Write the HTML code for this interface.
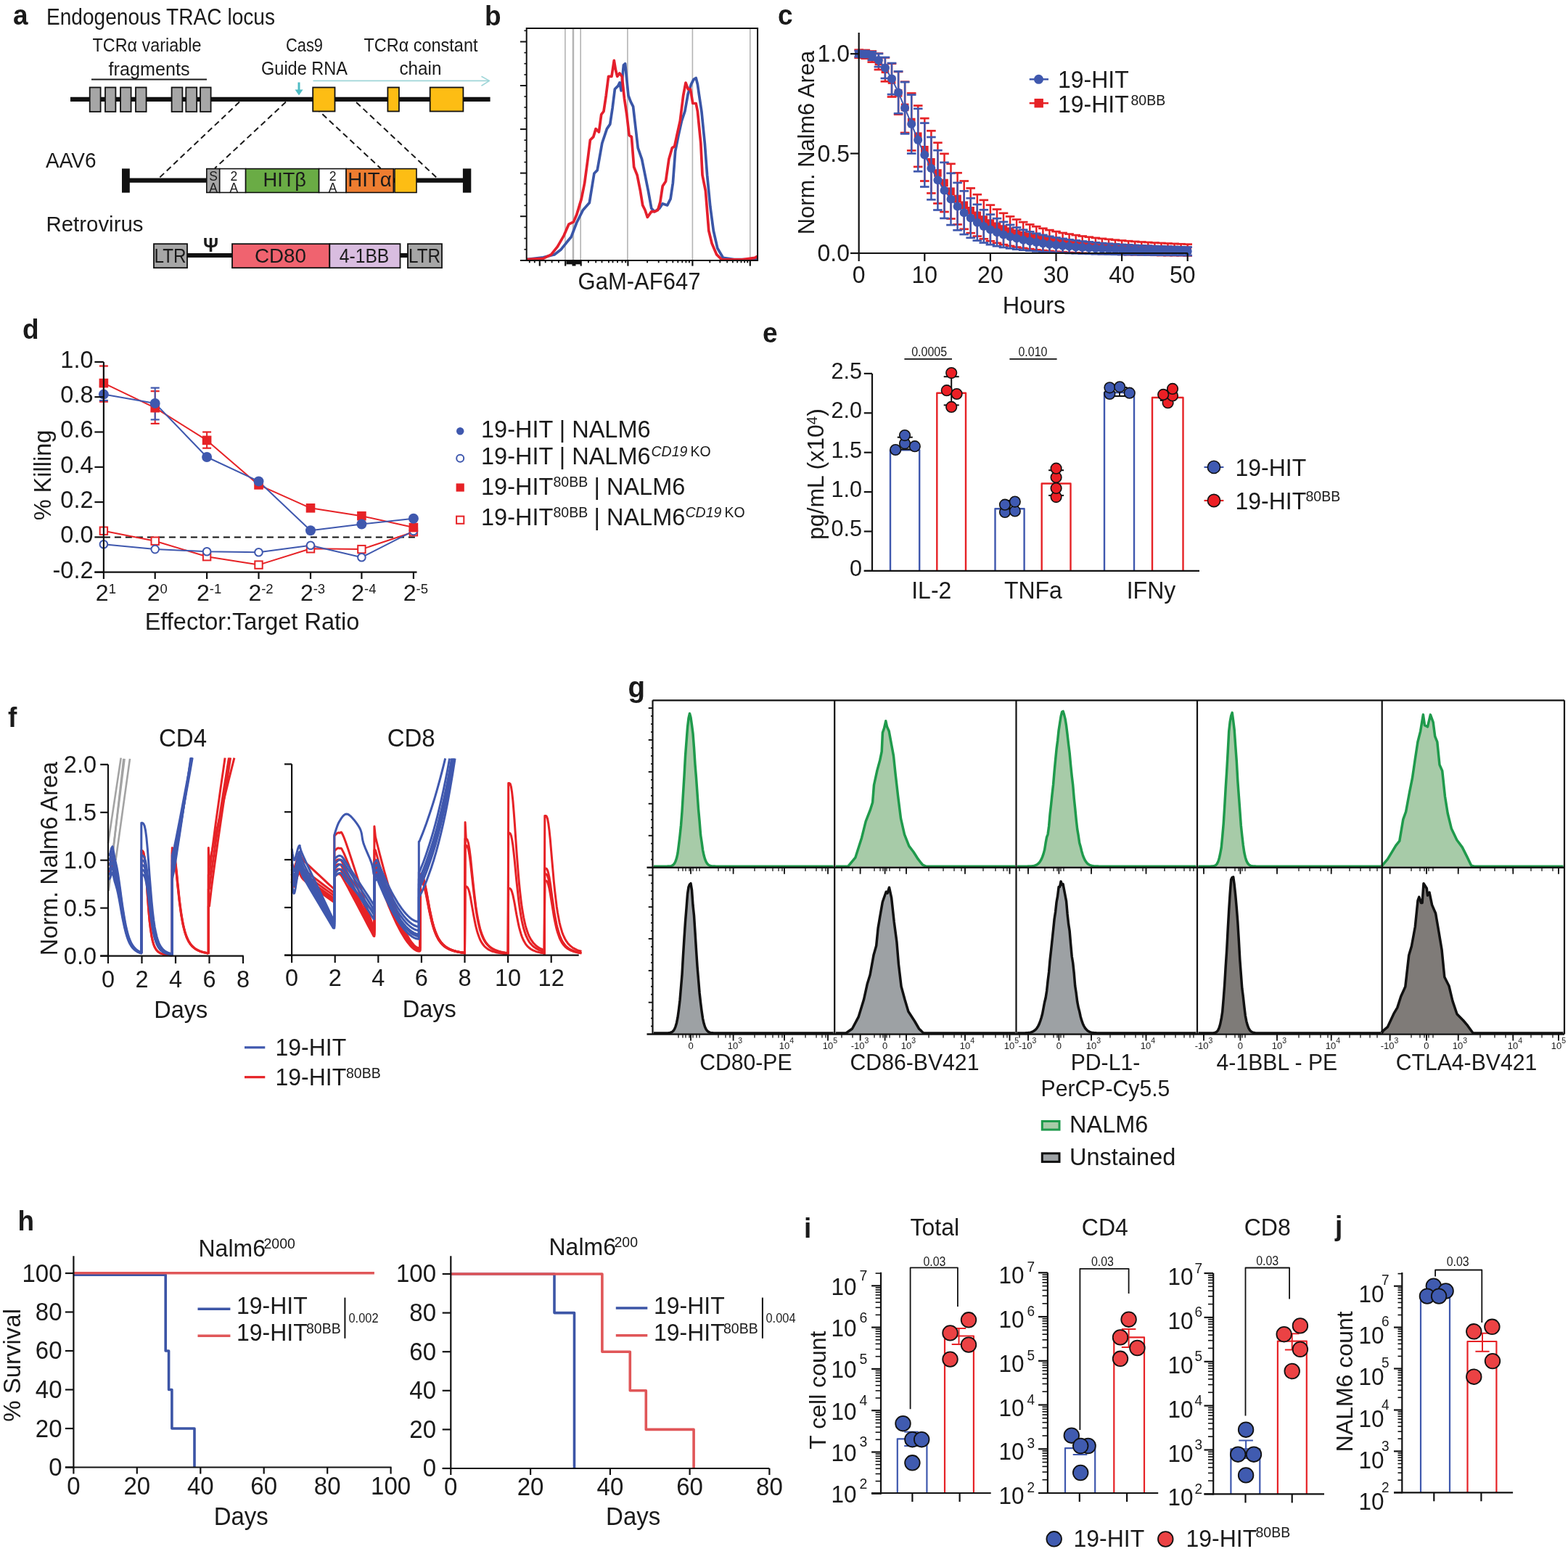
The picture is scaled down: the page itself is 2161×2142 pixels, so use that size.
<!DOCTYPE html>
<html><head><meta charset="utf-8"><title>Figure</title>
<style>html,body{margin:0;padding:0;background:#fff;} svg{display:block;} text{font-family:'Liberation Sans', Arial, sans-serif;fill:#1a1a1a;}</style>
</head><body>
<svg xmlns="http://www.w3.org/2000/svg" width="2161" height="2142" viewBox="0 0 2161 2142">
<rect width="2161" height="2142" fill="#fff"/>
<text x="18" y="34" font-size="37" font-weight="bold" fill="#222222" transform="translate(0 -1.7) scale(1 1.05)">a</text>
<text x="64" y="34" font-size="30.5" textLength="315" lengthAdjust="spacingAndGlyphs" fill="#222222" transform="translate(0 -1.7) scale(1 1.05)">Endogenous TRAC locus</text>
<text x="127.5" y="71" font-size="24.5" textLength="150" lengthAdjust="spacingAndGlyphs" fill="#222222" transform="translate(0 -3.6) scale(1 1.05)">TCRα variable</text>
<text x="149.5" y="103.6" font-size="24.5" textLength="112" lengthAdjust="spacingAndGlyphs" fill="#222222" transform="translate(0 -5.2) scale(1 1.05)">fragments</text>
<text x="394" y="70.6" font-size="24.5" textLength="51" lengthAdjust="spacingAndGlyphs" fill="#222222" transform="translate(0 -3.5) scale(1 1.05)">Cas9</text>
<text x="360" y="103" font-size="24.5" textLength="119" lengthAdjust="spacingAndGlyphs" fill="#222222" transform="translate(0 -5.2) scale(1 1.05)">Guide RNA</text>
<text x="501.5" y="70.6" font-size="24.5" textLength="157" lengthAdjust="spacingAndGlyphs" fill="#222222" transform="translate(0 -3.5) scale(1 1.05)">TCRα constant</text>
<text x="550.5" y="103" font-size="24.5" textLength="58" lengthAdjust="spacingAndGlyphs" fill="#222222" transform="translate(0 -5.2) scale(1 1.05)">chain</text>
<line x1="126" y1="109.6" x2="285" y2="109.6" stroke="#1a1a1a" stroke-width="2"/>
<line x1="330" y1="140.6" x2="219" y2="245.6" stroke="#1a1a1a" stroke-width="2" stroke-dasharray="8 5"/>
<line x1="394" y1="140.6" x2="296" y2="232" stroke="#1a1a1a" stroke-width="2" stroke-dasharray="8 5"/>
<line x1="434.8" y1="148.5" x2="524.6" y2="232" stroke="#1a1a1a" stroke-width="2" stroke-dasharray="8 5"/>
<line x1="491" y1="141" x2="603" y2="246" stroke="#1a1a1a" stroke-width="2" stroke-dasharray="8 5"/>
<line x1="97" y1="136.9" x2="675.6" y2="136.9" stroke="#111" stroke-width="6.2"/>
<rect x="123.7" y="120.5" width="14.9" height="33.5" fill="#a6a6a6" stroke="#111" stroke-width="1.8"/>
<rect x="145" y="120.5" width="14.4" height="33.5" fill="#a6a6a6" stroke="#111" stroke-width="1.8"/>
<rect x="166" y="120.5" width="14.6" height="33.5" fill="#a6a6a6" stroke="#111" stroke-width="1.8"/>
<rect x="187" y="120.5" width="14.6" height="33.5" fill="#a6a6a6" stroke="#111" stroke-width="1.8"/>
<rect x="236.6" y="120.5" width="14.8" height="33.5" fill="#a6a6a6" stroke="#111" stroke-width="1.8"/>
<rect x="256.3" y="120.5" width="14.9" height="33.5" fill="#a6a6a6" stroke="#111" stroke-width="1.8"/>
<rect x="276" y="120.5" width="14.6" height="33.5" fill="#a6a6a6" stroke="#111" stroke-width="1.8"/>
<rect x="431.2" y="120.5" width="30.3" height="33" fill="#fdbd14" stroke="#111" stroke-width="1.8"/>
<rect x="534.4" y="120.5" width="15.5" height="33" fill="#fdbd14" stroke="#111" stroke-width="1.8"/>
<rect x="592.7" y="120.5" width="45.7" height="33" fill="#fdbd14" stroke="#111" stroke-width="1.8"/>
<line x1="431.5" y1="111.4" x2="674" y2="111.4" stroke="#9fd6d8" stroke-width="1.6"/>
<polyline points="663.5,105.3 674.5,111.4 663.5,118.3" fill="none" stroke="#9fd6d8" stroke-width="1.6" stroke-linejoin="round"/>
<line x1="412" y1="113.5" x2="412" y2="125" stroke="#4fbcc4" stroke-width="3"/>
<polygon points="406.5,123.5 417.5,123.5 412.0,131.5" fill="#4fbcc4" stroke="none" stroke-width="0" stroke-linejoin="round"/>
<text x="63" y="230.8" font-size="28" textLength="69.5" lengthAdjust="spacingAndGlyphs" fill="#222222" transform="translate(0 -11.5) scale(1 1.05)">AAV6</text>
<line x1="170" y1="248.7" x2="640" y2="248.7" stroke="#111" stroke-width="6.2"/>
<rect x="168" y="232.4" width="10.8" height="33.2" fill="#111" stroke="none" stroke-width="0"/>
<rect x="637.9" y="232.4" width="11.4" height="33.2" fill="#111" stroke="none" stroke-width="0"/>
<rect x="284.8" y="232.6" width="17.9" height="32.8" fill="#a6a6a6" stroke="#111" stroke-width="1.6"/>
<rect x="302.7" y="232.6" width="35.9" height="32.8" fill="#ffffff" stroke="#111" stroke-width="1.6"/>
<rect x="338.6" y="232.6" width="101" height="32.8" fill="#6aac45" stroke="#111" stroke-width="1.6"/>
<rect x="439.6" y="232.6" width="37.5" height="32.8" fill="#ffffff" stroke="#111" stroke-width="1.6"/>
<rect x="477.1" y="232.6" width="65.2" height="32.8" fill="#ee7d30" stroke="#111" stroke-width="1.6"/>
<rect x="544" y="232.6" width="30" height="32.8" fill="#fdbd14" stroke="#111" stroke-width="1.6"/>
<text x="294" y="248.7" font-size="17.5" text-anchor="middle" fill="#222222" transform="translate(0 -12.4) scale(1 1.05)">S</text>
<text x="294" y="264.5" font-size="17.5" text-anchor="middle" fill="#222222" transform="translate(0 -13.2) scale(1 1.05)">A</text>
<text x="322.3" y="248.7" font-size="17.5" text-anchor="middle" fill="#222222" transform="translate(0 -12.4) scale(1 1.05)">2</text>
<text x="322.3" y="264.5" font-size="17.5" text-anchor="middle" fill="#222222" transform="translate(0 -13.2) scale(1 1.05)">A</text>
<text x="458.5" y="248.7" font-size="17.5" text-anchor="middle" fill="#222222" transform="translate(0 -12.4) scale(1 1.05)">2</text>
<text x="458.5" y="264.5" font-size="17.5" text-anchor="middle" fill="#222222" transform="translate(0 -13.2) scale(1 1.05)">A</text>
<text x="362.5" y="256.8" font-size="26" textLength="59.5" lengthAdjust="spacingAndGlyphs" fill="#222222" transform="translate(0 -12.8) scale(1 1.05)">HITβ</text>
<text x="479.2" y="256.8" font-size="26" textLength="60.5" lengthAdjust="spacingAndGlyphs" fill="#222222" transform="translate(0 -12.8) scale(1 1.05)">HITα</text>
<text x="63.5" y="318.8" font-size="28" textLength="134" lengthAdjust="spacingAndGlyphs" fill="#222222" transform="translate(0 -15.9) scale(1 1.05)">Retrovirus</text>
<line x1="258" y1="352" x2="320" y2="352" stroke="#111" stroke-width="6.2"/>
<line x1="551.5" y1="352" x2="562" y2="352" stroke="#111" stroke-width="6.2"/>
<rect x="212" y="336.2" width="46" height="33" fill="#a6a6a6" stroke="#111" stroke-width="1.8"/>
<rect x="562" y="336.2" width="47" height="33" fill="#a6a6a6" stroke="#111" stroke-width="1.8"/>
<rect x="320" y="336.2" width="134.3" height="33" fill="#f0636f" stroke="#111" stroke-width="1.8"/>
<rect x="454.3" y="336.2" width="97.2" height="33" fill="#d9bde0" stroke="#111" stroke-width="1.8"/>
<text x="212.5" y="362.2" font-size="27" textLength="44" lengthAdjust="spacingAndGlyphs" fill="#222222" transform="translate(0 -18.1) scale(1 1.05)">LTR</text>
<text x="563" y="362.2" font-size="27" textLength="44" lengthAdjust="spacingAndGlyphs" fill="#222222" transform="translate(0 -18.1) scale(1 1.05)">LTR</text>
<text x="351" y="362.2" font-size="27" textLength="71" lengthAdjust="spacingAndGlyphs" fill="#222222" transform="translate(0 -18.1) scale(1 1.05)">CD80</text>
<text x="467.8" y="362.2" font-size="27" textLength="68.5" lengthAdjust="spacingAndGlyphs" fill="#222222" transform="translate(0 -18.1) scale(1 1.05)">4-1BB</text>
<text x="290.6" y="347.5" font-size="26" text-anchor="middle" font-weight="bold" fill="#222222" transform="translate(0 -17.4) scale(1 1.05)">Ψ</text>
<text x="668" y="35" font-size="37" font-weight="bold" transform="translate(0 -1.8) scale(1 1.05)">b</text>
<line x1="778.9" y1="39" x2="778.9" y2="359" stroke="#b4b4b4" stroke-width="1.6"/>
<line x1="789.5" y1="39" x2="789.5" y2="359" stroke="#b4b4b4" stroke-width="1.6"/>
<line x1="790.4" y1="39" x2="790.4" y2="359" stroke="#b4b4b4" stroke-width="1.6"/>
<line x1="800.2" y1="39" x2="800.2" y2="359" stroke="#b4b4b4" stroke-width="1.6"/>
<line x1="864.9" y1="39" x2="864.9" y2="359" stroke="#b4b4b4" stroke-width="1.6"/>
<line x1="954.4" y1="39" x2="954.4" y2="359" stroke="#b4b4b4" stroke-width="1.6"/>
<line x1="1033.8" y1="39" x2="1033.8" y2="359" stroke="#b4b4b4" stroke-width="1.6"/>
<polyline points="725.7,357.5 748.7,354.8 764.0,350.9 772.8,344.3 781.6,333.3 787.1,326.8 794.7,307.0 803.5,289.5 812.3,279.6 818.9,239.0 823.2,234.6 829.8,197.4 836.4,177.6 840.8,171.1 844.1,149.1 847.4,122.8 851.8,118.4 853.9,114.0 856.1,125.0 859.4,89.9 861.6,87.7 863.8,109.6 866.0,131.6 869.3,140.4 872.6,146.9 875.9,175.4 879.2,203.9 884.6,219.3 889.0,241.2 893.4,263.2 897.8,287.3 902.2,291.7 908.8,287.3 913.2,280.7 919.7,282.9 924.1,274.1 927.4,252.2 930.7,208.3 935.1,186.4 939.5,166.7 943.9,153.5 948.2,129.4 952.6,116.2 955.9,109.6 959.2,107.5 961.4,116.2 963.6,131.6 966.9,153.5 971.3,197.4 974.6,241.2 978.9,285.1 983.3,318.0 988.8,342.1 996.5,355.3 1011.8,357.5 1044.1,357.5" fill="none" stroke="#3a56a7" stroke-width="3.7" stroke-linejoin="round"/>
<polyline points="725.7,357.5 748.7,356.4 759.6,350.9 768.4,339.9 777.2,324.6 783.8,309.2 790.4,305.9 794.7,296.1 801.3,274.1 805.7,252.2 810.1,219.3 813.4,193.0 817.8,188.6 821.1,177.6 825.4,182.0 828.7,157.9 832.0,153.5 835.3,131.6 838.6,105.3 843.0,105.3 846.3,83.3 848.5,96.5 850.7,105.3 853.9,100.9 857.2,105.3 860.5,136.0 863.8,157.9 867.1,186.4 870.4,188.6 873.7,230.3 878.1,241.2 882.5,263.2 885.7,282.9 889.0,289.5 892.3,299.3 897.8,291.7 902.2,291.7 906.6,289.5 909.9,278.5 913.2,256.6 917.5,250.0 921.9,219.3 926.3,203.9 929.6,201.8 932.9,186.4 937.3,166.7 941.7,131.6 945.0,114.0 948.2,122.8 951.5,122.8 954.8,142.5 959.2,142.5 961.4,153.5 965.8,197.4 968.0,241.2 972.4,263.2 976.8,318.0 981.1,335.5 987.7,350.9 994.3,357.5 1022.8,357.9 1040.4,355.3 1044.1,353.1" fill="none" stroke="#e41f2c" stroke-width="3.7" stroke-linejoin="round"/>
<rect x="725.7" y="39" width="318.4" height="320" fill="none" stroke="#111" stroke-width="2"/>
<line x1="716.9" y1="57.5" x2="725.7" y2="57.5" stroke="#111" stroke-width="2"/>
<line x1="716.9" y1="118" x2="725.7" y2="118" stroke="#111" stroke-width="2"/>
<line x1="716.9" y1="178.1" x2="725.7" y2="178.1" stroke="#111" stroke-width="2"/>
<line x1="716.9" y1="238.6" x2="725.7" y2="238.6" stroke="#111" stroke-width="2"/>
<line x1="716.9" y1="298.2" x2="725.7" y2="298.2" stroke="#111" stroke-width="2"/>
<line x1="716.9" y1="359" x2="725.7" y2="359" stroke="#111" stroke-width="2"/>
<line x1="722.4" y1="72.6" x2="725.7" y2="72.6" stroke="#111" stroke-width="1.6"/>
<line x1="722.4" y1="87.7" x2="725.7" y2="87.7" stroke="#111" stroke-width="1.6"/>
<line x1="722.4" y1="102.9" x2="725.7" y2="102.9" stroke="#111" stroke-width="1.6"/>
<line x1="722.4" y1="133" x2="725.7" y2="133" stroke="#111" stroke-width="1.6"/>
<line x1="722.4" y1="148" x2="725.7" y2="148" stroke="#111" stroke-width="1.6"/>
<line x1="722.4" y1="163" x2="725.7" y2="163" stroke="#111" stroke-width="1.6"/>
<line x1="722.4" y1="193.2" x2="725.7" y2="193.2" stroke="#111" stroke-width="1.6"/>
<line x1="722.4" y1="208.3" x2="725.7" y2="208.3" stroke="#111" stroke-width="1.6"/>
<line x1="722.4" y1="223.5" x2="725.7" y2="223.5" stroke="#111" stroke-width="1.6"/>
<line x1="722.4" y1="253.5" x2="725.7" y2="253.5" stroke="#111" stroke-width="1.6"/>
<line x1="722.4" y1="268.4" x2="725.7" y2="268.4" stroke="#111" stroke-width="1.6"/>
<line x1="722.4" y1="283.3" x2="725.7" y2="283.3" stroke="#111" stroke-width="1.6"/>
<line x1="722.4" y1="313.4" x2="725.7" y2="313.4" stroke="#111" stroke-width="1.6"/>
<line x1="722.4" y1="328.6" x2="725.7" y2="328.6" stroke="#111" stroke-width="1.6"/>
<line x1="722.4" y1="343.8" x2="725.7" y2="343.8" stroke="#111" stroke-width="1.6"/>
<line x1="722.4" y1="42.3" x2="725.7" y2="42.3" stroke="#111" stroke-width="1.6"/>
<line x1="743.8" y1="359" x2="743.8" y2="366.6" stroke="#111" stroke-width="2.2"/>
<line x1="779.2" y1="359" x2="779.2" y2="366.6" stroke="#111" stroke-width="2.2"/>
<line x1="800.7" y1="359" x2="800.7" y2="366.6" stroke="#111" stroke-width="2.2"/>
<line x1="865.4" y1="359" x2="865.4" y2="366.6" stroke="#111" stroke-width="2.2"/>
<line x1="954.4" y1="359" x2="954.4" y2="366.6" stroke="#111" stroke-width="2.2"/>
<line x1="1033.8" y1="359" x2="1033.8" y2="366.6" stroke="#111" stroke-width="2.2"/>
<line x1="729.8" y1="359" x2="729.8" y2="362.3" stroke="#111" stroke-width="1.9"/>
<line x1="736.8" y1="359" x2="736.8" y2="362.3" stroke="#111" stroke-width="1.9"/>
<line x1="751.7" y1="359" x2="751.7" y2="362.3" stroke="#111" stroke-width="1.9"/>
<line x1="760.6" y1="359" x2="760.6" y2="362.3" stroke="#111" stroke-width="1.9"/>
<line x1="769.9" y1="359" x2="769.9" y2="362.3" stroke="#111" stroke-width="1.9"/>
<line x1="810.9" y1="359" x2="810.9" y2="362.3" stroke="#111" stroke-width="1.9"/>
<line x1="821.2" y1="359" x2="821.2" y2="362.3" stroke="#111" stroke-width="1.9"/>
<line x1="829.5" y1="359" x2="829.5" y2="362.3" stroke="#111" stroke-width="1.9"/>
<line x1="838.9" y1="359" x2="838.9" y2="362.3" stroke="#111" stroke-width="1.9"/>
<line x1="844.5" y1="359" x2="844.5" y2="362.3" stroke="#111" stroke-width="1.9"/>
<line x1="851" y1="359" x2="851" y2="362.3" stroke="#111" stroke-width="1.9"/>
<line x1="857.5" y1="359" x2="857.5" y2="362.3" stroke="#111" stroke-width="1.9"/>
<line x1="862.2" y1="359" x2="862.2" y2="362.3" stroke="#111" stroke-width="1.9"/>
<line x1="892.1" y1="359" x2="892.1" y2="362.3" stroke="#111" stroke-width="1.9"/>
<line x1="978.3" y1="359" x2="978.3" y2="362.3" stroke="#111" stroke-width="1.9"/>
<line x1="907.7" y1="359" x2="907.7" y2="362.3" stroke="#111" stroke-width="1.9"/>
<line x1="992.3" y1="359" x2="992.3" y2="362.3" stroke="#111" stroke-width="1.9"/>
<line x1="918.7" y1="359" x2="918.7" y2="362.3" stroke="#111" stroke-width="1.9"/>
<line x1="1002.2" y1="359" x2="1002.2" y2="362.3" stroke="#111" stroke-width="1.9"/>
<line x1="927.3" y1="359" x2="927.3" y2="362.3" stroke="#111" stroke-width="1.9"/>
<line x1="1009.9" y1="359" x2="1009.9" y2="362.3" stroke="#111" stroke-width="1.9"/>
<line x1="934.3" y1="359" x2="934.3" y2="362.3" stroke="#111" stroke-width="1.9"/>
<line x1="1016.2" y1="359" x2="1016.2" y2="362.3" stroke="#111" stroke-width="1.9"/>
<line x1="940.3" y1="359" x2="940.3" y2="362.3" stroke="#111" stroke-width="1.9"/>
<line x1="1021.5" y1="359" x2="1021.5" y2="362.3" stroke="#111" stroke-width="1.9"/>
<line x1="945.4" y1="359" x2="945.4" y2="362.3" stroke="#111" stroke-width="1.9"/>
<line x1="1026.1" y1="359" x2="1026.1" y2="362.3" stroke="#111" stroke-width="1.9"/>
<line x1="949.9" y1="359" x2="949.9" y2="362.3" stroke="#111" stroke-width="1.9"/>
<line x1="1030.2" y1="359" x2="1030.2" y2="362.3" stroke="#111" stroke-width="1.9"/>
<rect x="780.5" y="359" width="20.5" height="5.3" fill="#111" stroke="none" stroke-width="0"/>
<rect x="788.5" y="359" width="5" height="7.5" fill="#111" stroke="none" stroke-width="0"/>
<text x="881" y="398.5" font-size="31" text-anchor="middle" transform="translate(0 -19.9) scale(1 1.05)">GaM-AF647</text>
<text x="1072" y="34.2" font-size="37" font-weight="bold" transform="translate(0 -1.7) scale(1 1.05)">c</text>
<line x1="1183.7" y1="68.7" x2="1183.7" y2="79.7" stroke="#e62226" stroke-width="2.5"/>
<line x1="1177.4" y1="68.7" x2="1190" y2="68.7" stroke="#e62226" stroke-width="2.7"/>
<line x1="1177.4" y1="79.7" x2="1190" y2="79.7" stroke="#e62226" stroke-width="2.7"/>
<line x1="1192.8" y1="69" x2="1192.8" y2="80.7" stroke="#e62226" stroke-width="2.5"/>
<line x1="1186.5" y1="69" x2="1199.1" y2="69" stroke="#e62226" stroke-width="2.7"/>
<line x1="1186.5" y1="80.7" x2="1199.1" y2="80.7" stroke="#e62226" stroke-width="2.7"/>
<line x1="1201.8" y1="70.5" x2="1201.8" y2="85.6" stroke="#e62226" stroke-width="2.5"/>
<line x1="1195.5" y1="70.5" x2="1208.1" y2="70.5" stroke="#e62226" stroke-width="2.7"/>
<line x1="1195.5" y1="85.6" x2="1208.1" y2="85.6" stroke="#e62226" stroke-width="2.7"/>
<line x1="1210.9" y1="73.7" x2="1210.9" y2="96" stroke="#e62226" stroke-width="2.5"/>
<line x1="1204.6" y1="73.7" x2="1217.2" y2="73.7" stroke="#e62226" stroke-width="2.7"/>
<line x1="1204.6" y1="96" x2="1217.2" y2="96" stroke="#e62226" stroke-width="2.7"/>
<line x1="1219.9" y1="79.4" x2="1219.9" y2="112.3" stroke="#e62226" stroke-width="2.5"/>
<line x1="1213.6" y1="79.4" x2="1226.2" y2="79.4" stroke="#e62226" stroke-width="2.7"/>
<line x1="1213.6" y1="112.3" x2="1226.2" y2="112.3" stroke="#e62226" stroke-width="2.7"/>
<line x1="1229" y1="87.7" x2="1229" y2="133.5" stroke="#e62226" stroke-width="2.5"/>
<line x1="1222.7" y1="87.7" x2="1235.3" y2="87.7" stroke="#e62226" stroke-width="2.7"/>
<line x1="1222.7" y1="133.5" x2="1235.3" y2="133.5" stroke="#e62226" stroke-width="2.7"/>
<line x1="1238.1" y1="98.9" x2="1238.1" y2="157.7" stroke="#e62226" stroke-width="2.5"/>
<line x1="1231.8" y1="98.9" x2="1244.4" y2="98.9" stroke="#e62226" stroke-width="2.7"/>
<line x1="1231.8" y1="157.7" x2="1244.4" y2="157.7" stroke="#e62226" stroke-width="2.7"/>
<line x1="1247.1" y1="112.7" x2="1247.1" y2="183" stroke="#e62226" stroke-width="2.5"/>
<line x1="1240.8" y1="112.7" x2="1253.4" y2="112.7" stroke="#e62226" stroke-width="2.7"/>
<line x1="1240.8" y1="183" x2="1253.4" y2="183" stroke="#e62226" stroke-width="2.7"/>
<line x1="1256.2" y1="128.5" x2="1256.2" y2="207.5" stroke="#e62226" stroke-width="2.5"/>
<line x1="1249.9" y1="128.5" x2="1262.5" y2="128.5" stroke="#e62226" stroke-width="2.7"/>
<line x1="1249.9" y1="207.5" x2="1262.5" y2="207.5" stroke="#e62226" stroke-width="2.7"/>
<line x1="1265.2" y1="145.6" x2="1265.2" y2="229.9" stroke="#e62226" stroke-width="2.5"/>
<line x1="1258.9" y1="145.6" x2="1271.5" y2="145.6" stroke="#e62226" stroke-width="2.7"/>
<line x1="1258.9" y1="229.9" x2="1271.5" y2="229.9" stroke="#e62226" stroke-width="2.7"/>
<line x1="1274.3" y1="163.1" x2="1274.3" y2="249.5" stroke="#e62226" stroke-width="2.5"/>
<line x1="1268" y1="163.1" x2="1280.6" y2="163.1" stroke="#e62226" stroke-width="2.7"/>
<line x1="1268" y1="249.5" x2="1280.6" y2="249.5" stroke="#e62226" stroke-width="2.7"/>
<line x1="1283.4" y1="180.3" x2="1283.4" y2="266.3" stroke="#e62226" stroke-width="2.5"/>
<line x1="1277.1" y1="180.3" x2="1289.7" y2="180.3" stroke="#e62226" stroke-width="2.7"/>
<line x1="1277.1" y1="266.3" x2="1289.7" y2="266.3" stroke="#e62226" stroke-width="2.7"/>
<line x1="1292.4" y1="196.7" x2="1292.4" y2="280.4" stroke="#e62226" stroke-width="2.5"/>
<line x1="1286.1" y1="196.7" x2="1298.7" y2="196.7" stroke="#e62226" stroke-width="2.7"/>
<line x1="1286.1" y1="280.4" x2="1298.7" y2="280.4" stroke="#e62226" stroke-width="2.7"/>
<line x1="1301.5" y1="211.9" x2="1301.5" y2="292" stroke="#e62226" stroke-width="2.5"/>
<line x1="1295.2" y1="211.9" x2="1307.8" y2="211.9" stroke="#e62226" stroke-width="2.7"/>
<line x1="1295.2" y1="292" x2="1307.8" y2="292" stroke="#e62226" stroke-width="2.7"/>
<line x1="1310.5" y1="225.8" x2="1310.5" y2="301.5" stroke="#e62226" stroke-width="2.5"/>
<line x1="1304.2" y1="225.8" x2="1316.8" y2="225.8" stroke="#e62226" stroke-width="2.7"/>
<line x1="1304.2" y1="301.5" x2="1316.8" y2="301.5" stroke="#e62226" stroke-width="2.7"/>
<line x1="1319.6" y1="238.3" x2="1319.6" y2="309.4" stroke="#e62226" stroke-width="2.5"/>
<line x1="1313.3" y1="238.3" x2="1325.9" y2="238.3" stroke="#e62226" stroke-width="2.7"/>
<line x1="1313.3" y1="309.4" x2="1325.9" y2="309.4" stroke="#e62226" stroke-width="2.7"/>
<line x1="1328.7" y1="249.5" x2="1328.7" y2="315.8" stroke="#e62226" stroke-width="2.5"/>
<line x1="1322.4" y1="249.5" x2="1335" y2="249.5" stroke="#e62226" stroke-width="2.7"/>
<line x1="1322.4" y1="315.8" x2="1335" y2="315.8" stroke="#e62226" stroke-width="2.7"/>
<line x1="1337.7" y1="259.4" x2="1337.7" y2="321.2" stroke="#e62226" stroke-width="2.5"/>
<line x1="1331.4" y1="259.4" x2="1344" y2="259.4" stroke="#e62226" stroke-width="2.7"/>
<line x1="1331.4" y1="321.2" x2="1344" y2="321.2" stroke="#e62226" stroke-width="2.7"/>
<line x1="1346.8" y1="268.1" x2="1346.8" y2="325.6" stroke="#e62226" stroke-width="2.5"/>
<line x1="1340.5" y1="268.1" x2="1353.1" y2="268.1" stroke="#e62226" stroke-width="2.7"/>
<line x1="1340.5" y1="325.6" x2="1353.1" y2="325.6" stroke="#e62226" stroke-width="2.7"/>
<line x1="1355.8" y1="275.8" x2="1355.8" y2="329.3" stroke="#e62226" stroke-width="2.5"/>
<line x1="1349.5" y1="275.8" x2="1362.1" y2="275.8" stroke="#e62226" stroke-width="2.7"/>
<line x1="1349.5" y1="329.3" x2="1362.1" y2="329.3" stroke="#e62226" stroke-width="2.7"/>
<line x1="1364.9" y1="282.6" x2="1364.9" y2="332.3" stroke="#e62226" stroke-width="2.5"/>
<line x1="1358.6" y1="282.6" x2="1371.2" y2="282.6" stroke="#e62226" stroke-width="2.7"/>
<line x1="1358.6" y1="332.3" x2="1371.2" y2="332.3" stroke="#e62226" stroke-width="2.7"/>
<line x1="1374" y1="288.5" x2="1374" y2="334.9" stroke="#e62226" stroke-width="2.5"/>
<line x1="1367.7" y1="288.5" x2="1380.3" y2="288.5" stroke="#e62226" stroke-width="2.7"/>
<line x1="1367.7" y1="334.9" x2="1380.3" y2="334.9" stroke="#e62226" stroke-width="2.7"/>
<line x1="1383" y1="293.8" x2="1383" y2="337.2" stroke="#e62226" stroke-width="2.5"/>
<line x1="1376.7" y1="293.8" x2="1389.3" y2="293.8" stroke="#e62226" stroke-width="2.7"/>
<line x1="1376.7" y1="337.2" x2="1389.3" y2="337.2" stroke="#e62226" stroke-width="2.7"/>
<line x1="1392.1" y1="298.4" x2="1392.1" y2="339" stroke="#e62226" stroke-width="2.5"/>
<line x1="1385.8" y1="298.4" x2="1398.4" y2="298.4" stroke="#e62226" stroke-width="2.7"/>
<line x1="1385.8" y1="339" x2="1398.4" y2="339" stroke="#e62226" stroke-width="2.7"/>
<line x1="1401.1" y1="302.5" x2="1401.1" y2="340.6" stroke="#e62226" stroke-width="2.5"/>
<line x1="1394.8" y1="302.5" x2="1407.4" y2="302.5" stroke="#e62226" stroke-width="2.7"/>
<line x1="1394.8" y1="340.6" x2="1407.4" y2="340.6" stroke="#e62226" stroke-width="2.7"/>
<line x1="1410.2" y1="306.1" x2="1410.2" y2="342" stroke="#e62226" stroke-width="2.5"/>
<line x1="1403.9" y1="306.1" x2="1416.5" y2="306.1" stroke="#e62226" stroke-width="2.7"/>
<line x1="1403.9" y1="342" x2="1416.5" y2="342" stroke="#e62226" stroke-width="2.7"/>
<line x1="1419.3" y1="309.4" x2="1419.3" y2="343.2" stroke="#e62226" stroke-width="2.5"/>
<line x1="1413" y1="309.4" x2="1425.6" y2="309.4" stroke="#e62226" stroke-width="2.7"/>
<line x1="1413" y1="343.2" x2="1425.6" y2="343.2" stroke="#e62226" stroke-width="2.7"/>
<line x1="1428.3" y1="312.2" x2="1428.3" y2="344.3" stroke="#e62226" stroke-width="2.5"/>
<line x1="1422" y1="312.2" x2="1434.6" y2="312.2" stroke="#e62226" stroke-width="2.7"/>
<line x1="1422" y1="344.3" x2="1434.6" y2="344.3" stroke="#e62226" stroke-width="2.7"/>
<line x1="1437.4" y1="314.8" x2="1437.4" y2="345.2" stroke="#e62226" stroke-width="2.5"/>
<line x1="1431.1" y1="314.8" x2="1443.7" y2="314.8" stroke="#e62226" stroke-width="2.7"/>
<line x1="1431.1" y1="345.2" x2="1443.7" y2="345.2" stroke="#e62226" stroke-width="2.7"/>
<line x1="1446.4" y1="317.1" x2="1446.4" y2="346" stroke="#e62226" stroke-width="2.5"/>
<line x1="1440.1" y1="317.1" x2="1452.7" y2="317.1" stroke="#e62226" stroke-width="2.7"/>
<line x1="1440.1" y1="346" x2="1452.7" y2="346" stroke="#e62226" stroke-width="2.7"/>
<line x1="1455.5" y1="319.1" x2="1455.5" y2="346.8" stroke="#e62226" stroke-width="2.5"/>
<line x1="1449.2" y1="319.1" x2="1461.8" y2="319.1" stroke="#e62226" stroke-width="2.7"/>
<line x1="1449.2" y1="346.8" x2="1461.8" y2="346.8" stroke="#e62226" stroke-width="2.7"/>
<line x1="1464.6" y1="321" x2="1464.6" y2="347.4" stroke="#e62226" stroke-width="2.5"/>
<line x1="1458.3" y1="321" x2="1470.9" y2="321" stroke="#e62226" stroke-width="2.7"/>
<line x1="1458.3" y1="347.4" x2="1470.9" y2="347.4" stroke="#e62226" stroke-width="2.7"/>
<line x1="1473.6" y1="322.6" x2="1473.6" y2="348" stroke="#e62226" stroke-width="2.5"/>
<line x1="1467.3" y1="322.6" x2="1479.9" y2="322.6" stroke="#e62226" stroke-width="2.7"/>
<line x1="1467.3" y1="348" x2="1479.9" y2="348" stroke="#e62226" stroke-width="2.7"/>
<line x1="1482.7" y1="324.1" x2="1482.7" y2="348.5" stroke="#e62226" stroke-width="2.5"/>
<line x1="1476.4" y1="324.1" x2="1489" y2="324.1" stroke="#e62226" stroke-width="2.7"/>
<line x1="1476.4" y1="348.5" x2="1489" y2="348.5" stroke="#e62226" stroke-width="2.7"/>
<line x1="1491.7" y1="325.5" x2="1491.7" y2="348.9" stroke="#e62226" stroke-width="2.5"/>
<line x1="1485.4" y1="325.5" x2="1498" y2="325.5" stroke="#e62226" stroke-width="2.7"/>
<line x1="1485.4" y1="348.9" x2="1498" y2="348.9" stroke="#e62226" stroke-width="2.7"/>
<line x1="1500.8" y1="326.7" x2="1500.8" y2="349.3" stroke="#e62226" stroke-width="2.5"/>
<line x1="1494.5" y1="326.7" x2="1507.1" y2="326.7" stroke="#e62226" stroke-width="2.7"/>
<line x1="1494.5" y1="349.3" x2="1507.1" y2="349.3" stroke="#e62226" stroke-width="2.7"/>
<line x1="1509.9" y1="327.9" x2="1509.9" y2="349.7" stroke="#e62226" stroke-width="2.5"/>
<line x1="1503.6" y1="327.9" x2="1516.2" y2="327.9" stroke="#e62226" stroke-width="2.7"/>
<line x1="1503.6" y1="349.7" x2="1516.2" y2="349.7" stroke="#e62226" stroke-width="2.7"/>
<line x1="1518.9" y1="328.9" x2="1518.9" y2="350" stroke="#e62226" stroke-width="2.5"/>
<line x1="1512.6" y1="328.9" x2="1525.2" y2="328.9" stroke="#e62226" stroke-width="2.7"/>
<line x1="1512.6" y1="350" x2="1525.2" y2="350" stroke="#e62226" stroke-width="2.7"/>
<line x1="1528" y1="329.8" x2="1528" y2="350.3" stroke="#e62226" stroke-width="2.5"/>
<line x1="1521.7" y1="329.8" x2="1534.3" y2="329.8" stroke="#e62226" stroke-width="2.7"/>
<line x1="1521.7" y1="350.3" x2="1534.3" y2="350.3" stroke="#e62226" stroke-width="2.7"/>
<line x1="1537" y1="330.7" x2="1537" y2="350.6" stroke="#e62226" stroke-width="2.5"/>
<line x1="1530.7" y1="330.7" x2="1543.3" y2="330.7" stroke="#e62226" stroke-width="2.7"/>
<line x1="1530.7" y1="350.6" x2="1543.3" y2="350.6" stroke="#e62226" stroke-width="2.7"/>
<line x1="1546.1" y1="331.5" x2="1546.1" y2="350.8" stroke="#e62226" stroke-width="2.5"/>
<line x1="1539.8" y1="331.5" x2="1552.4" y2="331.5" stroke="#e62226" stroke-width="2.7"/>
<line x1="1539.8" y1="350.8" x2="1552.4" y2="350.8" stroke="#e62226" stroke-width="2.7"/>
<line x1="1555.2" y1="332.2" x2="1555.2" y2="351.1" stroke="#e62226" stroke-width="2.5"/>
<line x1="1548.9" y1="332.2" x2="1561.5" y2="332.2" stroke="#e62226" stroke-width="2.7"/>
<line x1="1548.9" y1="351.1" x2="1561.5" y2="351.1" stroke="#e62226" stroke-width="2.7"/>
<line x1="1564.2" y1="332.9" x2="1564.2" y2="351.3" stroke="#e62226" stroke-width="2.5"/>
<line x1="1557.9" y1="332.9" x2="1570.5" y2="332.9" stroke="#e62226" stroke-width="2.7"/>
<line x1="1557.9" y1="351.3" x2="1570.5" y2="351.3" stroke="#e62226" stroke-width="2.7"/>
<line x1="1573.3" y1="333.5" x2="1573.3" y2="351.5" stroke="#e62226" stroke-width="2.5"/>
<line x1="1567" y1="333.5" x2="1579.6" y2="333.5" stroke="#e62226" stroke-width="2.7"/>
<line x1="1567" y1="351.5" x2="1579.6" y2="351.5" stroke="#e62226" stroke-width="2.7"/>
<line x1="1582.3" y1="334" x2="1582.3" y2="351.6" stroke="#e62226" stroke-width="2.5"/>
<line x1="1576" y1="334" x2="1588.6" y2="334" stroke="#e62226" stroke-width="2.7"/>
<line x1="1576" y1="351.6" x2="1588.6" y2="351.6" stroke="#e62226" stroke-width="2.7"/>
<line x1="1591.4" y1="334.6" x2="1591.4" y2="351.8" stroke="#e62226" stroke-width="2.5"/>
<line x1="1585.1" y1="334.6" x2="1597.7" y2="334.6" stroke="#e62226" stroke-width="2.7"/>
<line x1="1585.1" y1="351.8" x2="1597.7" y2="351.8" stroke="#e62226" stroke-width="2.7"/>
<line x1="1600.5" y1="335" x2="1600.5" y2="352" stroke="#e62226" stroke-width="2.5"/>
<line x1="1594.2" y1="335" x2="1606.8" y2="335" stroke="#e62226" stroke-width="2.7"/>
<line x1="1594.2" y1="352" x2="1606.8" y2="352" stroke="#e62226" stroke-width="2.7"/>
<line x1="1609.5" y1="335.5" x2="1609.5" y2="352.1" stroke="#e62226" stroke-width="2.5"/>
<line x1="1603.2" y1="335.5" x2="1615.8" y2="335.5" stroke="#e62226" stroke-width="2.7"/>
<line x1="1603.2" y1="352.1" x2="1615.8" y2="352.1" stroke="#e62226" stroke-width="2.7"/>
<line x1="1618.6" y1="335.9" x2="1618.6" y2="352.2" stroke="#e62226" stroke-width="2.5"/>
<line x1="1612.3" y1="335.9" x2="1624.9" y2="335.9" stroke="#e62226" stroke-width="2.7"/>
<line x1="1612.3" y1="352.2" x2="1624.9" y2="352.2" stroke="#e62226" stroke-width="2.7"/>
<line x1="1627.6" y1="336.3" x2="1627.6" y2="352.3" stroke="#e62226" stroke-width="2.5"/>
<line x1="1621.3" y1="336.3" x2="1633.9" y2="336.3" stroke="#e62226" stroke-width="2.7"/>
<line x1="1621.3" y1="352.3" x2="1633.9" y2="352.3" stroke="#e62226" stroke-width="2.7"/>
<line x1="1636.7" y1="336.7" x2="1636.7" y2="352.5" stroke="#e62226" stroke-width="2.5"/>
<line x1="1630.4" y1="336.7" x2="1643" y2="336.7" stroke="#e62226" stroke-width="2.7"/>
<line x1="1630.4" y1="352.5" x2="1643" y2="352.5" stroke="#e62226" stroke-width="2.7"/>
<rect x="1178.4" y="68.9" width="10.6" height="10.6" fill="#e62226" stroke="none" stroke-width="0"/>
<rect x="1187.5" y="69.5" width="10.6" height="10.6" fill="#e62226" stroke="none" stroke-width="0"/>
<rect x="1196.5" y="72.7" width="10.6" height="10.6" fill="#e62226" stroke="none" stroke-width="0"/>
<rect x="1205.6" y="79.6" width="10.6" height="10.6" fill="#e62226" stroke="none" stroke-width="0"/>
<rect x="1214.6" y="90.5" width="10.6" height="10.6" fill="#e62226" stroke="none" stroke-width="0"/>
<rect x="1223.7" y="105.3" width="10.6" height="10.6" fill="#e62226" stroke="none" stroke-width="0"/>
<rect x="1232.8" y="123" width="10.6" height="10.6" fill="#e62226" stroke="none" stroke-width="0"/>
<rect x="1241.8" y="142.6" width="10.6" height="10.6" fill="#e62226" stroke="none" stroke-width="0"/>
<rect x="1250.9" y="162.7" width="10.6" height="10.6" fill="#e62226" stroke="none" stroke-width="0"/>
<rect x="1259.9" y="182.4" width="10.6" height="10.6" fill="#e62226" stroke="none" stroke-width="0"/>
<rect x="1269" y="201" width="10.6" height="10.6" fill="#e62226" stroke="none" stroke-width="0"/>
<rect x="1278.1" y="218" width="10.6" height="10.6" fill="#e62226" stroke="none" stroke-width="0"/>
<rect x="1287.1" y="233.2" width="10.6" height="10.6" fill="#e62226" stroke="none" stroke-width="0"/>
<rect x="1296.2" y="246.7" width="10.6" height="10.6" fill="#e62226" stroke="none" stroke-width="0"/>
<rect x="1305.2" y="258.4" width="10.6" height="10.6" fill="#e62226" stroke="none" stroke-width="0"/>
<rect x="1314.3" y="268.6" width="10.6" height="10.6" fill="#e62226" stroke="none" stroke-width="0"/>
<rect x="1323.4" y="277.4" width="10.6" height="10.6" fill="#e62226" stroke="none" stroke-width="0"/>
<rect x="1332.4" y="285" width="10.6" height="10.6" fill="#e62226" stroke="none" stroke-width="0"/>
<rect x="1341.5" y="291.5" width="10.6" height="10.6" fill="#e62226" stroke="none" stroke-width="0"/>
<rect x="1350.5" y="297.2" width="10.6" height="10.6" fill="#e62226" stroke="none" stroke-width="0"/>
<rect x="1359.6" y="302.2" width="10.6" height="10.6" fill="#e62226" stroke="none" stroke-width="0"/>
<rect x="1368.7" y="306.4" width="10.6" height="10.6" fill="#e62226" stroke="none" stroke-width="0"/>
<rect x="1377.7" y="310.2" width="10.6" height="10.6" fill="#e62226" stroke="none" stroke-width="0"/>
<rect x="1386.8" y="313.4" width="10.6" height="10.6" fill="#e62226" stroke="none" stroke-width="0"/>
<rect x="1395.8" y="316.3" width="10.6" height="10.6" fill="#e62226" stroke="none" stroke-width="0"/>
<rect x="1404.9" y="318.8" width="10.6" height="10.6" fill="#e62226" stroke="none" stroke-width="0"/>
<rect x="1414" y="321" width="10.6" height="10.6" fill="#e62226" stroke="none" stroke-width="0"/>
<rect x="1423" y="323" width="10.6" height="10.6" fill="#e62226" stroke="none" stroke-width="0"/>
<rect x="1432.1" y="324.7" width="10.6" height="10.6" fill="#e62226" stroke="none" stroke-width="0"/>
<rect x="1441.1" y="326.3" width="10.6" height="10.6" fill="#e62226" stroke="none" stroke-width="0"/>
<rect x="1450.2" y="327.6" width="10.6" height="10.6" fill="#e62226" stroke="none" stroke-width="0"/>
<rect x="1459.3" y="328.9" width="10.6" height="10.6" fill="#e62226" stroke="none" stroke-width="0"/>
<rect x="1468.3" y="330" width="10.6" height="10.6" fill="#e62226" stroke="none" stroke-width="0"/>
<rect x="1477.4" y="331" width="10.6" height="10.6" fill="#e62226" stroke="none" stroke-width="0"/>
<rect x="1486.4" y="331.9" width="10.6" height="10.6" fill="#e62226" stroke="none" stroke-width="0"/>
<rect x="1495.5" y="332.7" width="10.6" height="10.6" fill="#e62226" stroke="none" stroke-width="0"/>
<rect x="1504.6" y="333.5" width="10.6" height="10.6" fill="#e62226" stroke="none" stroke-width="0"/>
<rect x="1513.6" y="334.2" width="10.6" height="10.6" fill="#e62226" stroke="none" stroke-width="0"/>
<rect x="1522.7" y="334.8" width="10.6" height="10.6" fill="#e62226" stroke="none" stroke-width="0"/>
<rect x="1531.7" y="335.3" width="10.6" height="10.6" fill="#e62226" stroke="none" stroke-width="0"/>
<rect x="1540.8" y="335.9" width="10.6" height="10.6" fill="#e62226" stroke="none" stroke-width="0"/>
<rect x="1549.9" y="336.3" width="10.6" height="10.6" fill="#e62226" stroke="none" stroke-width="0"/>
<rect x="1558.9" y="336.8" width="10.6" height="10.6" fill="#e62226" stroke="none" stroke-width="0"/>
<rect x="1568" y="337.2" width="10.6" height="10.6" fill="#e62226" stroke="none" stroke-width="0"/>
<rect x="1577" y="337.5" width="10.6" height="10.6" fill="#e62226" stroke="none" stroke-width="0"/>
<rect x="1586.1" y="337.9" width="10.6" height="10.6" fill="#e62226" stroke="none" stroke-width="0"/>
<rect x="1595.2" y="338.2" width="10.6" height="10.6" fill="#e62226" stroke="none" stroke-width="0"/>
<rect x="1604.2" y="338.5" width="10.6" height="10.6" fill="#e62226" stroke="none" stroke-width="0"/>
<rect x="1613.3" y="338.8" width="10.6" height="10.6" fill="#e62226" stroke="none" stroke-width="0"/>
<rect x="1622.3" y="339" width="10.6" height="10.6" fill="#e62226" stroke="none" stroke-width="0"/>
<rect x="1631.4" y="339.3" width="10.6" height="10.6" fill="#e62226" stroke="none" stroke-width="0"/>
<line x1="1183.7" y1="70.1" x2="1183.7" y2="78.3" stroke="#3f58ae" stroke-width="2.5"/>
<line x1="1177.4" y1="70.1" x2="1190" y2="70.1" stroke="#3f58ae" stroke-width="2.7"/>
<line x1="1177.4" y1="78.3" x2="1190" y2="78.3" stroke="#3f58ae" stroke-width="2.7"/>
<line x1="1192.8" y1="70.2" x2="1192.8" y2="79" stroke="#3f58ae" stroke-width="2.5"/>
<line x1="1186.5" y1="70.2" x2="1199.1" y2="70.2" stroke="#3f58ae" stroke-width="2.7"/>
<line x1="1186.5" y1="79" x2="1199.1" y2="79" stroke="#3f58ae" stroke-width="2.7"/>
<line x1="1201.8" y1="71.3" x2="1201.8" y2="82.8" stroke="#3f58ae" stroke-width="2.5"/>
<line x1="1195.5" y1="71.3" x2="1208.1" y2="71.3" stroke="#3f58ae" stroke-width="2.7"/>
<line x1="1195.5" y1="82.8" x2="1208.1" y2="82.8" stroke="#3f58ae" stroke-width="2.7"/>
<line x1="1210.9" y1="74" x2="1210.9" y2="92.1" stroke="#3f58ae" stroke-width="2.5"/>
<line x1="1204.6" y1="74" x2="1217.2" y2="74" stroke="#3f58ae" stroke-width="2.7"/>
<line x1="1204.6" y1="92.1" x2="1217.2" y2="92.1" stroke="#3f58ae" stroke-width="2.7"/>
<line x1="1219.9" y1="79" x2="1219.9" y2="108" stroke="#3f58ae" stroke-width="2.5"/>
<line x1="1213.6" y1="79" x2="1226.2" y2="79" stroke="#3f58ae" stroke-width="2.7"/>
<line x1="1213.6" y1="108" x2="1226.2" y2="108" stroke="#3f58ae" stroke-width="2.7"/>
<line x1="1229" y1="87" x2="1229" y2="130.1" stroke="#3f58ae" stroke-width="2.5"/>
<line x1="1222.7" y1="87" x2="1235.3" y2="87" stroke="#3f58ae" stroke-width="2.7"/>
<line x1="1222.7" y1="130.1" x2="1235.3" y2="130.1" stroke="#3f58ae" stroke-width="2.7"/>
<line x1="1238.1" y1="98.4" x2="1238.1" y2="156.4" stroke="#3f58ae" stroke-width="2.5"/>
<line x1="1231.8" y1="98.4" x2="1244.4" y2="98.4" stroke="#3f58ae" stroke-width="2.7"/>
<line x1="1231.8" y1="156.4" x2="1244.4" y2="156.4" stroke="#3f58ae" stroke-width="2.7"/>
<line x1="1247.1" y1="113.1" x2="1247.1" y2="184.4" stroke="#3f58ae" stroke-width="2.5"/>
<line x1="1240.8" y1="113.1" x2="1253.4" y2="113.1" stroke="#3f58ae" stroke-width="2.7"/>
<line x1="1240.8" y1="184.4" x2="1253.4" y2="184.4" stroke="#3f58ae" stroke-width="2.7"/>
<line x1="1256.2" y1="130.6" x2="1256.2" y2="211.6" stroke="#3f58ae" stroke-width="2.5"/>
<line x1="1249.9" y1="130.6" x2="1262.5" y2="130.6" stroke="#3f58ae" stroke-width="2.7"/>
<line x1="1249.9" y1="211.6" x2="1262.5" y2="211.6" stroke="#3f58ae" stroke-width="2.7"/>
<line x1="1265.2" y1="149.8" x2="1265.2" y2="236.3" stroke="#3f58ae" stroke-width="2.5"/>
<line x1="1258.9" y1="149.8" x2="1271.5" y2="149.8" stroke="#3f58ae" stroke-width="2.7"/>
<line x1="1258.9" y1="236.3" x2="1271.5" y2="236.3" stroke="#3f58ae" stroke-width="2.7"/>
<line x1="1274.3" y1="169.6" x2="1274.3" y2="257.5" stroke="#3f58ae" stroke-width="2.5"/>
<line x1="1268" y1="169.6" x2="1280.6" y2="169.6" stroke="#3f58ae" stroke-width="2.7"/>
<line x1="1268" y1="257.5" x2="1280.6" y2="257.5" stroke="#3f58ae" stroke-width="2.7"/>
<line x1="1283.4" y1="189" x2="1283.4" y2="275.2" stroke="#3f58ae" stroke-width="2.5"/>
<line x1="1277.1" y1="189" x2="1289.7" y2="189" stroke="#3f58ae" stroke-width="2.7"/>
<line x1="1277.1" y1="275.2" x2="1289.7" y2="275.2" stroke="#3f58ae" stroke-width="2.7"/>
<line x1="1292.4" y1="207.2" x2="1292.4" y2="289.5" stroke="#3f58ae" stroke-width="2.5"/>
<line x1="1286.1" y1="207.2" x2="1298.7" y2="207.2" stroke="#3f58ae" stroke-width="2.7"/>
<line x1="1286.1" y1="289.5" x2="1298.7" y2="289.5" stroke="#3f58ae" stroke-width="2.7"/>
<line x1="1301.5" y1="223.9" x2="1301.5" y2="300.9" stroke="#3f58ae" stroke-width="2.5"/>
<line x1="1295.2" y1="223.9" x2="1307.8" y2="223.9" stroke="#3f58ae" stroke-width="2.7"/>
<line x1="1295.2" y1="300.9" x2="1307.8" y2="300.9" stroke="#3f58ae" stroke-width="2.7"/>
<line x1="1310.5" y1="238.8" x2="1310.5" y2="310.1" stroke="#3f58ae" stroke-width="2.5"/>
<line x1="1304.2" y1="238.8" x2="1316.8" y2="238.8" stroke="#3f58ae" stroke-width="2.7"/>
<line x1="1304.2" y1="310.1" x2="1316.8" y2="310.1" stroke="#3f58ae" stroke-width="2.7"/>
<line x1="1319.6" y1="251.9" x2="1319.6" y2="317.3" stroke="#3f58ae" stroke-width="2.5"/>
<line x1="1313.3" y1="251.9" x2="1325.9" y2="251.9" stroke="#3f58ae" stroke-width="2.7"/>
<line x1="1313.3" y1="317.3" x2="1325.9" y2="317.3" stroke="#3f58ae" stroke-width="2.7"/>
<line x1="1328.7" y1="263.3" x2="1328.7" y2="323.1" stroke="#3f58ae" stroke-width="2.5"/>
<line x1="1322.4" y1="263.3" x2="1335" y2="263.3" stroke="#3f58ae" stroke-width="2.7"/>
<line x1="1322.4" y1="323.1" x2="1335" y2="323.1" stroke="#3f58ae" stroke-width="2.7"/>
<line x1="1337.7" y1="273.2" x2="1337.7" y2="327.8" stroke="#3f58ae" stroke-width="2.5"/>
<line x1="1331.4" y1="273.2" x2="1344" y2="273.2" stroke="#3f58ae" stroke-width="2.7"/>
<line x1="1331.4" y1="327.8" x2="1344" y2="327.8" stroke="#3f58ae" stroke-width="2.7"/>
<line x1="1346.8" y1="281.8" x2="1346.8" y2="331.6" stroke="#3f58ae" stroke-width="2.5"/>
<line x1="1340.5" y1="281.8" x2="1353.1" y2="281.8" stroke="#3f58ae" stroke-width="2.7"/>
<line x1="1340.5" y1="331.6" x2="1353.1" y2="331.6" stroke="#3f58ae" stroke-width="2.7"/>
<line x1="1355.8" y1="289.2" x2="1355.8" y2="334.6" stroke="#3f58ae" stroke-width="2.5"/>
<line x1="1349.5" y1="289.2" x2="1362.1" y2="289.2" stroke="#3f58ae" stroke-width="2.7"/>
<line x1="1349.5" y1="334.6" x2="1362.1" y2="334.6" stroke="#3f58ae" stroke-width="2.7"/>
<line x1="1364.9" y1="295.6" x2="1364.9" y2="337.2" stroke="#3f58ae" stroke-width="2.5"/>
<line x1="1358.6" y1="295.6" x2="1371.2" y2="295.6" stroke="#3f58ae" stroke-width="2.7"/>
<line x1="1358.6" y1="337.2" x2="1371.2" y2="337.2" stroke="#3f58ae" stroke-width="2.7"/>
<line x1="1374" y1="301.1" x2="1374" y2="339.3" stroke="#3f58ae" stroke-width="2.5"/>
<line x1="1367.7" y1="301.1" x2="1380.3" y2="301.1" stroke="#3f58ae" stroke-width="2.7"/>
<line x1="1367.7" y1="339.3" x2="1380.3" y2="339.3" stroke="#3f58ae" stroke-width="2.7"/>
<line x1="1383" y1="305.8" x2="1383" y2="341" stroke="#3f58ae" stroke-width="2.5"/>
<line x1="1376.7" y1="305.8" x2="1389.3" y2="305.8" stroke="#3f58ae" stroke-width="2.7"/>
<line x1="1376.7" y1="341" x2="1389.3" y2="341" stroke="#3f58ae" stroke-width="2.7"/>
<line x1="1392.1" y1="309.9" x2="1392.1" y2="342.4" stroke="#3f58ae" stroke-width="2.5"/>
<line x1="1385.8" y1="309.9" x2="1398.4" y2="309.9" stroke="#3f58ae" stroke-width="2.7"/>
<line x1="1385.8" y1="342.4" x2="1398.4" y2="342.4" stroke="#3f58ae" stroke-width="2.7"/>
<line x1="1401.1" y1="313.5" x2="1401.1" y2="343.7" stroke="#3f58ae" stroke-width="2.5"/>
<line x1="1394.8" y1="313.5" x2="1407.4" y2="313.5" stroke="#3f58ae" stroke-width="2.7"/>
<line x1="1394.8" y1="343.7" x2="1407.4" y2="343.7" stroke="#3f58ae" stroke-width="2.7"/>
<line x1="1410.2" y1="316.7" x2="1410.2" y2="344.7" stroke="#3f58ae" stroke-width="2.5"/>
<line x1="1403.9" y1="316.7" x2="1416.5" y2="316.7" stroke="#3f58ae" stroke-width="2.7"/>
<line x1="1403.9" y1="344.7" x2="1416.5" y2="344.7" stroke="#3f58ae" stroke-width="2.7"/>
<line x1="1419.3" y1="319.4" x2="1419.3" y2="345.6" stroke="#3f58ae" stroke-width="2.5"/>
<line x1="1413" y1="319.4" x2="1425.6" y2="319.4" stroke="#3f58ae" stroke-width="2.7"/>
<line x1="1413" y1="345.6" x2="1425.6" y2="345.6" stroke="#3f58ae" stroke-width="2.7"/>
<line x1="1428.3" y1="321.8" x2="1428.3" y2="346.4" stroke="#3f58ae" stroke-width="2.5"/>
<line x1="1422" y1="321.8" x2="1434.6" y2="321.8" stroke="#3f58ae" stroke-width="2.7"/>
<line x1="1422" y1="346.4" x2="1434.6" y2="346.4" stroke="#3f58ae" stroke-width="2.7"/>
<line x1="1437.4" y1="323.9" x2="1437.4" y2="347.1" stroke="#3f58ae" stroke-width="2.5"/>
<line x1="1431.1" y1="323.9" x2="1443.7" y2="323.9" stroke="#3f58ae" stroke-width="2.7"/>
<line x1="1431.1" y1="347.1" x2="1443.7" y2="347.1" stroke="#3f58ae" stroke-width="2.7"/>
<line x1="1446.4" y1="325.8" x2="1446.4" y2="347.7" stroke="#3f58ae" stroke-width="2.5"/>
<line x1="1440.1" y1="325.8" x2="1452.7" y2="325.8" stroke="#3f58ae" stroke-width="2.7"/>
<line x1="1440.1" y1="347.7" x2="1452.7" y2="347.7" stroke="#3f58ae" stroke-width="2.7"/>
<line x1="1455.5" y1="327.5" x2="1455.5" y2="348.2" stroke="#3f58ae" stroke-width="2.5"/>
<line x1="1449.2" y1="327.5" x2="1461.8" y2="327.5" stroke="#3f58ae" stroke-width="2.7"/>
<line x1="1449.2" y1="348.2" x2="1461.8" y2="348.2" stroke="#3f58ae" stroke-width="2.7"/>
<line x1="1464.6" y1="328.9" x2="1464.6" y2="348.6" stroke="#3f58ae" stroke-width="2.5"/>
<line x1="1458.3" y1="328.9" x2="1470.9" y2="328.9" stroke="#3f58ae" stroke-width="2.7"/>
<line x1="1458.3" y1="348.6" x2="1470.9" y2="348.6" stroke="#3f58ae" stroke-width="2.7"/>
<line x1="1473.6" y1="330.3" x2="1473.6" y2="349" stroke="#3f58ae" stroke-width="2.5"/>
<line x1="1467.3" y1="330.3" x2="1479.9" y2="330.3" stroke="#3f58ae" stroke-width="2.7"/>
<line x1="1467.3" y1="349" x2="1479.9" y2="349" stroke="#3f58ae" stroke-width="2.7"/>
<line x1="1482.7" y1="331.4" x2="1482.7" y2="349.3" stroke="#3f58ae" stroke-width="2.5"/>
<line x1="1476.4" y1="331.4" x2="1489" y2="331.4" stroke="#3f58ae" stroke-width="2.7"/>
<line x1="1476.4" y1="349.3" x2="1489" y2="349.3" stroke="#3f58ae" stroke-width="2.7"/>
<line x1="1491.7" y1="332.5" x2="1491.7" y2="349.7" stroke="#3f58ae" stroke-width="2.5"/>
<line x1="1485.4" y1="332.5" x2="1498" y2="332.5" stroke="#3f58ae" stroke-width="2.7"/>
<line x1="1485.4" y1="349.7" x2="1498" y2="349.7" stroke="#3f58ae" stroke-width="2.7"/>
<line x1="1500.8" y1="333.4" x2="1500.8" y2="349.9" stroke="#3f58ae" stroke-width="2.5"/>
<line x1="1494.5" y1="333.4" x2="1507.1" y2="333.4" stroke="#3f58ae" stroke-width="2.7"/>
<line x1="1494.5" y1="349.9" x2="1507.1" y2="349.9" stroke="#3f58ae" stroke-width="2.7"/>
<line x1="1509.9" y1="334.3" x2="1509.9" y2="350.2" stroke="#3f58ae" stroke-width="2.5"/>
<line x1="1503.6" y1="334.3" x2="1516.2" y2="334.3" stroke="#3f58ae" stroke-width="2.7"/>
<line x1="1503.6" y1="350.2" x2="1516.2" y2="350.2" stroke="#3f58ae" stroke-width="2.7"/>
<line x1="1518.9" y1="335.1" x2="1518.9" y2="350.4" stroke="#3f58ae" stroke-width="2.5"/>
<line x1="1512.6" y1="335.1" x2="1525.2" y2="335.1" stroke="#3f58ae" stroke-width="2.7"/>
<line x1="1512.6" y1="350.4" x2="1525.2" y2="350.4" stroke="#3f58ae" stroke-width="2.7"/>
<line x1="1528" y1="335.8" x2="1528" y2="350.6" stroke="#3f58ae" stroke-width="2.5"/>
<line x1="1521.7" y1="335.8" x2="1534.3" y2="335.8" stroke="#3f58ae" stroke-width="2.7"/>
<line x1="1521.7" y1="350.6" x2="1534.3" y2="350.6" stroke="#3f58ae" stroke-width="2.7"/>
<line x1="1537" y1="336.4" x2="1537" y2="350.8" stroke="#3f58ae" stroke-width="2.5"/>
<line x1="1530.7" y1="336.4" x2="1543.3" y2="336.4" stroke="#3f58ae" stroke-width="2.7"/>
<line x1="1530.7" y1="350.8" x2="1543.3" y2="350.8" stroke="#3f58ae" stroke-width="2.7"/>
<line x1="1546.1" y1="337" x2="1546.1" y2="351" stroke="#3f58ae" stroke-width="2.5"/>
<line x1="1539.8" y1="337" x2="1552.4" y2="337" stroke="#3f58ae" stroke-width="2.7"/>
<line x1="1539.8" y1="351" x2="1552.4" y2="351" stroke="#3f58ae" stroke-width="2.7"/>
<line x1="1555.2" y1="337.5" x2="1555.2" y2="351.1" stroke="#3f58ae" stroke-width="2.5"/>
<line x1="1548.9" y1="337.5" x2="1561.5" y2="337.5" stroke="#3f58ae" stroke-width="2.7"/>
<line x1="1548.9" y1="351.1" x2="1561.5" y2="351.1" stroke="#3f58ae" stroke-width="2.7"/>
<line x1="1564.2" y1="338" x2="1564.2" y2="351.2" stroke="#3f58ae" stroke-width="2.5"/>
<line x1="1557.9" y1="338" x2="1570.5" y2="338" stroke="#3f58ae" stroke-width="2.7"/>
<line x1="1557.9" y1="351.2" x2="1570.5" y2="351.2" stroke="#3f58ae" stroke-width="2.7"/>
<line x1="1573.3" y1="338.4" x2="1573.3" y2="351.4" stroke="#3f58ae" stroke-width="2.5"/>
<line x1="1567" y1="338.4" x2="1579.6" y2="338.4" stroke="#3f58ae" stroke-width="2.7"/>
<line x1="1567" y1="351.4" x2="1579.6" y2="351.4" stroke="#3f58ae" stroke-width="2.7"/>
<line x1="1582.3" y1="338.8" x2="1582.3" y2="351.5" stroke="#3f58ae" stroke-width="2.5"/>
<line x1="1576" y1="338.8" x2="1588.6" y2="338.8" stroke="#3f58ae" stroke-width="2.7"/>
<line x1="1576" y1="351.5" x2="1588.6" y2="351.5" stroke="#3f58ae" stroke-width="2.7"/>
<line x1="1591.4" y1="339.2" x2="1591.4" y2="351.6" stroke="#3f58ae" stroke-width="2.5"/>
<line x1="1585.1" y1="339.2" x2="1597.7" y2="339.2" stroke="#3f58ae" stroke-width="2.7"/>
<line x1="1585.1" y1="351.6" x2="1597.7" y2="351.6" stroke="#3f58ae" stroke-width="2.7"/>
<line x1="1600.5" y1="339.5" x2="1600.5" y2="351.7" stroke="#3f58ae" stroke-width="2.5"/>
<line x1="1594.2" y1="339.5" x2="1606.8" y2="339.5" stroke="#3f58ae" stroke-width="2.7"/>
<line x1="1594.2" y1="351.7" x2="1606.8" y2="351.7" stroke="#3f58ae" stroke-width="2.7"/>
<line x1="1609.5" y1="339.8" x2="1609.5" y2="351.8" stroke="#3f58ae" stroke-width="2.5"/>
<line x1="1603.2" y1="339.8" x2="1615.8" y2="339.8" stroke="#3f58ae" stroke-width="2.7"/>
<line x1="1603.2" y1="351.8" x2="1615.8" y2="351.8" stroke="#3f58ae" stroke-width="2.7"/>
<line x1="1618.6" y1="340.1" x2="1618.6" y2="351.8" stroke="#3f58ae" stroke-width="2.5"/>
<line x1="1612.3" y1="340.1" x2="1624.9" y2="340.1" stroke="#3f58ae" stroke-width="2.7"/>
<line x1="1612.3" y1="351.8" x2="1624.9" y2="351.8" stroke="#3f58ae" stroke-width="2.7"/>
<line x1="1627.6" y1="340.4" x2="1627.6" y2="351.9" stroke="#3f58ae" stroke-width="2.5"/>
<line x1="1621.3" y1="340.4" x2="1633.9" y2="340.4" stroke="#3f58ae" stroke-width="2.7"/>
<line x1="1621.3" y1="351.9" x2="1633.9" y2="351.9" stroke="#3f58ae" stroke-width="2.7"/>
<line x1="1636.7" y1="340.6" x2="1636.7" y2="352" stroke="#3f58ae" stroke-width="2.5"/>
<line x1="1630.4" y1="340.6" x2="1643" y2="340.6" stroke="#3f58ae" stroke-width="2.7"/>
<line x1="1630.4" y1="352" x2="1643" y2="352" stroke="#3f58ae" stroke-width="2.7"/>
<polyline points="1183.7,74.2 1192.8,74.6 1201.8,77.1 1210.9,83.1 1219.9,93.5 1229.0,108.5 1238.1,127.4 1247.1,148.8 1256.2,171.1 1265.2,193.1 1274.3,213.6 1283.4,232.1 1292.4,248.3 1301.5,262.4 1310.5,274.4 1319.6,284.6 1328.7,293.2 1337.7,300.5 1346.8,306.7 1355.8,311.9 1364.9,316.4 1374.0,320.2 1383.0,323.4 1392.1,326.2 1401.1,328.6 1410.2,330.7 1419.3,332.5 1428.3,334.1 1437.4,335.5 1446.4,336.7 1455.5,337.8 1464.6,338.8 1473.6,339.6 1482.7,340.4 1491.7,341.1 1500.8,341.7 1509.9,342.2 1518.9,342.7 1528.0,343.2 1537.0,343.6 1546.1,344.0 1555.2,344.3 1564.2,344.6 1573.3,344.9 1582.3,345.1 1591.4,345.4 1600.5,345.6 1609.5,345.8 1618.6,346.0 1627.6,346.1 1636.7,346.3" fill="none" stroke="#3f58ae" stroke-width="2" stroke-linejoin="round"/>
<circle cx="1183.7" cy="74.2" r="6" fill="#3f58ae" stroke="none" stroke-width="0"/>
<circle cx="1192.8" cy="74.6" r="6" fill="#3f58ae" stroke="none" stroke-width="0"/>
<circle cx="1201.8" cy="77.1" r="6" fill="#3f58ae" stroke="none" stroke-width="0"/>
<circle cx="1210.9" cy="83.1" r="6" fill="#3f58ae" stroke="none" stroke-width="0"/>
<circle cx="1219.9" cy="93.5" r="6" fill="#3f58ae" stroke="none" stroke-width="0"/>
<circle cx="1229" cy="108.5" r="6" fill="#3f58ae" stroke="none" stroke-width="0"/>
<circle cx="1238.1" cy="127.4" r="6" fill="#3f58ae" stroke="none" stroke-width="0"/>
<circle cx="1247.1" cy="148.8" r="6" fill="#3f58ae" stroke="none" stroke-width="0"/>
<circle cx="1256.2" cy="171.1" r="6" fill="#3f58ae" stroke="none" stroke-width="0"/>
<circle cx="1265.2" cy="193.1" r="6" fill="#3f58ae" stroke="none" stroke-width="0"/>
<circle cx="1274.3" cy="213.6" r="6" fill="#3f58ae" stroke="none" stroke-width="0"/>
<circle cx="1283.4" cy="232.1" r="6" fill="#3f58ae" stroke="none" stroke-width="0"/>
<circle cx="1292.4" cy="248.3" r="6" fill="#3f58ae" stroke="none" stroke-width="0"/>
<circle cx="1301.5" cy="262.4" r="6" fill="#3f58ae" stroke="none" stroke-width="0"/>
<circle cx="1310.5" cy="274.4" r="6" fill="#3f58ae" stroke="none" stroke-width="0"/>
<circle cx="1319.6" cy="284.6" r="6" fill="#3f58ae" stroke="none" stroke-width="0"/>
<circle cx="1328.7" cy="293.2" r="6" fill="#3f58ae" stroke="none" stroke-width="0"/>
<circle cx="1337.7" cy="300.5" r="6" fill="#3f58ae" stroke="none" stroke-width="0"/>
<circle cx="1346.8" cy="306.7" r="6" fill="#3f58ae" stroke="none" stroke-width="0"/>
<circle cx="1355.8" cy="311.9" r="6" fill="#3f58ae" stroke="none" stroke-width="0"/>
<circle cx="1364.9" cy="316.4" r="6" fill="#3f58ae" stroke="none" stroke-width="0"/>
<circle cx="1374" cy="320.2" r="6" fill="#3f58ae" stroke="none" stroke-width="0"/>
<circle cx="1383" cy="323.4" r="6" fill="#3f58ae" stroke="none" stroke-width="0"/>
<circle cx="1392.1" cy="326.2" r="6" fill="#3f58ae" stroke="none" stroke-width="0"/>
<circle cx="1401.1" cy="328.6" r="6" fill="#3f58ae" stroke="none" stroke-width="0"/>
<circle cx="1410.2" cy="330.7" r="6" fill="#3f58ae" stroke="none" stroke-width="0"/>
<circle cx="1419.3" cy="332.5" r="6" fill="#3f58ae" stroke="none" stroke-width="0"/>
<circle cx="1428.3" cy="334.1" r="6" fill="#3f58ae" stroke="none" stroke-width="0"/>
<circle cx="1437.4" cy="335.5" r="6" fill="#3f58ae" stroke="none" stroke-width="0"/>
<circle cx="1446.4" cy="336.7" r="6" fill="#3f58ae" stroke="none" stroke-width="0"/>
<circle cx="1455.5" cy="337.8" r="6" fill="#3f58ae" stroke="none" stroke-width="0"/>
<circle cx="1464.6" cy="338.8" r="6" fill="#3f58ae" stroke="none" stroke-width="0"/>
<circle cx="1473.6" cy="339.6" r="6" fill="#3f58ae" stroke="none" stroke-width="0"/>
<circle cx="1482.7" cy="340.4" r="6" fill="#3f58ae" stroke="none" stroke-width="0"/>
<circle cx="1491.7" cy="341.1" r="6" fill="#3f58ae" stroke="none" stroke-width="0"/>
<circle cx="1500.8" cy="341.7" r="6" fill="#3f58ae" stroke="none" stroke-width="0"/>
<circle cx="1509.9" cy="342.2" r="6" fill="#3f58ae" stroke="none" stroke-width="0"/>
<circle cx="1518.9" cy="342.7" r="6" fill="#3f58ae" stroke="none" stroke-width="0"/>
<circle cx="1528" cy="343.2" r="6" fill="#3f58ae" stroke="none" stroke-width="0"/>
<circle cx="1537" cy="343.6" r="6" fill="#3f58ae" stroke="none" stroke-width="0"/>
<circle cx="1546.1" cy="344" r="6" fill="#3f58ae" stroke="none" stroke-width="0"/>
<circle cx="1555.2" cy="344.3" r="6" fill="#3f58ae" stroke="none" stroke-width="0"/>
<circle cx="1564.2" cy="344.6" r="6" fill="#3f58ae" stroke="none" stroke-width="0"/>
<circle cx="1573.3" cy="344.9" r="6" fill="#3f58ae" stroke="none" stroke-width="0"/>
<circle cx="1582.3" cy="345.1" r="6" fill="#3f58ae" stroke="none" stroke-width="0"/>
<circle cx="1591.4" cy="345.4" r="6" fill="#3f58ae" stroke="none" stroke-width="0"/>
<circle cx="1600.5" cy="345.6" r="6" fill="#3f58ae" stroke="none" stroke-width="0"/>
<circle cx="1609.5" cy="345.8" r="6" fill="#3f58ae" stroke="none" stroke-width="0"/>
<circle cx="1618.6" cy="346" r="6" fill="#3f58ae" stroke="none" stroke-width="0"/>
<circle cx="1627.6" cy="346.1" r="6" fill="#3f58ae" stroke="none" stroke-width="0"/>
<circle cx="1636.7" cy="346.3" r="6" fill="#3f58ae" stroke="none" stroke-width="0"/>
<line x1="1183.7" y1="45" x2="1183.7" y2="350" stroke="#111" stroke-width="2.2"/>
<line x1="1172" y1="349" x2="1637" y2="349" stroke="#111" stroke-width="2.2"/>
<line x1="1172" y1="349" x2="1183.7" y2="349" stroke="#111" stroke-width="2.2"/>
<line x1="1172" y1="211.6" x2="1183.7" y2="211.6" stroke="#111" stroke-width="2.2"/>
<line x1="1172" y1="74.2" x2="1183.7" y2="74.2" stroke="#111" stroke-width="2.2"/>
<line x1="1183.7" y1="349" x2="1183.7" y2="360" stroke="#111" stroke-width="2.2"/>
<line x1="1274.3" y1="349" x2="1274.3" y2="360" stroke="#111" stroke-width="2.2"/>
<line x1="1364.9" y1="349" x2="1364.9" y2="360" stroke="#111" stroke-width="2.2"/>
<line x1="1455.5" y1="349" x2="1455.5" y2="360" stroke="#111" stroke-width="2.2"/>
<line x1="1546.1" y1="349" x2="1546.1" y2="360" stroke="#111" stroke-width="2.2"/>
<line x1="1636.7" y1="349" x2="1636.7" y2="360" stroke="#111" stroke-width="2.2"/>
<text x="1171" y="360.3" font-size="32" text-anchor="end" transform="translate(0 -18) scale(1 1.05)">0.0</text>
<text x="1171" y="222.9" font-size="32" text-anchor="end" transform="translate(0 -11.1) scale(1 1.05)">0.5</text>
<text x="1171" y="85.5" font-size="32" text-anchor="end" transform="translate(0 -4.3) scale(1 1.05)">1.0</text>
<text x="1183.7" y="389.8" font-size="32" text-anchor="middle" transform="translate(0 -19.5) scale(1 1.05)">0</text>
<text x="1274.3" y="389.8" font-size="32" text-anchor="middle" transform="translate(0 -19.5) scale(1 1.05)">10</text>
<text x="1364.9" y="389.8" font-size="32" text-anchor="middle" transform="translate(0 -19.5) scale(1 1.05)">20</text>
<text x="1455.5" y="389.8" font-size="32" text-anchor="middle" transform="translate(0 -19.5) scale(1 1.05)">30</text>
<text x="1546.1" y="389.8" font-size="32" text-anchor="middle" transform="translate(0 -19.5) scale(1 1.05)">40</text>
<text x="1629.7" y="389.8" font-size="32" text-anchor="middle" transform="translate(0 -19.5) scale(1 1.05)">50</text>
<text x="1425" y="432.3" font-size="32.5" text-anchor="middle" transform="translate(0 -21.6) scale(1 1.05)">Hours</text>
<text x="1121.5" y="196.5" font-size="30.8" text-anchor="middle" transform="rotate(-90 1121.5 196.5)">Norm. Nalm6 Area</text>
<line x1="1418.7" y1="109.3" x2="1445" y2="109.3" stroke="#3f58ae" stroke-width="2.5"/>
<circle cx="1431.5" cy="109.3" r="6.5" fill="#3f58ae" stroke="none" stroke-width="0"/>
<line x1="1418.7" y1="142.2" x2="1445" y2="142.2" stroke="#e62226" stroke-width="2.5"/>
<rect x="1425.5" y="136" width="12.4" height="12.4" fill="#e62226" stroke="none" stroke-width="0"/>
<text x="1458" y="120.5" font-size="32" transform="translate(0 -6) scale(1 1.05)">19-HIT</text>
<text x="1458" y="155.3" font-size="32" transform="translate(0 -7.8) scale(1 1.05)">19-HIT</text>
<text x="1558.5" y="145.3" font-size="19.5" transform="translate(0 -7.3) scale(1 1.05)">80BB</text>
<text x="31" y="467.3" font-size="37" font-weight="bold" transform="translate(0 -23.4) scale(1 1.05)">d</text>
<line x1="142.9" y1="740.4" x2="574.5" y2="740.4" stroke="#111" stroke-width="2" stroke-dasharray="9 6"/>
<polyline points="142.9,731.7 213.7,745.7 285.1,767.2 356.5,778.6 428.0,756.3 498.4,757.1 569.9,733.2" fill="none" stroke="#e62226" stroke-width="2" stroke-linejoin="round"/>
<polyline points="142.9,750.3 213.7,757.1 285.1,760.2 356.5,761.2 428.0,751.8 498.4,768.2 569.9,731.9" fill="none" stroke="#3f58ae" stroke-width="2" stroke-linejoin="round"/>
<rect x="137.7" y="726.5" width="10.4" height="10.4" fill="#fff" stroke="#e62226" stroke-width="2"/>
<rect x="208.5" y="740.5" width="10.4" height="10.4" fill="#fff" stroke="#e62226" stroke-width="2"/>
<rect x="279.9" y="762" width="10.4" height="10.4" fill="#fff" stroke="#e62226" stroke-width="2"/>
<rect x="351.3" y="773.4" width="10.4" height="10.4" fill="#fff" stroke="#e62226" stroke-width="2"/>
<rect x="422.8" y="751.1" width="10.4" height="10.4" fill="#fff" stroke="#e62226" stroke-width="2"/>
<rect x="493.2" y="751.9" width="10.4" height="10.4" fill="#fff" stroke="#e62226" stroke-width="2"/>
<rect x="564.7" y="728" width="10.4" height="10.4" fill="#fff" stroke="#e62226" stroke-width="2"/>
<circle cx="142.9" cy="750.3" r="5.3" fill="#fff" stroke="#3f58ae" stroke-width="2"/>
<circle cx="213.7" cy="757.1" r="5.3" fill="#fff" stroke="#3f58ae" stroke-width="2"/>
<circle cx="285.1" cy="760.2" r="5.3" fill="#fff" stroke="#3f58ae" stroke-width="2"/>
<circle cx="356.5" cy="761.2" r="5.3" fill="#fff" stroke="#3f58ae" stroke-width="2"/>
<circle cx="428" cy="751.8" r="5.3" fill="#fff" stroke="#3f58ae" stroke-width="2"/>
<circle cx="498.4" cy="768.2" r="5.3" fill="#fff" stroke="#3f58ae" stroke-width="2"/>
<circle cx="569.9" cy="731.9" r="5.3" fill="#fff" stroke="#3f58ae" stroke-width="2"/>
<line x1="142.9" y1="504.5" x2="142.9" y2="553.7" stroke="#e62226" stroke-width="2"/>
<line x1="136.9" y1="504.5" x2="148.9" y2="504.5" stroke="#e62226" stroke-width="2.2"/>
<line x1="136.9" y1="553.7" x2="148.9" y2="553.7" stroke="#e62226" stroke-width="2.2"/>
<line x1="213.7" y1="539.2" x2="213.7" y2="583.9" stroke="#e62226" stroke-width="2"/>
<line x1="207.7" y1="539.2" x2="219.7" y2="539.2" stroke="#e62226" stroke-width="2.2"/>
<line x1="207.7" y1="583.9" x2="219.7" y2="583.9" stroke="#e62226" stroke-width="2.2"/>
<line x1="285.1" y1="595.5" x2="285.1" y2="617.7" stroke="#e62226" stroke-width="2"/>
<line x1="279.1" y1="595.5" x2="291.1" y2="595.5" stroke="#e62226" stroke-width="2.2"/>
<line x1="279.1" y1="617.7" x2="291.1" y2="617.7" stroke="#e62226" stroke-width="2.2"/>
<line x1="142.9" y1="531.7" x2="142.9" y2="552" stroke="#3f58ae" stroke-width="2"/>
<line x1="136.9" y1="531.7" x2="148.9" y2="531.7" stroke="#3f58ae" stroke-width="2.2"/>
<line x1="136.9" y1="552" x2="148.9" y2="552" stroke="#3f58ae" stroke-width="2.2"/>
<line x1="213.7" y1="534.6" x2="213.7" y2="578.4" stroke="#3f58ae" stroke-width="2"/>
<line x1="207.7" y1="534.6" x2="219.7" y2="534.6" stroke="#3f58ae" stroke-width="2.2"/>
<line x1="207.7" y1="578.4" x2="219.7" y2="578.4" stroke="#3f58ae" stroke-width="2.2"/>
<polyline points="142.9,528.1 213.7,562.2 285.1,606.9 356.5,668.4 428.0,700.3 498.4,711.2 569.9,727.1" fill="none" stroke="#e62226" stroke-width="2" stroke-linejoin="round"/>
<polyline points="142.9,543.6 213.7,555.9 285.1,630.0 356.5,663.4 428.0,731.2 498.4,722.5 569.9,714.8" fill="none" stroke="#3f58ae" stroke-width="2" stroke-linejoin="round"/>
<rect x="136.6" y="521.8" width="12.6" height="12.6" fill="#e62226" stroke="none" stroke-width="0"/>
<rect x="207.4" y="555.9" width="12.6" height="12.6" fill="#e62226" stroke="none" stroke-width="0"/>
<rect x="278.8" y="600.6" width="12.6" height="12.6" fill="#e62226" stroke="none" stroke-width="0"/>
<rect x="350.2" y="662.1" width="12.6" height="12.6" fill="#e62226" stroke="none" stroke-width="0"/>
<rect x="421.7" y="694" width="12.6" height="12.6" fill="#e62226" stroke="none" stroke-width="0"/>
<rect x="492.1" y="704.9" width="12.6" height="12.6" fill="#e62226" stroke="none" stroke-width="0"/>
<rect x="563.6" y="720.8" width="12.6" height="12.6" fill="#e62226" stroke="none" stroke-width="0"/>
<circle cx="142.9" cy="543.6" r="7" fill="#3f58ae" stroke="none" stroke-width="0"/>
<circle cx="213.7" cy="555.9" r="7" fill="#3f58ae" stroke="none" stroke-width="0"/>
<circle cx="285.1" cy="630" r="7" fill="#3f58ae" stroke="none" stroke-width="0"/>
<circle cx="356.5" cy="663.4" r="7" fill="#3f58ae" stroke="none" stroke-width="0"/>
<circle cx="428" cy="731.2" r="7" fill="#3f58ae" stroke="none" stroke-width="0"/>
<circle cx="498.4" cy="722.5" r="7" fill="#3f58ae" stroke="none" stroke-width="0"/>
<circle cx="569.9" cy="714.8" r="7" fill="#3f58ae" stroke="none" stroke-width="0"/>
<line x1="142.9" y1="498.9" x2="142.9" y2="789.7" stroke="#111" stroke-width="2.2"/>
<line x1="130.4" y1="788.7" x2="574.5" y2="788.7" stroke="#111" stroke-width="2.2"/>
<line x1="130.4" y1="498.9" x2="142.9" y2="498.9" stroke="#111" stroke-width="2.2"/>
<text x="128.5" y="506.9" font-size="32.5" text-anchor="end" transform="translate(0 -25.3) scale(1 1.05)">1.0</text>
<line x1="130.4" y1="547.2" x2="142.9" y2="547.2" stroke="#111" stroke-width="2.2"/>
<text x="128.5" y="555.2" font-size="32.5" text-anchor="end" transform="translate(0 -27.8) scale(1 1.05)">0.8</text>
<line x1="130.4" y1="595.5" x2="142.9" y2="595.5" stroke="#111" stroke-width="2.2"/>
<text x="128.5" y="603.5" font-size="32.5" text-anchor="end" transform="translate(0 -30.2) scale(1 1.05)">0.6</text>
<line x1="130.4" y1="643.8" x2="142.9" y2="643.8" stroke="#111" stroke-width="2.2"/>
<text x="128.5" y="651.8" font-size="32.5" text-anchor="end" transform="translate(0 -32.6) scale(1 1.05)">0.4</text>
<line x1="130.4" y1="692.1" x2="142.9" y2="692.1" stroke="#111" stroke-width="2.2"/>
<text x="128.5" y="700.1" font-size="32.5" text-anchor="end" transform="translate(0 -35) scale(1 1.05)">0.2</text>
<line x1="130.4" y1="740.4" x2="142.9" y2="740.4" stroke="#111" stroke-width="2.2"/>
<text x="128.5" y="748.4" font-size="32.5" text-anchor="end" transform="translate(0 -37.4) scale(1 1.05)">0.0</text>
<line x1="130.4" y1="788.7" x2="142.9" y2="788.7" stroke="#111" stroke-width="2.2"/>
<text x="128.5" y="796.7" font-size="32.5" text-anchor="end" transform="translate(0 -39.8) scale(1 1.05)">-0.2</text>
<line x1="142.9" y1="788.7" x2="142.9" y2="798" stroke="#111" stroke-width="2.2"/>
<text x="145.9" y="827.5" font-size="32" text-anchor="middle">2<tspan font-size="18.5" dy="-10">1</tspan></text>
<line x1="213.7" y1="788.7" x2="213.7" y2="798" stroke="#111" stroke-width="2.2"/>
<text x="216.7" y="827.5" font-size="32" text-anchor="middle">2<tspan font-size="18.5" dy="-10">0</tspan></text>
<line x1="285.1" y1="788.7" x2="285.1" y2="798" stroke="#111" stroke-width="2.2"/>
<text x="288.1" y="827.5" font-size="32" text-anchor="middle">2<tspan font-size="18.5" dy="-10">-1</tspan></text>
<line x1="356.5" y1="788.7" x2="356.5" y2="798" stroke="#111" stroke-width="2.2"/>
<text x="359.5" y="827.5" font-size="32" text-anchor="middle">2<tspan font-size="18.5" dy="-10">-2</tspan></text>
<line x1="428" y1="788.7" x2="428" y2="798" stroke="#111" stroke-width="2.2"/>
<text x="431.0" y="827.5" font-size="32" text-anchor="middle">2<tspan font-size="18.5" dy="-10">-3</tspan></text>
<line x1="498.4" y1="788.7" x2="498.4" y2="798" stroke="#111" stroke-width="2.2"/>
<text x="501.4" y="827.5" font-size="32" text-anchor="middle">2<tspan font-size="18.5" dy="-10">-4</tspan></text>
<line x1="569.9" y1="788.7" x2="569.9" y2="798" stroke="#111" stroke-width="2.2"/>
<text x="572.9" y="827.5" font-size="32" text-anchor="middle">2<tspan font-size="18.5" dy="-10">-5</tspan></text>
<text x="347.5" y="868" font-size="32.5" text-anchor="middle" transform="translate(0 -43.4) scale(1 1.05)">Effector:Target Ratio</text>
<text x="70" y="655" font-size="32.5" text-anchor="middle" transform="rotate(-90 70 655)">% Killing</text>
<circle cx="634.2" cy="594.2" r="5.2" fill="#3f58ae" stroke="none" stroke-width="0"/>
<circle cx="634.2" cy="631.8" r="5" fill="#fff" stroke="#3f58ae" stroke-width="2"/>
<rect x="628.6" y="666.4" width="11.2" height="11.2" fill="#e62226" stroke="none" stroke-width="0"/>
<rect x="629.1" y="711.6" width="10.2" height="10.2" fill="#fff" stroke="#e62226" stroke-width="2"/>
<text x="663" y="602.6" font-size="32.5" transform="translate(0 -30.1) scale(1 1.05)">19-HIT | NALM6</text>
<text x="663" y="640.2" font-size="32.5" transform="translate(0 -32) scale(1 1.05)">19-HIT | NALM6</text>
<text x="897.5" y="628.8" font-size="19.5" font-style="italic" transform="translate(0 -31.4) scale(1 1.05)">CD19</text>
<text x="951.5" y="628.8" font-size="19.5" transform="translate(0 -31.4) scale(1 1.05)">KO</text>
<text x="663" y="682.3" font-size="32.5" transform="translate(0 -34.1) scale(1 1.05)">19-HIT</text>
<text x="762.5" y="671" font-size="19.5" transform="translate(0 -33.6) scale(1 1.05)">80BB</text>
<text x="818.5" y="682.3" font-size="32.5" transform="translate(0 -34.1) scale(1 1.05)">| NALM6</text>
<text x="663" y="724" font-size="32.5" transform="translate(0 -36.2) scale(1 1.05)">19-HIT</text>
<text x="762.5" y="713" font-size="19.5" transform="translate(0 -35.7) scale(1 1.05)">80BB</text>
<text x="818.5" y="724" font-size="32.5" transform="translate(0 -36.2) scale(1 1.05)">| NALM6</text>
<text x="944.5" y="712.5" font-size="19.5" font-style="italic" transform="translate(0 -35.6) scale(1 1.05)">CD19</text>
<text x="998.5" y="712.5" font-size="19.5" transform="translate(0 -35.6) scale(1 1.05)">KO</text>
<text x="1051" y="472.4" font-size="37" font-weight="bold" transform="translate(0 -23.6) scale(1 1.05)">e</text>
<polyline points="1227.0,786.9 1227.0,620.3 1267.2,620.3 1267.2,786.9" fill="none" stroke="#3f58ae" stroke-width="2.4" stroke-linejoin="round" stroke-linejoin="miter"/>
<polyline points="1291.3,786.9 1291.3,541.7 1331.0,541.7 1331.0,786.9" fill="none" stroke="#e62226" stroke-width="2.4" stroke-linejoin="round" stroke-linejoin="miter"/>
<polyline points="1371.5,786.9 1371.5,701.2 1411.6,701.2 1411.6,786.9" fill="none" stroke="#3f58ae" stroke-width="2.4" stroke-linejoin="round" stroke-linejoin="miter"/>
<polyline points="1435.7,786.9 1435.7,666.5 1475.5,666.5 1475.5,786.9" fill="none" stroke="#e62226" stroke-width="2.4" stroke-linejoin="round" stroke-linejoin="miter"/>
<polyline points="1522.0,786.9 1522.0,541.0 1563.0,541.0 1563.0,786.9" fill="none" stroke="#3f58ae" stroke-width="2.4" stroke-linejoin="round" stroke-linejoin="miter"/>
<polyline points="1588.0,786.9 1588.0,548.0 1630.5,548.0 1630.5,786.9" fill="none" stroke="#e62226" stroke-width="2.4" stroke-linejoin="round" stroke-linejoin="miter"/>
<line x1="1247.3" y1="602.7" x2="1247.3" y2="619.3" stroke="#111" stroke-width="2"/>
<line x1="1236.8" y1="602.7" x2="1257.8" y2="602.7" stroke="#111" stroke-width="2"/>
<line x1="1236.8" y1="619.3" x2="1257.8" y2="619.3" stroke="#111" stroke-width="2"/>
<line x1="1311.2" y1="519.2" x2="1311.2" y2="558.4" stroke="#111" stroke-width="2"/>
<line x1="1300.7" y1="519.2" x2="1321.7" y2="519.2" stroke="#111" stroke-width="2"/>
<line x1="1300.7" y1="558.4" x2="1321.7" y2="558.4" stroke="#111" stroke-width="2"/>
<line x1="1391.5" y1="690" x2="1391.5" y2="708" stroke="#111" stroke-width="2"/>
<line x1="1381" y1="690" x2="1402" y2="690" stroke="#111" stroke-width="2"/>
<line x1="1381" y1="708" x2="1402" y2="708" stroke="#111" stroke-width="2"/>
<line x1="1455.6" y1="648.2" x2="1455.6" y2="682.9" stroke="#111" stroke-width="2"/>
<line x1="1445.1" y1="648.2" x2="1466.1" y2="648.2" stroke="#111" stroke-width="2"/>
<line x1="1445.1" y1="682.9" x2="1466.1" y2="682.9" stroke="#111" stroke-width="2"/>
<line x1="1543" y1="534" x2="1543" y2="546" stroke="#111" stroke-width="2"/>
<line x1="1532.5" y1="534" x2="1553.5" y2="534" stroke="#111" stroke-width="2"/>
<line x1="1532.5" y1="546" x2="1553.5" y2="546" stroke="#111" stroke-width="2"/>
<line x1="1609.3" y1="538" x2="1609.3" y2="552" stroke="#111" stroke-width="2"/>
<line x1="1598.8" y1="538" x2="1619.8" y2="538" stroke="#111" stroke-width="2"/>
<line x1="1598.8" y1="552" x2="1619.8" y2="552" stroke="#111" stroke-width="2"/>
<circle cx="1234.2" cy="620" r="7.3" fill="#3f5ab2" stroke="#111" stroke-width="1.6"/>
<circle cx="1260.8" cy="615.2" r="7.3" fill="#3f5ab2" stroke="#111" stroke-width="1.6"/>
<circle cx="1247" cy="611.3" r="7.3" fill="#3f5ab2" stroke="#111" stroke-width="1.6"/>
<circle cx="1247" cy="600.1" r="7.3" fill="#3f5ab2" stroke="#111" stroke-width="1.6"/>
<circle cx="1311.2" cy="560.9" r="7.3" fill="#ec1f25" stroke="#111" stroke-width="1.6"/>
<circle cx="1304.8" cy="538.2" r="7.3" fill="#ec1f25" stroke="#111" stroke-width="1.6"/>
<circle cx="1318.6" cy="543" r="7.3" fill="#ec1f25" stroke="#111" stroke-width="1.6"/>
<circle cx="1311.2" cy="514.1" r="7.3" fill="#ec1f25" stroke="#111" stroke-width="1.6"/>
<circle cx="1385" cy="706" r="7.3" fill="#3f5ab2" stroke="#111" stroke-width="1.6"/>
<circle cx="1398.8" cy="704.4" r="7.3" fill="#3f5ab2" stroke="#111" stroke-width="1.6"/>
<circle cx="1385" cy="695.7" r="7.3" fill="#3f5ab2" stroke="#111" stroke-width="1.6"/>
<circle cx="1398.8" cy="691.6" r="7.3" fill="#3f5ab2" stroke="#111" stroke-width="1.6"/>
<circle cx="1455.6" cy="685.1" r="7.3" fill="#ec1f25" stroke="#111" stroke-width="1.6"/>
<circle cx="1455.6" cy="672.9" r="7.3" fill="#ec1f25" stroke="#111" stroke-width="1.6"/>
<circle cx="1455.6" cy="657.9" r="7.3" fill="#ec1f25" stroke="#111" stroke-width="1.6"/>
<circle cx="1455.6" cy="645.7" r="7.3" fill="#ec1f25" stroke="#111" stroke-width="1.6"/>
<circle cx="1529.4" cy="543" r="7.3" fill="#3f5ab2" stroke="#111" stroke-width="1.6"/>
<circle cx="1556.7" cy="541.7" r="7.3" fill="#3f5ab2" stroke="#111" stroke-width="1.6"/>
<circle cx="1529.4" cy="534.3" r="7.3" fill="#3f5ab2" stroke="#111" stroke-width="1.6"/>
<circle cx="1543.2" cy="533.3" r="7.3" fill="#3f5ab2" stroke="#111" stroke-width="1.6"/>
<circle cx="1609.6" cy="555.2" r="7.3" fill="#ec1f25" stroke="#111" stroke-width="1.6"/>
<circle cx="1616" cy="545.5" r="7.3" fill="#ec1f25" stroke="#111" stroke-width="1.6"/>
<circle cx="1603.2" cy="543.9" r="7.3" fill="#ec1f25" stroke="#111" stroke-width="1.6"/>
<circle cx="1616" cy="535.9" r="7.3" fill="#ec1f25" stroke="#111" stroke-width="1.6"/>
<line x1="1202" y1="514.9" x2="1202" y2="787.9" stroke="#111" stroke-width="2.2"/>
<line x1="1190.8" y1="786.9" x2="1653" y2="786.9" stroke="#111" stroke-width="2.2"/>
<line x1="1190.8" y1="514.9" x2="1202" y2="514.9" stroke="#111" stroke-width="2.2"/>
<text x="1188" y="521.9" font-size="30.6" text-anchor="end" transform="translate(0 -26.1) scale(1 1.05)">2.5</text>
<line x1="1190.8" y1="569.3" x2="1202" y2="569.3" stroke="#111" stroke-width="2.2"/>
<text x="1188" y="576.3" font-size="30.6" text-anchor="end" transform="translate(0 -28.8) scale(1 1.05)">2.0</text>
<line x1="1190.8" y1="623.7" x2="1202" y2="623.7" stroke="#111" stroke-width="2.2"/>
<text x="1188" y="630.7" font-size="30.6" text-anchor="end" transform="translate(0 -31.5) scale(1 1.05)">1.5</text>
<line x1="1190.8" y1="678.1" x2="1202" y2="678.1" stroke="#111" stroke-width="2.2"/>
<text x="1188" y="685.1" font-size="30.6" text-anchor="end" transform="translate(0 -34.3) scale(1 1.05)">1.0</text>
<line x1="1190.8" y1="732.5" x2="1202" y2="732.5" stroke="#111" stroke-width="2.2"/>
<text x="1188" y="739.5" font-size="30.6" text-anchor="end" transform="translate(0 -37) scale(1 1.05)">0.5</text>
<line x1="1190.8" y1="786.9" x2="1202" y2="786.9" stroke="#111" stroke-width="2.2"/>
<text x="1188" y="793.9" font-size="30.6" text-anchor="end" transform="translate(0 -39.7) scale(1 1.05)">0</text>
<text x="1283.8" y="825.4" font-size="32" text-anchor="middle" transform="translate(0 -41.3) scale(1 1.05)">IL-2</text>
<text x="1423.9" y="825.4" font-size="32" text-anchor="middle" transform="translate(0 -41.3) scale(1 1.05)">TNFa</text>
<text x="1586.5" y="825.4" font-size="32" text-anchor="middle" transform="translate(0 -41.3) scale(1 1.05)">IFNy</text>
<text x="1135.5" y="653.6" font-size="30.5" text-anchor="middle" textLength="181" lengthAdjust="spacingAndGlyphs" transform="rotate(-90 1135.5 653.6)">pg/mL (x10<tspan font-size="19.5" dy="-9.5">4</tspan><tspan dy="9.5">)</tspan></text>
<line x1="1246.4" y1="494.8" x2="1312" y2="494.8" stroke="#111" stroke-width="1.8"/>
<line x1="1391.4" y1="494.8" x2="1456.6" y2="494.8" stroke="#111" stroke-width="1.8"/>
<text x="1280.7" y="490.5" font-size="17" text-anchor="middle" textLength="49" lengthAdjust="spacingAndGlyphs" transform="translate(0 -24.5) scale(1 1.05)">0.0005</text>
<text x="1423.5" y="490.5" font-size="17" text-anchor="middle" textLength="40" lengthAdjust="spacingAndGlyphs" transform="translate(0 -24.5) scale(1 1.05)">0.010</text>
<line x1="1659.5" y1="643.9" x2="1686.4" y2="643.9" stroke="#3f58ae" stroke-width="2.2"/>
<circle cx="1673" cy="643.9" r="8.6" fill="#3f5ab2" stroke="#111" stroke-width="1.6"/>
<line x1="1659.5" y1="690" x2="1686.4" y2="690" stroke="#e62226" stroke-width="2.2"/>
<circle cx="1673" cy="690" r="8.6" fill="#ec1f25" stroke="#111" stroke-width="1.6"/>
<text x="1702.5" y="655.6" font-size="32" transform="translate(0 -32.8) scale(1 1.05)">19-HIT</text>
<text x="1702.5" y="701.8" font-size="32" transform="translate(0 -35.1) scale(1 1.05)">19-HIT</text>
<text x="1799.5" y="690.6" font-size="19.5" transform="translate(0 -34.5) scale(1 1.05)">80BB</text>
<text x="11" y="1002.3" font-size="37" font-weight="bold" transform="translate(0 -50.1) scale(1 1.05)">f</text>
<polyline points="149.0,1162.0 166.7,1044.6" fill="none" stroke="#a3a3a3" stroke-width="2.6" stroke-linejoin="round"/>
<polyline points="149.7,1227.9 170.4,1045.9" fill="none" stroke="#a3a3a3" stroke-width="2.6" stroke-linejoin="round"/>
<polyline points="149.9,1218.7 171.6,1045.9" fill="none" stroke="#a3a3a3" stroke-width="2.6" stroke-linejoin="round"/>
<polyline points="159.5,1185.7 179.0,1045.9" fill="none" stroke="#a3a3a3" stroke-width="2.6" stroke-linejoin="round"/>
<polyline points="149.0,1201.5 150.5,1201.1 152.1,1198.8 153.6,1193.1 155.1,1191.3 156.6,1197.9 158.2,1205.3 159.7,1210.5 161.2,1216.3 162.7,1223.5 164.3,1232.0 165.8,1241.3 167.3,1250.8 168.8,1260.1 170.4,1268.6 171.9,1276.2 173.4,1282.8 175.0,1288.4 176.5,1293.1 178.0,1297.0 179.5,1300.3 181.1,1303.0 182.6,1305.2 184.1,1307.0 185.6,1308.5 187.2,1309.8 188.7,1310.9 190.2,1311.8 191.7,1312.5 193.3,1313.2 194.8,1313.7 194.8,1172.5 196.2,1172.7 197.6,1174.7 199.1,1181.3 200.5,1194.4 201.9,1213.0 203.3,1233.9 204.7,1253.3 206.1,1269.3 207.6,1281.6 209.0,1290.6 210.4,1297.2 211.8,1302.0 213.2,1305.5 214.7,1308.1 216.1,1310.0 217.5,1311.5 218.9,1312.6 220.3,1313.5 221.7,1314.2 223.2,1314.7 224.6,1315.2 226.0,1315.5 227.4,1315.8 228.8,1316.1 230.3,1316.3 231.7,1316.4 233.1,1316.6 234.5,1316.7 235.9,1316.8 237.3,1316.9" fill="none" stroke="#e62226" stroke-width="3" stroke-linejoin="round"/>
<polyline points="149.0,1192.3 150.5,1191.9 152.1,1189.3 153.6,1183.2 155.1,1181.2 156.6,1188.4 158.2,1196.3 159.7,1202.0 161.2,1208.2 162.7,1216.0 164.3,1225.2 165.8,1235.2 167.3,1245.5 168.8,1255.5 170.4,1264.7 171.9,1272.9 173.4,1280.0 175.0,1286.1 176.5,1291.2 178.0,1295.4 179.5,1298.9 181.1,1301.8 182.6,1304.2 184.1,1306.2 185.6,1307.8 187.2,1309.2 188.7,1310.3 190.2,1311.3 191.7,1312.1 193.3,1312.8 194.8,1313.4 194.8,1172.5 196.2,1172.7 197.6,1174.7 199.1,1181.3 200.5,1194.4 201.9,1213.0 203.3,1233.9 204.7,1253.3 206.1,1269.3 207.6,1281.6 209.0,1290.6 210.4,1297.2 211.8,1302.0 213.2,1305.5 214.7,1308.1 216.1,1310.0 217.5,1311.5 218.9,1312.6 220.3,1313.5 221.7,1314.2 223.2,1314.7 224.6,1315.2 226.0,1315.5 227.4,1315.8 228.8,1316.1 230.3,1316.3 231.7,1316.4 233.1,1316.6 234.5,1316.7 235.9,1316.8 237.3,1316.9" fill="none" stroke="#e62226" stroke-width="3" stroke-linejoin="round"/>
<polyline points="237.3,1316.3 237.3,1168.6 238.6,1169.6 239.8,1173.7 241.1,1181.2 242.3,1191.4 243.6,1203.4 244.8,1216.1 246.1,1228.4 247.3,1239.9 248.6,1250.1 249.8,1259.1 251.1,1266.8 252.3,1273.4 253.6,1279.0 254.8,1283.7 256.1,1287.8 257.3,1291.2 258.6,1294.2 259.8,1296.7 261.1,1298.8 262.3,1300.7 263.6,1302.4 264.8,1303.8 266.1,1305.0 267.3,1306.1 268.6,1307.1 269.8,1308.0 271.1,1308.7 272.3,1309.4 273.6,1310.0 274.8,1310.6 276.1,1311.1 277.3,1311.5 278.6,1311.9 279.8,1312.3 281.1,1312.6 282.3,1312.9 283.6,1313.2 284.8,1313.5 286.1,1313.7 287.3,1313.9" fill="none" stroke="#e62226" stroke-width="3" stroke-linejoin="round"/>
<polyline points="237.3,1316.3 237.3,1175.1 238.6,1176.1 239.8,1180.1 241.1,1187.2 242.3,1197.0 243.6,1208.5 244.8,1220.6 246.1,1232.4 247.3,1243.3 248.6,1253.1 249.8,1261.7 251.1,1269.1 252.3,1275.3 253.6,1280.7 254.8,1285.2 256.1,1289.1 257.3,1292.4 258.6,1295.2 259.8,1297.6 261.1,1299.7 262.3,1301.5 263.6,1303.0 264.8,1304.4 266.1,1305.6 267.3,1306.6 268.6,1307.6 269.8,1308.4 271.1,1309.1 272.3,1309.8 273.6,1310.4 274.8,1310.9 276.1,1311.4 277.3,1311.8 278.6,1312.2 279.8,1312.5 281.1,1312.9 282.3,1313.1 283.6,1313.4 284.8,1313.7 286.1,1313.9 287.3,1314.1" fill="none" stroke="#e62226" stroke-width="3" stroke-linejoin="round"/>
<polyline points="237.3,1316.3 237.3,1172.5 238.6,1173.5 239.8,1177.5 241.1,1184.8 242.3,1194.8 243.6,1206.5 244.8,1218.8 246.1,1230.8 247.3,1242.0 248.6,1251.9 249.8,1260.6 251.1,1268.2 252.3,1274.6 253.6,1280.0 254.8,1284.6 256.1,1288.6 257.3,1291.9 258.6,1294.8 259.8,1297.2 261.1,1299.3 262.3,1301.2 263.6,1302.8 264.8,1304.2 266.1,1305.4 267.3,1306.4 268.6,1307.4 269.8,1308.2 271.1,1309.0 272.3,1309.6 273.6,1310.2 274.8,1310.8 276.1,1311.3 277.3,1311.7 278.6,1312.1 279.8,1312.4 281.1,1312.8 282.3,1313.1 283.6,1313.3 284.8,1313.6 286.1,1313.8 287.3,1314.0" fill="none" stroke="#e62226" stroke-width="3" stroke-linejoin="round"/>
<polyline points="287.3,1315.0 287.3,1249.0 288.5,1249.0 291.4,1224.4 294.3,1202.5 297.2,1181.5 300.1,1161.0 303.0,1141.0 305.9,1121.2 308.8,1101.8 311.8,1082.5 314.7,1063.5 317.6,1044.6" fill="none" stroke="#e62226" stroke-width="3" stroke-linejoin="round"/>
<polyline points="287.3,1315.0 287.3,1225.3 288.5,1225.3 291.2,1203.5 293.9,1184.2 296.6,1165.6 299.3,1147.5 302.0,1129.8 304.7,1112.3 307.4,1095.1 310.1,1078.1 312.8,1061.3 315.5,1044.6" fill="none" stroke="#e62226" stroke-width="3" stroke-linejoin="round"/>
<polyline points="287.3,1315.0 287.3,1205.5 288.5,1205.5 290.7,1186.1 292.8,1168.9 295.0,1152.3 297.1,1136.2 299.3,1120.4 301.5,1104.9 303.6,1089.6 305.8,1074.4 308.0,1059.4 310.1,1044.6" fill="none" stroke="#e62226" stroke-width="3" stroke-linejoin="round"/>
<polyline points="287.3,1315.0 287.3,1168.6 288.5,1192.3 291.9,1174.5 295.4,1158.7 298.8,1143.5 302.3,1128.7 305.7,1114.2 309.1,1100.0 312.6,1085.9 316.0,1072.0 319.5,1058.2 322.9,1044.6" fill="none" stroke="#e62226" stroke-width="3" stroke-linejoin="round"/>
<polyline points="149.0,1205.5 150.5,1205.1 152.0,1202.9 153.5,1197.5 155.0,1195.5 156.6,1201.6 158.1,1208.7 159.6,1213.8 161.1,1219.3 162.6,1226.0 164.1,1234.1 165.6,1242.9 167.1,1252.0 168.6,1260.9 170.2,1269.1 171.7,1276.6 173.2,1283.0 174.7,1288.5 176.2,1293.2 177.7,1297.1 179.2,1300.3 180.7,1302.9 182.2,1305.2 183.8,1307.0 185.3,1308.5 186.8,1309.8 188.3,1310.9 189.8,1311.8 191.3,1312.5 192.8,1313.1 194.3,1313.7 194.8,1313.6 194.8,1134.3 196.2,1134.3 197.6,1135.2 199.1,1138.1 200.5,1144.3 201.9,1154.9 203.3,1169.8 204.7,1187.8 206.1,1207.0 207.6,1225.6 209.0,1242.4 210.4,1256.6 211.8,1268.3 213.2,1277.7 214.7,1285.2 216.1,1291.2 217.5,1295.9 218.9,1299.6 220.3,1302.6 221.7,1305.0 223.2,1307.0 224.6,1308.6 226.0,1309.9 227.4,1310.9 228.8,1311.8 230.3,1312.6 231.7,1313.2 233.1,1313.7 234.5,1314.2 235.9,1314.6 237.3,1314.9 237.3,1212.1 240.3,1197.2 242.8,1181.2 245.3,1164.8 247.9,1148.1 250.4,1131.2 252.9,1114.1 255.4,1096.9 257.9,1079.6 260.4,1062.1 262.9,1044.6" fill="none" stroke="#3f58ae" stroke-width="3" stroke-linejoin="round"/>
<polyline points="149.0,1192.3 150.5,1191.9 152.0,1189.4 153.5,1183.4 155.0,1181.1 156.6,1187.9 158.1,1195.9 159.6,1201.6 161.1,1207.7 162.6,1215.3 164.1,1224.2 165.6,1234.1 167.1,1244.3 168.6,1254.2 170.2,1263.4 171.7,1271.7 173.2,1278.9 174.7,1285.1 176.2,1290.3 177.7,1294.6 179.2,1298.2 180.7,1301.2 182.2,1303.7 183.8,1305.7 185.3,1307.5 186.8,1308.9 188.3,1310.1 189.8,1311.1 191.3,1311.9 192.8,1312.6 194.3,1313.2 194.8,1313.6 194.8,1179.1 196.2,1179.2 197.6,1179.8 199.1,1182.0 200.5,1186.7 201.9,1194.7 203.3,1205.9 204.7,1219.5 206.1,1234.1 207.6,1248.1 209.0,1260.8 210.4,1271.5 211.8,1280.4 213.2,1287.5 214.7,1293.2 216.1,1297.6 217.5,1301.2 218.9,1304.0 220.3,1306.3 221.7,1308.1 223.2,1309.6 224.6,1310.8 226.0,1311.8 227.4,1312.6 228.8,1313.2 230.3,1313.8 231.7,1314.3 233.1,1314.7 234.5,1315.0 235.9,1315.3 237.3,1315.6 237.3,1198.9 240.4,1185.1 243.1,1170.4 245.7,1155.3 248.3,1139.9 251.0,1124.4 253.6,1108.6 256.2,1092.8 258.8,1076.8 261.5,1060.7 264.1,1044.6" fill="none" stroke="#3f58ae" stroke-width="3" stroke-linejoin="round"/>
<polyline points="149.0,1179.1 150.5,1178.7 152.0,1175.9 153.5,1169.3 155.0,1166.7 156.6,1174.3 158.1,1183.1 159.6,1189.4 161.1,1196.1 162.6,1204.5 164.1,1214.4 165.6,1225.3 167.1,1236.6 168.6,1247.5 170.2,1257.7 171.7,1266.9 173.2,1274.9 174.7,1281.7 176.2,1287.4 177.7,1292.2 179.2,1296.2 180.7,1299.5 182.2,1302.2 183.8,1304.5 185.3,1306.4 186.8,1308.0 188.3,1309.3 189.8,1310.4 191.3,1311.3 192.8,1312.1 194.3,1312.8 194.8,1313.6 194.8,1192.3 196.2,1192.4 197.6,1192.9 199.1,1194.9 200.5,1199.2 201.9,1206.4 203.3,1216.6 204.7,1228.9 206.1,1242.0 207.6,1254.7 209.0,1266.2 210.4,1275.9 211.8,1283.9 213.2,1290.4 214.7,1295.5 216.1,1299.5 217.5,1302.8 218.9,1305.3 220.3,1307.4 221.7,1309.0 223.2,1310.3 224.6,1311.4 226.0,1312.3 227.4,1313.0 228.8,1313.7 230.3,1314.2 231.7,1314.6 233.1,1315.0 234.5,1315.3 235.9,1315.5 237.3,1315.8 237.3,1185.7 240.5,1173.1 243.2,1159.7 245.8,1145.8 248.5,1131.8 251.2,1117.5 253.9,1103.2 256.5,1088.7 259.2,1074.0 261.9,1059.3 264.6,1044.6" fill="none" stroke="#3f58ae" stroke-width="3" stroke-linejoin="round"/>
<polyline points="149.0,1198.9 150.5,1198.5 152.0,1196.1 153.5,1190.5 155.0,1188.3 156.6,1194.8 158.1,1202.3 159.6,1207.7 161.1,1213.5 162.6,1220.6 164.1,1229.1 165.6,1238.5 167.1,1248.1 168.6,1257.5 170.2,1266.3 171.7,1274.1 173.2,1281.0 174.7,1286.8 176.2,1291.7 177.7,1295.8 179.2,1299.3 180.7,1302.1 182.2,1304.4 183.8,1306.4 185.3,1308.0 186.8,1309.3 188.3,1310.5 189.8,1311.4 191.3,1312.2 192.8,1312.9 194.3,1313.5 194.8,1313.6 194.8,1198.9 196.2,1198.9 197.6,1199.5 199.1,1201.4 200.5,1205.4 201.9,1212.3 203.3,1221.9 204.7,1233.5 206.1,1246.0 207.6,1258.1 209.0,1268.9 210.4,1278.1 211.8,1285.7 213.2,1291.8 214.7,1296.6 216.1,1300.5 217.5,1303.5 218.9,1306.0 220.3,1307.9 221.7,1309.5 223.2,1310.7 224.6,1311.7 226.0,1312.6 227.4,1313.3 228.8,1313.9 230.3,1314.3 231.7,1314.8 233.1,1315.1 234.5,1315.4 235.9,1315.6 237.3,1315.9 237.3,1205.5 240.4,1191.1 242.9,1175.8 245.5,1160.0 248.0,1144.0 250.6,1127.8 253.2,1111.4 255.7,1094.8 258.3,1078.2 260.8,1061.4 263.4,1044.6" fill="none" stroke="#3f58ae" stroke-width="3" stroke-linejoin="round"/>
<polyline points="149.0,1212.1 150.5,1211.7 152.0,1209.6 153.5,1204.6 155.0,1202.6 156.6,1208.4 158.1,1215.1 159.6,1219.9 161.1,1225.0 162.6,1231.4 164.1,1239.0 165.6,1247.3 167.1,1255.9 168.6,1264.2 170.2,1272.0 171.7,1279.0 173.2,1285.0 174.7,1290.2 176.2,1294.6 177.7,1298.3 179.2,1301.3 180.7,1303.8 182.2,1305.9 183.8,1307.6 185.3,1309.1 186.8,1310.3 188.3,1311.3 189.8,1312.1 191.3,1312.8 192.8,1313.4 194.3,1313.9 194.8,1313.6 194.8,1205.5 196.2,1205.5 197.6,1206.1 199.1,1207.8 200.5,1211.6 201.9,1218.1 203.3,1227.2 204.7,1238.2 206.1,1250.0 207.6,1261.4 209.0,1271.6 210.4,1280.3 211.8,1287.5 213.2,1293.2 214.7,1297.8 216.1,1301.4 217.5,1304.3 218.9,1306.6 220.3,1308.4 221.7,1309.9 223.2,1311.1 224.6,1312.1 226.0,1312.9 227.4,1313.5 228.8,1314.1 230.3,1314.5 231.7,1314.9 233.1,1315.2 234.5,1315.5 235.9,1315.8 237.3,1316.0 237.3,1192.3 240.6,1179.1 243.3,1165.0 246.0,1150.6 248.8,1135.8 251.5,1120.9 254.3,1105.9 257.0,1090.7 259.8,1075.4 262.5,1060.0 265.2,1044.6" fill="none" stroke="#3f58ae" stroke-width="3" stroke-linejoin="round"/>
<polyline points="149.0,1185.7 150.5,1185.3 152.0,1182.6 153.5,1176.3 155.0,1173.9 156.6,1181.1 158.1,1189.5 159.6,1195.5 161.1,1201.9 162.6,1209.9 164.1,1219.3 165.6,1229.7 167.1,1240.4 168.6,1250.9 170.2,1260.6 171.7,1269.3 173.2,1276.9 174.7,1283.4 176.2,1288.9 177.7,1293.4 179.2,1297.2 180.7,1300.4 182.2,1303.0 183.8,1305.1 185.3,1306.9 186.8,1308.4 188.3,1309.7 189.8,1310.7 191.3,1311.6 192.8,1312.4 194.3,1313.0 194.8,1313.6 194.8,1185.7 196.2,1185.8 197.6,1186.4 199.1,1188.4 200.5,1192.9 201.9,1200.6 203.3,1211.3 204.7,1224.2 206.1,1238.0 207.6,1251.4 209.0,1263.5 210.4,1273.7 211.8,1282.1 213.2,1288.9 214.7,1294.3 216.1,1298.6 217.5,1302.0 218.9,1304.7 220.3,1306.8 221.7,1308.6 223.2,1310.0 224.6,1311.1 226.0,1312.0 227.4,1312.8 228.8,1313.4 230.3,1314.0 231.7,1314.4 233.1,1314.8 234.5,1315.1 235.9,1315.4 237.3,1315.7 237.3,1179.1 240.4,1167.1 243.0,1154.3 245.6,1141.1 248.2,1127.7 250.8,1114.1 253.4,1100.4 256.0,1086.6 258.6,1072.7 261.3,1058.7 263.9,1044.6" fill="none" stroke="#3f58ae" stroke-width="3" stroke-linejoin="round"/>
<line x1="149" y1="1053.8" x2="149" y2="1318.6" stroke="#111" stroke-width="2.2"/>
<line x1="138.2" y1="1317.6" x2="335.7" y2="1317.6" stroke="#111" stroke-width="2.2"/>
<line x1="138.2" y1="1317.6" x2="149" y2="1317.6" stroke="#111" stroke-width="2.2"/>
<text x="133" y="1328.8" font-size="32.5" text-anchor="end" transform="translate(0 -66.4) scale(1 1.05)">0.0</text>
<line x1="138.2" y1="1251.6" x2="149" y2="1251.6" stroke="#111" stroke-width="2.2"/>
<text x="133" y="1262.8" font-size="32.5" text-anchor="end" transform="translate(0 -63.1) scale(1 1.05)">0.5</text>
<line x1="138.2" y1="1185.7" x2="149" y2="1185.7" stroke="#111" stroke-width="2.2"/>
<text x="133" y="1196.9" font-size="32.5" text-anchor="end" transform="translate(0 -59.8) scale(1 1.05)">1.0</text>
<line x1="138.2" y1="1119.8" x2="149" y2="1119.8" stroke="#111" stroke-width="2.2"/>
<text x="133" y="1131" font-size="32.5" text-anchor="end" transform="translate(0 -56.5) scale(1 1.05)">1.5</text>
<line x1="138.2" y1="1053.8" x2="149" y2="1053.8" stroke="#111" stroke-width="2.2"/>
<text x="133" y="1065" font-size="32.5" text-anchor="end" transform="translate(0 -53.3) scale(1 1.05)">2.0</text>
<line x1="149" y1="1317.6" x2="149" y2="1328" stroke="#111" stroke-width="2.2"/>
<text x="149" y="1360.6" font-size="32.5" text-anchor="middle" transform="translate(0 -68) scale(1 1.05)">0</text>
<line x1="195.5" y1="1317.6" x2="195.5" y2="1328" stroke="#111" stroke-width="2.2"/>
<text x="195.5" y="1360.6" font-size="32.5" text-anchor="middle" transform="translate(0 -68) scale(1 1.05)">2</text>
<line x1="242" y1="1317.6" x2="242" y2="1328" stroke="#111" stroke-width="2.2"/>
<text x="242" y="1360.6" font-size="32.5" text-anchor="middle" transform="translate(0 -68) scale(1 1.05)">4</text>
<line x1="288.5" y1="1317.6" x2="288.5" y2="1328" stroke="#111" stroke-width="2.2"/>
<text x="288.5" y="1360.6" font-size="32.5" text-anchor="middle" transform="translate(0 -68) scale(1 1.05)">6</text>
<line x1="335" y1="1317.6" x2="335" y2="1328" stroke="#111" stroke-width="2.2"/>
<text x="335" y="1360.6" font-size="32.5" text-anchor="middle" transform="translate(0 -68) scale(1 1.05)">8</text>
<text x="252" y="1029" font-size="33" text-anchor="middle" transform="translate(0 -51.5) scale(1 1.05)">CD4</text>
<text x="249.3" y="1402.9" font-size="32.5" text-anchor="middle" transform="translate(0 -70.1) scale(1 1.05)">Days</text>
<text x="78.5" y="1183.5" font-size="32.5" text-anchor="middle" transform="rotate(-90 78.5 1183.5)">Norm. Nalm6 Area</text>
<polyline points="402.1,1189.0 402.4,1189.6 402.7,1190.7 403.0,1192.0 403.5,1193.4 403.9,1194.6 404.5,1195.5 405.0,1195.9 405.7,1195.5 406.4,1194.2 407.1,1192.0 408.0,1189.2 408.9,1186.1 409.8,1183.0 410.7,1180.3 411.6,1178.2 412.5,1177.1 413.2,1176.8 413.6,1177.1 413.9,1177.8 414.2,1178.9 414.8,1180.5 415.9,1182.5 417.5,1184.9 420.0,1187.6 423.6,1191.2 428.5,1195.9 434.1,1201.2 440.1,1206.7 446.0,1212.2 451.5,1217.3 456.1,1221.5 459.3,1224.5 460.8,1224.5 460.8,1152.1 460.8,1152.1 461.3,1151.7 462.0,1151.0 462.8,1150.1 463.7,1149.3 464.6,1148.5 465.6,1148.0 466.7,1147.8 467.7,1148.1 468.5,1148.2 469.1,1147.7 469.6,1147.2 470.2,1147.1 471.0,1147.9 472.2,1150.2 474.1,1154.5 476.6,1161.3 480.3,1171.9 485.0,1186.3 490.5,1203.2 496.4,1221.4 502.1,1239.4 507.4,1256.1 511.9,1270.0 515.0,1279.8 515.9,1279.8 515.9,1138.9 517.4,1153.4 520.4,1165.5 523.3,1177.2 526.3,1188.5 529.2,1199.4 532.2,1209.9 535.1,1220.1 538.1,1229.7 541.0,1239.0 544.0,1247.8 546.9,1256.1 549.9,1264.0 552.8,1271.3 555.8,1278.1 558.7,1284.4 561.7,1290.0 564.6,1295.0 567.6,1299.3 570.5,1302.8 573.5,1305.4 576.4,1306.7 578.8,1306.7 579.4,1204.8 579.4,1204.8 581.4,1205.8 583.5,1210.0 585.5,1217.6 587.6,1227.8 589.6,1239.1 591.6,1250.3 593.7,1260.5 595.7,1269.4 597.7,1276.9 599.8,1283.1 601.8,1288.2 603.8,1292.4 605.9,1295.9 607.9,1298.7 610.0,1301.1 612.0,1303.1 614.0,1304.7 616.1,1306.1 618.1,1307.3 620.1,1308.3 622.2,1309.2 624.2,1309.9 626.2,1310.6 628.3,1311.1 630.3,1311.6 632.4,1312.1 634.4,1312.4 636.4,1312.8 638.5,1313.1 640.5,1313.4" fill="none" stroke="#e62226" stroke-width="3" stroke-linejoin="round"/>
<polyline points="402.1,1204.8 402.4,1205.5 402.7,1206.6 403.0,1208.0 403.5,1209.4 403.9,1210.7 404.5,1211.6 405.0,1211.9 405.7,1211.3 406.4,1209.7 407.1,1207.0 408.0,1203.6 408.9,1199.9 409.8,1196.2 410.7,1192.9 411.6,1190.4 412.5,1189.0 413.2,1188.6 413.6,1188.8 413.9,1189.6 414.2,1190.9 414.8,1192.6 415.9,1194.7 417.5,1197.0 420.0,1199.5 423.6,1202.5 428.5,1206.4 434.1,1210.7 440.1,1215.3 446.0,1219.8 451.5,1223.9 456.1,1227.3 459.3,1229.8 460.8,1229.8 460.8,1173.1 460.8,1173.1 461.3,1172.7 462.0,1172.0 462.8,1171.2 463.7,1170.3 464.6,1169.6 465.6,1169.1 466.7,1168.9 467.7,1169.2 468.5,1169.4 469.1,1169.2 469.6,1169.1 470.2,1169.3 471.0,1170.3 472.2,1172.6 474.1,1176.4 476.6,1182.4 480.3,1191.4 485.0,1203.6 490.5,1217.9 496.4,1233.2 502.1,1248.4 507.4,1262.4 511.9,1274.1 515.0,1282.5 515.9,1282.5 515.9,1171.8 517.4,1171.8 520.4,1182.6 523.3,1193.1 526.3,1203.2 529.2,1213.0 532.2,1222.4 535.1,1231.4 538.1,1240.0 541.0,1248.3 544.0,1256.2 546.9,1263.6 549.9,1270.6 552.8,1277.2 555.8,1283.3 558.7,1288.8 561.7,1293.9 564.6,1298.4 567.6,1302.2 570.5,1305.4 573.5,1307.7 576.4,1308.8 578.8,1308.8 579.4,1208.7 579.4,1208.7 581.4,1209.7 583.5,1213.8 585.5,1221.1 587.6,1230.9 589.6,1241.8 591.6,1252.6 593.7,1262.5 595.7,1271.1 597.7,1278.3 599.8,1284.3 601.8,1289.2 603.8,1293.3 605.9,1296.6 607.9,1299.4 610.0,1301.7 612.0,1303.5 614.0,1305.1 616.1,1306.5 618.1,1307.6 620.1,1308.6 622.2,1309.4 624.2,1310.1 626.2,1310.8 628.3,1311.3 630.3,1311.8 632.4,1312.2 634.4,1312.6 636.4,1312.9 638.5,1313.2 640.5,1313.5" fill="none" stroke="#e62226" stroke-width="3" stroke-linejoin="round"/>
<polyline points="402.1,1211.3 402.4,1212.1 402.7,1213.2 403.0,1214.7 403.5,1216.1 403.9,1217.4 404.5,1218.3 405.0,1218.5 405.7,1217.9 406.4,1216.2 407.1,1213.3 408.0,1209.7 408.9,1205.8 409.8,1201.9 410.7,1198.4 411.6,1195.8 412.5,1194.2 413.2,1193.8 413.6,1194.0 413.9,1194.9 414.2,1196.2 414.8,1197.9 415.9,1200.0 417.5,1202.3 420.0,1204.8 423.6,1207.7 428.5,1211.4 434.1,1215.5 440.1,1219.9 446.0,1224.2 451.5,1228.1 456.1,1231.4 459.3,1233.7 460.8,1233.7 460.8,1189.0 460.8,1189.0 461.3,1188.5 462.0,1187.8 462.8,1187.0 463.7,1186.2 464.6,1185.4 465.6,1184.9 466.7,1184.7 467.7,1185.0 468.5,1185.3 469.1,1185.4 469.6,1185.4 470.2,1185.9 471.0,1187.1 472.2,1189.3 474.1,1192.9 476.6,1198.2 480.3,1206.1 485.0,1216.8 490.5,1229.2 496.4,1242.5 502.1,1255.6 507.4,1267.7 511.9,1277.9 515.0,1285.1 515.9,1285.1 515.9,1189.0 517.4,1189.0 520.4,1198.5 523.3,1207.7 526.3,1216.7 529.2,1225.3 532.2,1233.6 535.1,1241.6 538.1,1249.3 541.0,1256.6 544.0,1263.6 546.9,1270.1 549.9,1276.3 552.8,1282.1 555.8,1287.5 558.7,1292.5 561.7,1296.9 564.6,1300.9 567.6,1304.3 570.5,1307.1 573.5,1309.1 576.4,1310.1 578.8,1310.1 579.4,1211.3 579.4,1211.3 581.4,1212.3 583.5,1216.3 585.5,1223.4 587.6,1233.0 589.6,1243.6 591.6,1254.2 593.7,1263.8 595.7,1272.2 597.7,1279.2 599.8,1285.1 601.8,1289.9 603.8,1293.9 605.9,1297.1 607.9,1299.8 610.0,1302.0 612.0,1303.9 614.0,1305.4 616.1,1306.7 618.1,1307.8 620.1,1308.8 622.2,1309.6 624.2,1310.3 626.2,1310.9 628.3,1311.5 630.3,1311.9 632.4,1312.3 634.4,1312.7 636.4,1313.0 638.5,1313.3 640.5,1313.6" fill="none" stroke="#e62226" stroke-width="3" stroke-linejoin="round"/>
<polyline points="402.1,1214.0 402.4,1214.7 402.7,1215.8 403.0,1217.2 403.5,1218.7 403.9,1219.9 404.5,1220.8 405.0,1221.1 405.7,1220.6 406.4,1218.9 407.1,1216.2 408.0,1212.8 408.9,1209.1 409.8,1205.4 410.7,1202.1 411.6,1199.6 412.5,1198.2 413.2,1197.8 413.6,1198.1 413.9,1198.9 414.2,1200.2 414.8,1202.0 415.9,1204.0 417.5,1206.3 420.0,1208.7 423.6,1211.6 428.5,1215.3 434.1,1219.5 440.1,1223.9 446.0,1228.1 451.5,1232.0 456.1,1235.3 459.3,1237.7 460.8,1237.7 460.8,1195.5 460.8,1195.5 461.3,1195.1 462.0,1194.4 462.8,1193.6 463.7,1192.7 464.6,1192.0 465.6,1191.5 466.7,1191.3 467.7,1191.6 468.5,1191.9 469.1,1192.0 469.6,1192.2 470.2,1192.7 471.0,1194.0 472.2,1196.2 474.1,1199.7 476.6,1204.8 480.3,1212.4 485.0,1222.5 490.5,1234.4 496.4,1247.1 502.1,1259.6 507.4,1271.2 511.9,1280.8 515.0,1287.7 515.9,1287.7 515.9,1191.6 517.4,1191.6 520.4,1201.0 523.3,1210.1 526.3,1218.9 529.2,1227.4 532.2,1235.6 535.1,1243.4 538.1,1250.9 541.0,1258.1 544.0,1265.0 546.9,1271.5 549.9,1277.6 552.8,1283.3 555.8,1288.6 558.7,1293.4 561.7,1297.8 564.6,1301.7 567.6,1305.0 570.5,1307.8 573.5,1309.8 576.4,1310.8 578.8,1310.8 579.4,1214.0 579.4,1214.0 581.4,1214.9 583.5,1218.8 585.5,1225.8 587.6,1235.1 589.6,1245.5 591.6,1255.7 593.7,1265.1 595.7,1273.3 597.7,1280.2 599.8,1285.9 601.8,1290.6 603.8,1294.4 605.9,1297.6 607.9,1300.2 610.0,1302.4 612.0,1304.2 614.0,1305.7 616.1,1307.0 618.1,1308.1 620.1,1309.0 622.2,1309.8 624.2,1310.5 626.2,1311.1 628.3,1311.6 630.3,1312.0 632.4,1312.4 634.4,1312.8 636.4,1313.1 638.5,1313.4 640.5,1313.6" fill="none" stroke="#e62226" stroke-width="3" stroke-linejoin="round"/>
<polyline points="402.1,1215.3 402.4,1216.0 402.7,1217.1 403.0,1218.5 403.5,1219.9 403.9,1221.1 404.5,1222.0 405.0,1222.3 405.7,1221.9 406.4,1220.3 407.1,1217.8 408.0,1214.6 408.9,1211.1 409.8,1207.6 410.7,1204.5 411.6,1202.1 412.5,1200.8 413.2,1200.5 413.6,1200.8 413.9,1201.6 414.2,1202.9 414.8,1204.6 415.9,1206.7 417.5,1208.9 420.0,1211.3 423.6,1214.3 428.5,1218.0 434.1,1222.1 440.1,1226.5 446.0,1230.8 451.5,1234.7 456.1,1238.0 459.3,1240.3 460.8,1240.3 460.8,1202.1 460.8,1202.1 461.3,1201.7 462.0,1201.0 462.8,1200.2 463.7,1199.3 464.6,1198.6 465.6,1198.0 466.7,1197.9 467.7,1198.2 468.5,1198.6 469.1,1198.7 469.6,1199.0 470.2,1199.7 471.0,1200.9 472.2,1203.1 474.1,1206.5 476.6,1211.3 480.3,1218.5 485.0,1228.0 490.5,1239.2 496.4,1251.0 502.1,1262.8 507.4,1273.6 511.9,1282.6 515.0,1289.0 515.9,1289.0 515.9,1198.2 517.4,1198.2 520.4,1207.1 523.3,1215.7 526.3,1224.0 529.2,1232.1 532.2,1239.8 535.1,1247.3 538.1,1254.4 541.0,1261.2 544.0,1267.7 546.9,1273.8 549.9,1279.6 552.8,1285.0 555.8,1290.0 558.7,1294.6 561.7,1298.8 564.6,1302.4 567.6,1305.6 570.5,1308.2 573.5,1310.1 576.4,1311.0 578.8,1311.0 579.4,1206.1 579.4,1206.1 581.4,1207.1 583.5,1211.2 585.5,1218.8 587.6,1228.8 589.6,1240.0 591.6,1251.0 593.7,1261.2 595.7,1269.9 597.7,1277.4 599.8,1283.5 601.8,1288.6 603.8,1292.7 605.9,1296.1 607.9,1299.0 610.0,1301.3 612.0,1303.2 614.0,1304.9 616.1,1306.2 618.1,1307.4 620.1,1308.4 622.2,1309.3 624.2,1310.0 626.2,1310.6 628.3,1311.2 630.3,1311.7 632.4,1312.1 634.4,1312.5 636.4,1312.8 638.5,1313.1 640.5,1313.4" fill="none" stroke="#e62226" stroke-width="3" stroke-linejoin="round"/>
<polyline points="402.1,1211.3 402.4,1212.0 402.7,1213.0 403.0,1214.3 403.5,1215.5 403.9,1216.7 404.5,1217.6 405.0,1218.1 405.7,1217.9 406.4,1217.0 407.1,1215.2 408.0,1212.9 408.9,1210.4 409.8,1208.0 410.7,1205.8 411.6,1204.2 412.5,1203.4 413.2,1203.4 413.6,1203.9 413.9,1204.7 414.2,1206.0 414.8,1207.6 415.9,1209.5 417.5,1211.6 420.0,1214.0 423.6,1216.9 428.5,1220.6 434.1,1224.8 440.1,1229.1 446.0,1233.4 451.5,1237.3 456.1,1240.6 459.3,1242.9 460.8,1242.9 460.8,1208.7 460.8,1208.7 461.3,1208.3 462.0,1207.6 462.8,1206.8 463.7,1205.9 464.6,1205.2 465.6,1204.6 466.7,1204.5 467.7,1204.8 468.5,1205.2 469.1,1205.5 469.6,1205.8 470.2,1206.6 471.0,1207.9 472.2,1210.1 474.1,1213.3 476.6,1217.9 480.3,1224.6 485.0,1233.6 490.5,1243.9 496.4,1255.0 502.1,1265.9 507.4,1276.0 511.9,1284.4 515.0,1290.4 515.9,1290.4 515.9,1185.0 517.4,1185.0 520.4,1194.9 523.3,1204.4 526.3,1213.6 529.2,1222.6 532.2,1231.2 535.1,1239.4 538.1,1247.3 541.0,1254.9 544.0,1262.0 546.9,1268.8 549.9,1275.2 552.8,1281.2 555.8,1286.8 558.7,1291.9 561.7,1296.5 564.6,1300.6 567.6,1304.1 570.5,1307.0 573.5,1309.1 576.4,1310.1 578.8,1310.1 579.4,1210.0 579.4,1210.0 581.4,1211.0 583.5,1215.0 585.5,1222.3 587.6,1232.0 589.6,1242.7 591.6,1253.4 593.7,1263.1 595.7,1271.6 597.7,1278.8 599.8,1284.7 601.8,1289.6 603.8,1293.6 605.9,1296.9 607.9,1299.6 610.0,1301.8 612.0,1303.7 614.0,1305.3 616.1,1306.6 618.1,1307.7 620.1,1308.7 622.2,1309.5 624.2,1310.2 626.2,1310.8 628.3,1311.4 630.3,1311.9 632.4,1312.3 634.4,1312.6 636.4,1313.0 638.5,1313.3 640.5,1313.5" fill="none" stroke="#e62226" stroke-width="3" stroke-linejoin="round"/>
<polyline points="640.5,1315.4 641.1,1156.0 642.6,1156.0 644.0,1157.4 645.5,1162.0 647.0,1170.4 648.5,1182.1 649.9,1196.0 651.4,1210.6 652.9,1224.7 654.4,1237.7 655.8,1249.2 657.3,1259.0 658.8,1267.4 660.3,1274.4 661.7,1280.2 663.2,1285.1 664.7,1289.2 666.2,1292.7 667.6,1295.6 669.1,1298.0 670.6,1300.1 672.1,1301.9 673.5,1303.5 675.0,1304.8 676.5,1306.0 678.0,1307.0 679.4,1307.9 680.9,1308.6 682.4,1309.3 683.9,1309.9 685.3,1310.5 686.8,1311.0 688.3,1311.4 689.8,1311.8 691.2,1312.1 692.7,1312.5 694.2,1312.7 695.7,1313.0 697.1,1313.2 698.6,1313.5 700.1,1313.7" fill="none" stroke="#e62226" stroke-width="3" stroke-linejoin="round"/>
<polyline points="640.5,1315.4 641.1,1165.2 642.6,1165.3 644.0,1166.5 645.5,1170.8 647.0,1178.8 648.5,1189.8 649.9,1202.9 651.4,1216.7 652.9,1230.0 654.4,1242.3 655.8,1253.1 657.3,1262.3 658.8,1270.2 660.3,1276.8 661.7,1282.3 663.2,1286.9 664.7,1290.8 666.2,1294.0 667.6,1296.8 669.1,1299.1 670.6,1301.1 672.1,1302.8 673.5,1304.2 675.0,1305.5 676.5,1306.6 678.0,1307.5 679.4,1308.4 680.9,1309.1 682.4,1309.7 683.9,1310.3 685.3,1310.8 686.8,1311.3 688.3,1311.7 689.8,1312.1 691.2,1312.4 692.7,1312.7 694.2,1313.0 695.7,1313.2 697.1,1313.4 698.6,1313.6 700.1,1313.8" fill="none" stroke="#e62226" stroke-width="3" stroke-linejoin="round"/>
<polyline points="640.5,1315.4 641.1,1221.9 642.6,1221.9 644.0,1222.7 645.5,1225.4 647.0,1230.3 648.5,1237.3 649.9,1245.5 651.4,1254.1 652.9,1262.4 654.4,1270.1 655.8,1276.9 657.3,1282.7 658.8,1287.6 660.3,1291.7 661.7,1295.2 663.2,1298.1 664.7,1300.5 666.2,1302.5 667.6,1304.2 669.1,1305.7 670.6,1306.9 672.1,1308.0 673.5,1308.9 675.0,1309.7 676.5,1310.4 678.0,1311.0 679.4,1311.5 680.9,1311.9 682.4,1312.3 683.9,1312.7 685.3,1313.0 686.8,1313.3 688.3,1313.6 689.8,1313.8 691.2,1314.0 692.7,1314.2 694.2,1314.4 695.7,1314.5 697.1,1314.7 698.6,1314.8 700.1,1314.9" fill="none" stroke="#e62226" stroke-width="3" stroke-linejoin="round"/>
<polyline points="700.1,1315.4 700.7,1079.6 701.9,1079.6 703.2,1080.5 704.4,1084.4 705.6,1092.1 706.9,1103.8 708.1,1118.7 709.4,1135.8 710.6,1153.8 711.8,1171.7 713.1,1188.6 714.3,1204.2 715.5,1218.0 716.8,1230.3 718.0,1240.9 719.2,1250.1 720.5,1258.0 721.7,1264.8 723.0,1270.7 724.2,1275.8 725.4,1280.1 726.7,1283.9 727.9,1287.2 729.1,1290.1 730.4,1292.6 731.6,1294.8 732.9,1296.7 734.1,1298.5 735.3,1300.0 736.6,1301.3 737.8,1302.5 739.0,1303.6 740.3,1304.6 741.5,1305.5 742.7,1306.3 744.0,1307.0 745.2,1307.6 746.5,1308.2 747.7,1308.8 748.9,1309.3 750.2,1309.7" fill="none" stroke="#e62226" stroke-width="3" stroke-linejoin="round"/>
<polyline points="700.1,1315.4 700.7,1148.1 701.9,1148.1 703.2,1148.8 704.4,1151.5 705.6,1157.0 706.9,1165.3 708.1,1175.9 709.4,1188.1 710.6,1200.9 711.8,1213.6 713.1,1225.6 714.3,1236.7 715.5,1246.5 716.8,1255.2 718.0,1262.8 719.2,1269.3 720.5,1275.0 721.7,1279.8 723.0,1284.0 724.2,1287.6 725.4,1290.7 726.7,1293.4 727.9,1295.7 729.1,1297.8 730.4,1299.6 731.6,1301.1 732.9,1302.5 734.1,1303.7 735.3,1304.8 736.6,1305.8 737.8,1306.6 739.0,1307.4 740.3,1308.1 741.5,1308.7 742.7,1309.3 744.0,1309.8 745.2,1310.3 746.5,1310.7 747.7,1311.1 748.9,1311.4 750.2,1311.7" fill="none" stroke="#e62226" stroke-width="3" stroke-linejoin="round"/>
<polyline points="700.1,1315.4 700.7,1224.5 701.9,1224.5 703.2,1224.9 704.4,1226.4 705.6,1229.4 706.9,1233.9 708.1,1239.7 709.4,1246.3 710.6,1253.4 711.8,1260.3 713.1,1266.9 714.3,1272.9 715.5,1278.3 716.8,1283.1 718.0,1287.2 719.2,1290.8 720.5,1293.9 721.7,1296.5 723.0,1298.8 724.2,1300.8 725.4,1302.5 726.7,1303.9 727.9,1305.2 729.1,1306.3 730.4,1307.3 731.6,1308.2 732.9,1308.9 734.1,1309.6 735.3,1310.2 736.6,1310.7 737.8,1311.2 739.0,1311.6 740.3,1312.0 741.5,1312.3 742.7,1312.6 744.0,1312.9 745.2,1313.2 746.5,1313.4 747.7,1313.6 748.9,1313.8 750.2,1314.0" fill="none" stroke="#e62226" stroke-width="3" stroke-linejoin="round"/>
<polyline points="750.2,1315.4 750.8,1124.4 752.0,1124.4 753.3,1125.2 754.6,1128.6 755.8,1135.3 757.1,1145.3 758.4,1158.0 759.6,1172.4 760.9,1187.4 762.2,1202.1 763.4,1216.0 764.7,1228.5 766.0,1239.7 767.2,1249.4 768.5,1257.9 769.8,1265.1 771.0,1271.3 772.3,1276.7 773.6,1281.2 774.8,1285.2 776.1,1288.6 777.4,1291.5 778.6,1294.0 779.9,1296.3 781.2,1298.2 782.4,1299.9 783.7,1301.4 785.0,1302.7 786.2,1303.9 787.5,1304.9 788.8,1305.9 790.0,1306.7 791.3,1307.4 792.6,1308.1 793.8,1308.7 795.1,1309.3 796.4,1309.8 797.6,1310.2 798.9,1310.6 800.2,1311.0 801.4,1311.4" fill="none" stroke="#e62226" stroke-width="3" stroke-linejoin="round"/>
<polyline points="750.2,1315.4 750.8,1196.9 752.0,1196.9 753.3,1197.4 754.6,1199.5 755.8,1203.7 757.1,1209.9 758.4,1217.8 759.6,1226.8 760.9,1236.1 762.2,1245.3 763.4,1253.9 764.7,1261.7 766.0,1268.7 767.2,1274.8 768.5,1280.0 769.8,1284.5 771.0,1288.4 772.3,1291.7 773.6,1294.6 774.8,1297.1 776.1,1299.2 777.4,1301.0 778.6,1302.6 779.9,1304.0 781.2,1305.2 782.4,1306.2 783.7,1307.2 785.0,1308.0 786.2,1308.7 787.5,1309.4 788.8,1309.9 790.0,1310.5 791.3,1310.9 792.6,1311.4 793.8,1311.7 795.1,1312.1 796.4,1312.4 797.6,1312.7 798.9,1312.9 800.2,1313.2 801.4,1313.4" fill="none" stroke="#e62226" stroke-width="3" stroke-linejoin="round"/>
<polyline points="750.2,1315.4 750.8,1204.8 752.0,1204.8 753.3,1205.2 754.6,1207.2 755.8,1211.1 757.1,1216.9 758.4,1224.3 759.6,1232.7 760.9,1241.4 762.2,1250.0 763.4,1258.1 764.7,1265.4 766.0,1271.9 767.2,1277.5 768.5,1282.4 769.8,1286.7 771.0,1290.3 772.3,1293.4 773.6,1296.1 774.8,1298.3 776.1,1300.3 777.4,1302.0 778.6,1303.5 779.9,1304.8 781.2,1305.9 782.4,1306.9 783.7,1307.8 785.0,1308.6 786.2,1309.2 787.5,1309.9 788.8,1310.4 790.0,1310.9 791.3,1311.3 792.6,1311.7 793.8,1312.1 795.1,1312.4 796.4,1312.7 797.6,1312.9 798.9,1313.2 800.2,1313.4 801.4,1313.6" fill="none" stroke="#e62226" stroke-width="3" stroke-linejoin="round"/>
<polyline points="750.2,1315.4 750.8,1214.0 752.0,1214.0 753.3,1214.4 754.6,1216.2 755.8,1219.8 757.1,1225.2 758.4,1231.9 759.6,1239.6 760.9,1247.6 762.2,1255.5 763.4,1262.9 764.7,1269.6 766.0,1275.6 767.2,1280.8 768.5,1285.3 769.8,1289.1 771.0,1292.5 772.3,1295.3 773.6,1297.8 774.8,1299.9 776.1,1301.7 777.4,1303.2 778.6,1304.6 779.9,1305.8 781.2,1306.8 782.4,1307.7 783.7,1308.5 785.0,1309.2 786.2,1309.9 787.5,1310.4 788.8,1310.9 790.0,1311.4 791.3,1311.8 792.6,1312.1 793.8,1312.4 795.1,1312.7 796.4,1313.0 797.6,1313.2 798.9,1313.5 800.2,1313.7 801.4,1313.9" fill="none" stroke="#e62226" stroke-width="3" stroke-linejoin="round"/>
<polyline points="640.5,1314.1 641.1,1133.6 642.3,1156.0" fill="none" stroke="#e62226" stroke-width="3" stroke-linejoin="round"/>
<polyline points="402.1,1169.9 402.4,1171.3 402.7,1173.5 403.0,1176.2 403.5,1179.0 403.9,1181.7 404.5,1183.9 405.0,1185.3 405.7,1185.7 406.4,1184.6 407.2,1182.3 408.0,1179.2 409.0,1175.6 409.9,1172.1 410.8,1169.0 411.7,1166.7 412.5,1165.6 413.1,1165.4 413.3,1165.4 413.3,1165.9 413.4,1166.9 413.7,1168.8 414.6,1171.7 416.1,1175.9 418.5,1181.4 422.2,1189.4 427.2,1200.0 433.0,1212.3 439.3,1225.4 445.5,1238.4 451.2,1250.3 455.9,1260.3 459.3,1267.4 460.8,1267.4 460.8,1150.8 460.8,1150.8 461.3,1149.3 461.9,1147.3 462.7,1144.8 463.5,1142.2 464.5,1139.4 465.5,1136.8 466.5,1134.4 467.7,1132.3 468.8,1130.5 470.0,1128.5 471.3,1126.6 472.7,1124.9 474.1,1123.5 475.7,1122.4 477.3,1122.0 479.0,1122.2 480.9,1123.2 483.1,1124.9 485.4,1127.2 487.8,1129.9 490.1,1132.9 492.3,1135.9 494.2,1138.8 495.8,1141.5 497.0,1144.1 497.8,1146.6 498.4,1149.1 498.8,1151.6 499.2,1154.2 499.6,1156.9 500.2,1159.7 501.0,1162.6 502.2,1165.7 503.5,1169.1 505.0,1172.6 506.5,1176.1 508.0,1179.6 509.5,1183.0 510.7,1186.1 511.8,1189.0 512.6,1191.5 513.2,1194.0 513.7,1196.3 514.1,1198.5 514.4,1200.4 514.6,1202.2 514.8,1203.6 515.0,1204.8 515.9,1204.8 515.9,1189.0 519.8,1185.0 519.8,1185.0 522.6,1192.1 525.5,1199.0 528.3,1205.7 531.1,1212.0 534.0,1218.1 536.8,1223.9 539.6,1229.4 542.5,1234.7 545.3,1239.6 548.1,1244.3 551.0,1248.6 553.8,1252.6 556.6,1256.2 559.4,1259.5 562.3,1262.5 565.1,1265.1 567.9,1267.2 570.8,1268.9 573.6,1270.1 576.4,1270.6 577.3,1270.6 577.3,1160.0 577.9,1160.0 580.3,1154.1 582.7,1148.1 585.1,1141.8 587.5,1135.3 589.8,1128.5 592.2,1121.5 594.6,1114.2 597.0,1106.7 599.4,1098.9 601.8,1090.7 604.1,1082.3 606.5,1073.6 608.9,1064.5 611.3,1055.1 613.7,1045.4" fill="none" stroke="#3f58ae" stroke-width="3" stroke-linejoin="round"/>
<polyline points="402.1,1185.0 402.4,1186.5 402.7,1188.8 403.0,1191.6 403.5,1194.5 403.9,1197.3 404.5,1199.4 405.0,1200.7 405.7,1200.8 406.4,1199.2 407.2,1196.2 408.0,1192.2 409.0,1187.6 409.9,1183.1 410.8,1179.1 411.7,1176.0 412.5,1174.5 413.1,1174.0 413.3,1173.9 413.3,1174.5 413.4,1175.7 413.7,1177.8 414.6,1180.8 416.1,1184.9 418.5,1190.3 422.2,1197.8 427.2,1207.7 433.0,1219.2 439.3,1231.4 445.5,1243.5 451.2,1254.7 455.9,1264.0 459.3,1270.6 460.8,1270.6 460.8,1183.7 460.8,1183.7 461.5,1183.3 462.3,1182.6 463.3,1181.7 464.5,1180.9 465.7,1180.1 467.0,1179.6 468.2,1179.4 469.4,1179.7 470.5,1180.3 471.3,1180.9 472.0,1181.6 472.8,1182.7 473.9,1184.2 475.2,1186.3 477.1,1189.2 479.6,1192.9 483.0,1198.1 487.5,1204.8 492.6,1212.5 497.9,1220.7 503.2,1228.8 508.1,1236.2 512.1,1242.5 515.0,1246.9 515.9,1246.9 515.9,1195.5 519.8,1191.6 519.8,1191.6 522.6,1198.7 525.5,1205.6 528.3,1212.3 531.1,1218.6 534.0,1224.7 536.8,1230.5 539.6,1236.0 542.5,1241.3 545.3,1246.2 548.1,1250.8 551.0,1255.2 553.8,1259.2 556.6,1262.8 559.4,1266.1 562.3,1269.1 565.1,1271.6 567.9,1273.8 570.8,1275.5 573.6,1276.7 576.4,1277.2 577.3,1277.2 577.3,1202.1 577.9,1202.1 580.7,1195.3 583.5,1188.2 586.3,1180.6 589.0,1172.5 591.8,1164.0 594.6,1155.0 597.4,1145.4 600.2,1135.2 603.0,1124.5 605.7,1113.2 608.5,1101.1 611.3,1088.4 614.1,1074.9 616.9,1060.5 619.6,1045.4" fill="none" stroke="#3f58ae" stroke-width="3" stroke-linejoin="round"/>
<polyline points="402.1,1191.6 402.4,1193.1 402.7,1195.4 403.0,1198.2 403.5,1201.1 403.9,1203.9 404.5,1206.0 405.0,1207.3 405.7,1207.4 406.4,1205.8 407.2,1202.8 408.0,1198.7 409.0,1194.2 409.9,1189.7 410.8,1185.7 411.7,1182.6 412.5,1181.0 413.1,1180.6 413.3,1180.6 413.3,1181.2 413.4,1182.5 413.7,1184.6 414.6,1187.7 416.1,1191.7 418.5,1196.9 422.2,1204.0 427.2,1213.5 433.0,1224.4 439.3,1236.0 445.5,1247.5 451.2,1258.1 455.9,1266.9 459.3,1273.2 460.8,1273.2 460.8,1191.6 460.8,1191.6 461.5,1190.9 462.3,1189.9 463.3,1188.7 464.5,1187.5 465.7,1186.3 467.0,1185.4 468.2,1184.9 469.4,1185.0 470.5,1185.4 471.3,1185.9 472.0,1186.6 472.8,1187.7 473.9,1189.3 475.2,1191.5 477.1,1194.4 479.6,1198.2 483.0,1203.4 487.5,1210.3 492.6,1218.3 497.9,1226.7 503.2,1234.9 508.1,1242.6 512.1,1248.9 515.0,1253.5 515.9,1253.5 515.9,1202.1 519.8,1198.2 519.8,1198.2 522.6,1205.2 525.5,1212.0 528.3,1218.5 531.1,1224.8 534.0,1230.8 536.8,1236.5 539.6,1241.9 542.5,1247.1 545.3,1252.0 548.1,1256.5 551.0,1260.8 553.8,1264.7 556.6,1268.3 559.4,1271.6 562.3,1274.5 565.1,1277.0 567.9,1279.1 570.8,1280.8 573.6,1281.9 576.4,1282.5 577.3,1282.5 577.3,1211.3 577.9,1211.3 580.9,1204.5 583.9,1197.2 586.9,1189.4 589.8,1181.1 592.8,1172.3 595.8,1162.9 598.8,1152.9 601.8,1142.2 604.7,1130.9 607.7,1118.8 610.7,1105.9 613.7,1092.2 616.7,1077.5 619.6,1062.0 622.6,1045.4" fill="none" stroke="#3f58ae" stroke-width="3" stroke-linejoin="round"/>
<polyline points="402.1,1198.2 402.4,1199.7 402.7,1202.1 403.0,1204.9 403.5,1207.9 403.9,1210.6 404.5,1212.8 405.0,1214.0 405.7,1214.0 406.4,1212.2 407.2,1208.8 408.0,1204.4 409.0,1199.5 409.9,1194.6 410.8,1190.1 411.7,1186.8 412.5,1185.0 413.1,1184.4 413.3,1184.4 413.3,1185.0 413.4,1186.4 413.7,1188.6 414.6,1191.6 416.1,1195.7 418.5,1200.8 422.2,1207.9 427.2,1217.2 433.0,1227.9 439.3,1239.3 445.5,1250.6 451.2,1261.0 455.9,1269.7 459.3,1275.9 460.8,1275.9 460.8,1198.2 460.8,1198.2 461.5,1197.5 462.3,1196.5 463.3,1195.3 464.5,1194.1 465.7,1192.9 467.0,1192.0 468.2,1191.5 469.4,1191.6 470.5,1192.0 471.3,1192.5 472.0,1193.2 472.8,1194.3 473.9,1195.9 475.2,1198.0 477.1,1201.0 479.6,1204.8 483.0,1210.0 487.5,1216.9 492.6,1224.8 497.9,1233.2 503.2,1241.5 508.1,1249.1 512.1,1255.5 515.0,1260.1 515.9,1260.1 515.9,1208.7 519.8,1204.8 519.8,1204.8 522.6,1211.7 525.5,1218.4 528.3,1224.8 531.1,1230.9 534.0,1236.8 536.8,1242.5 539.6,1247.8 542.5,1252.9 545.3,1257.7 548.1,1262.2 551.0,1266.4 553.8,1270.3 556.6,1273.8 559.4,1277.0 562.3,1279.9 565.1,1282.3 567.9,1284.4 570.8,1286.1 573.6,1287.2 576.4,1287.7 577.3,1287.7 577.3,1217.9 577.9,1217.9 581.0,1211.0 584.1,1203.7 587.2,1195.8 590.2,1187.4 593.3,1178.4 596.4,1168.7 599.5,1158.4 602.6,1147.4 605.6,1135.6 608.7,1123.0 611.8,1109.5 614.9,1095.0 618.0,1079.6 621.0,1063.1 624.1,1045.4" fill="none" stroke="#3f58ae" stroke-width="3" stroke-linejoin="round"/>
<polyline points="402.1,1204.8 402.4,1206.3 402.7,1208.7 403.0,1211.5 403.5,1214.6 403.9,1217.3 404.5,1219.5 405.0,1220.7 405.7,1220.6 406.4,1218.7 407.2,1215.1 408.0,1210.6 409.0,1205.4 409.9,1200.3 410.8,1195.7 411.7,1192.2 412.5,1190.3 413.1,1189.7 413.3,1189.7 413.3,1190.4 413.4,1191.8 413.7,1194.1 414.6,1197.2 416.1,1201.1 418.5,1206.1 422.2,1212.8 427.2,1221.6 433.0,1231.8 439.3,1242.6 445.5,1253.3 451.2,1263.1 455.9,1271.3 459.3,1277.2 460.8,1277.2 460.8,1204.8 460.8,1204.8 461.5,1204.1 462.3,1203.1 463.3,1201.9 464.5,1200.6 465.7,1199.5 467.0,1198.6 468.2,1198.1 469.4,1198.2 470.5,1198.6 471.3,1199.1 472.0,1199.8 472.8,1200.9 473.9,1202.4 475.2,1204.6 477.1,1207.5 479.6,1211.3 483.0,1216.6 487.5,1223.5 492.6,1231.4 497.9,1239.8 503.2,1248.1 508.1,1255.7 512.1,1262.1 515.0,1266.7 515.9,1266.7 515.9,1215.3 519.8,1211.3 519.8,1211.3 522.6,1218.3 525.5,1224.9 528.3,1231.4 531.1,1237.5 534.0,1243.4 536.8,1249.1 539.6,1254.4 542.5,1259.5 545.3,1264.3 548.1,1268.8 551.0,1273.0 553.8,1276.8 556.6,1280.4 559.4,1283.6 562.3,1286.5 565.1,1288.9 567.9,1291.0 570.8,1292.7 573.6,1293.8 576.4,1294.3 577.3,1294.3 577.3,1224.5 577.9,1224.5 581.1,1217.6 584.3,1210.2 587.5,1202.3 590.6,1193.8 593.8,1184.6 597.0,1174.7 600.2,1164.1 603.3,1152.8 606.5,1140.5 609.7,1127.4 612.9,1113.3 616.1,1098.1 619.2,1081.8 622.4,1064.2 625.6,1045.4" fill="none" stroke="#3f58ae" stroke-width="3" stroke-linejoin="round"/>
<polyline points="402.1,1215.3 402.4,1216.9 402.7,1219.4 403.0,1222.4 403.5,1225.5 403.9,1228.3 404.5,1230.5 405.0,1231.5 405.7,1231.1 406.4,1228.6 407.2,1224.3 408.0,1218.8 409.0,1212.7 409.9,1206.5 410.8,1201.0 411.7,1196.7 412.5,1194.2 413.1,1193.3 413.3,1193.2 413.3,1193.9 413.4,1195.5 413.7,1197.9 414.6,1201.1 416.1,1205.1 418.5,1210.0 422.2,1216.6 427.2,1225.2 433.0,1235.1 439.3,1245.6 445.5,1256.0 451.2,1265.5 455.9,1273.5 459.3,1279.2 460.8,1279.2 460.8,1208.7 460.8,1208.7 461.5,1208.2 462.3,1207.3 463.3,1206.3 464.5,1205.2 465.7,1204.3 467.0,1203.6 468.2,1203.3 469.4,1203.4 470.5,1204.0 471.3,1204.8 472.0,1205.8 472.8,1207.1 473.9,1208.8 475.2,1210.9 477.1,1213.5 479.6,1216.6 483.0,1220.7 487.5,1225.8 492.6,1231.7 497.9,1237.8 503.2,1243.9 508.1,1249.5 512.1,1254.1 515.0,1257.4 515.9,1257.4 515.9,1211.3 519.8,1207.4 519.8,1207.4 522.6,1214.3 525.5,1221.0 528.3,1227.4 531.1,1233.6 534.0,1239.5 536.8,1245.1 539.6,1250.5 542.5,1255.5 545.3,1260.3 548.1,1264.8 551.0,1269.0 553.8,1272.9 556.6,1276.4 559.4,1279.6 562.3,1282.5 565.1,1285.0 567.9,1287.1 570.8,1288.7 573.6,1289.9 576.4,1290.4 577.3,1290.4 577.3,1236.4 577.9,1236.4 581.2,1229.6 584.5,1222.2 587.8,1214.2 591.0,1205.6 594.3,1196.2 597.6,1186.0 600.9,1174.9 604.1,1163.0 607.4,1150.0 610.7,1135.9 614.0,1120.6 617.3,1104.0 620.5,1086.0 623.8,1066.5 627.1,1045.4" fill="none" stroke="#3f58ae" stroke-width="3" stroke-linejoin="round"/>
<line x1="402.1" y1="1053.3" x2="402.1" y2="1317.7" stroke="#111" stroke-width="2.2"/>
<line x1="392" y1="1316.7" x2="797.7" y2="1316.7" stroke="#111" stroke-width="2.2"/>
<line x1="392" y1="1316.7" x2="402.1" y2="1316.7" stroke="#111" stroke-width="2.2"/>
<line x1="392" y1="1250.9" x2="402.1" y2="1250.9" stroke="#111" stroke-width="2.2"/>
<line x1="392" y1="1185" x2="402.1" y2="1185" stroke="#111" stroke-width="2.2"/>
<line x1="392" y1="1119.2" x2="402.1" y2="1119.2" stroke="#111" stroke-width="2.2"/>
<line x1="392" y1="1053.3" x2="402.1" y2="1053.3" stroke="#111" stroke-width="2.2"/>
<line x1="402.1" y1="1316.7" x2="402.1" y2="1327" stroke="#111" stroke-width="2.2"/>
<text x="402.1" y="1358.8" font-size="32.5" text-anchor="middle" transform="translate(0 -67.9) scale(1 1.05)">0</text>
<line x1="461.7" y1="1316.7" x2="461.7" y2="1327" stroke="#111" stroke-width="2.2"/>
<text x="461.7" y="1358.8" font-size="32.5" text-anchor="middle" transform="translate(0 -67.9) scale(1 1.05)">2</text>
<line x1="521.3" y1="1316.7" x2="521.3" y2="1327" stroke="#111" stroke-width="2.2"/>
<text x="521.3" y="1358.8" font-size="32.5" text-anchor="middle" transform="translate(0 -67.9) scale(1 1.05)">4</text>
<line x1="580.9" y1="1316.7" x2="580.9" y2="1327" stroke="#111" stroke-width="2.2"/>
<text x="580.9" y="1358.8" font-size="32.5" text-anchor="middle" transform="translate(0 -67.9) scale(1 1.05)">6</text>
<line x1="640.5" y1="1316.7" x2="640.5" y2="1327" stroke="#111" stroke-width="2.2"/>
<text x="640.5" y="1358.8" font-size="32.5" text-anchor="middle" transform="translate(0 -67.9) scale(1 1.05)">8</text>
<line x1="700.1" y1="1316.7" x2="700.1" y2="1327" stroke="#111" stroke-width="2.2"/>
<text x="700.1" y="1358.8" font-size="32.5" text-anchor="middle" transform="translate(0 -67.9) scale(1 1.05)">10</text>
<line x1="759.7" y1="1316.7" x2="759.7" y2="1327" stroke="#111" stroke-width="2.2"/>
<text x="759.7" y="1358.8" font-size="32.5" text-anchor="middle" transform="translate(0 -67.9) scale(1 1.05)">12</text>
<text x="566.7" y="1028.9" font-size="33" text-anchor="middle" transform="translate(0 -51.4) scale(1 1.05)">CD8</text>
<text x="591.7" y="1402.2" font-size="32.5" text-anchor="middle" transform="translate(0 -70.1) scale(1 1.05)">Days</text>
<line x1="337" y1="1443.8" x2="365.3" y2="1443.8" stroke="#3f58ae" stroke-width="3.2"/>
<line x1="337" y1="1484.7" x2="365.3" y2="1484.7" stroke="#e62226" stroke-width="3.2"/>
<text x="379.5" y="1455.2" font-size="32" transform="translate(0 -72.8) scale(1 1.05)">19-HIT</text>
<text x="379.5" y="1495.9" font-size="32" transform="translate(0 -74.8) scale(1 1.05)">19-HIT</text>
<text x="477" y="1486.4" font-size="19.5" transform="translate(0 -74.3) scale(1 1.05)">80BB</text>
<text x="865.5" y="961" font-size="38.5" font-weight="bold" transform="translate(0 -48.1) scale(1 1.05)">g</text>
<polygon points="901.0,1194.2 901.0,1194.2 902.5,1194.2 904.0,1194.2 905.5,1194.2 907.0,1194.2 908.5,1194.2 910.0,1194.2 911.5,1194.2 913.0,1194.2 914.5,1194.2 916.0,1194.2 917.5,1194.2 919.0,1194.2 920.5,1194.1 922.0,1194.1 923.5,1193.9 925.0,1193.6 926.5,1193.0 928.0,1192.0 929.5,1190.2 931.0,1187.3 932.5,1182.8 934.0,1176.1 935.5,1164.4 937.0,1152.1 938.5,1137.7 940.0,1118.6 941.5,1093.9 943.0,1069.7 944.5,1042.3 946.0,1022.4 947.5,1002.8 949.0,990.0 950.5,983.5 952.0,989.0 953.5,999.5 955.0,1011.0 956.5,1030.5 958.0,1053.9 959.5,1072.0 961.0,1093.4 962.5,1114.8 964.1,1132.2 965.6,1151.1 967.1,1160.8 968.6,1171.8 970.1,1179.0 971.6,1184.2 973.1,1187.9 974.6,1190.3 976.1,1191.9 977.6,1192.8 979.1,1193.4 980.6,1193.8 982.1,1194.0 983.6,1194.1 985.1,1194.1 986.6,1194.2 988.1,1194.2 989.6,1194.2 991.1,1194.2 992.6,1194.2 994.1,1194.2 995.6,1194.2 997.1,1194.2 998.6,1194.2 1000.1,1194.2 1001.6,1194.2 1003.1,1194.2 1004.6,1194.2 1006.1,1194.2 1007.6,1194.2 1009.1,1194.2 1010.6,1194.2 1012.1,1194.2 1013.6,1194.2 1015.1,1194.2 1016.6,1194.2 1018.1,1194.2 1019.6,1194.2 1021.1,1194.2 1022.6,1194.2 1024.1,1194.2 1025.6,1194.2 1027.1,1194.2 1028.6,1194.2 1030.1,1194.2 1031.6,1194.2 1033.1,1194.2 1034.6,1194.2 1036.1,1194.2 1037.6,1194.2 1039.1,1194.2 1040.6,1194.2 1042.1,1194.2 1043.6,1194.2 1045.1,1194.2 1046.6,1194.2 1048.1,1194.2 1049.6,1194.2 1051.1,1194.2 1052.6,1194.2 1054.1,1194.2 1055.6,1194.2 1057.1,1194.2 1058.6,1194.2 1060.1,1194.2 1061.6,1194.2 1063.1,1194.2 1064.6,1194.2 1066.1,1194.2 1067.6,1194.2 1069.1,1194.2 1070.6,1194.2 1072.1,1194.2 1073.6,1194.2 1075.1,1194.2 1076.6,1194.2 1078.1,1194.2 1079.6,1194.2 1081.1,1194.2 1082.6,1194.2 1084.1,1194.2 1085.6,1194.2 1087.2,1194.2 1088.7,1194.2 1090.2,1194.2 1091.7,1194.2 1093.2,1194.2 1094.7,1194.2 1096.2,1194.2 1097.7,1194.2 1099.2,1194.2 1100.7,1194.2 1102.2,1194.2 1103.7,1194.2 1105.2,1194.2 1106.7,1194.2 1108.2,1194.2 1109.7,1194.2 1111.2,1194.2 1112.7,1194.2 1114.2,1194.2 1115.7,1194.2 1117.2,1194.2 1118.7,1194.2 1120.2,1194.2 1121.7,1194.2 1123.2,1194.2 1124.7,1194.2 1126.2,1194.2 1127.7,1194.2 1129.2,1194.2 1130.7,1194.2 1132.2,1194.2 1133.7,1194.2 1135.2,1194.2 1136.7,1194.2 1138.2,1194.2 1139.7,1194.2 1141.2,1194.2 1142.7,1194.2 1144.2,1194.2 1145.7,1194.2 1147.2,1194.2 1148.7,1194.2 1148.7,1194.2 1148.7,1194.2" fill="#a7cba8" stroke="none" stroke-width="0" stroke-linejoin="round"/>
<polyline points="901.0,1194.2 901.0,1194.2 902.5,1194.2 904.0,1194.2 905.5,1194.2 907.0,1194.2 908.5,1194.2 910.0,1194.2 911.5,1194.2 913.0,1194.2 914.5,1194.2 916.0,1194.2 917.5,1194.2 919.0,1194.2 920.5,1194.1 922.0,1194.1 923.5,1193.9 925.0,1193.6 926.5,1193.0 928.0,1192.0 929.5,1190.2 931.0,1187.3 932.5,1182.8 934.0,1176.1 935.5,1164.4 937.0,1152.1 938.5,1137.7 940.0,1118.6 941.5,1093.9 943.0,1069.7 944.5,1042.3 946.0,1022.4 947.5,1002.8 949.0,990.0 950.5,983.5 952.0,989.0 953.5,999.5 955.0,1011.0 956.5,1030.5 958.0,1053.9 959.5,1072.0 961.0,1093.4 962.5,1114.8 964.1,1132.2 965.6,1151.1 967.1,1160.8 968.6,1171.8 970.1,1179.0 971.6,1184.2 973.1,1187.9 974.6,1190.3 976.1,1191.9 977.6,1192.8 979.1,1193.4 980.6,1193.8 982.1,1194.0 983.6,1194.1 985.1,1194.1 986.6,1194.2 988.1,1194.2 989.6,1194.2 991.1,1194.2 992.6,1194.2 994.1,1194.2 995.6,1194.2 997.1,1194.2 998.6,1194.2 1000.1,1194.2 1001.6,1194.2 1003.1,1194.2 1004.6,1194.2 1006.1,1194.2 1007.6,1194.2 1009.1,1194.2 1010.6,1194.2 1012.1,1194.2 1013.6,1194.2 1015.1,1194.2 1016.6,1194.2 1018.1,1194.2 1019.6,1194.2 1021.1,1194.2 1022.6,1194.2 1024.1,1194.2 1025.6,1194.2 1027.1,1194.2 1028.6,1194.2 1030.1,1194.2 1031.6,1194.2 1033.1,1194.2 1034.6,1194.2 1036.1,1194.2 1037.6,1194.2 1039.1,1194.2 1040.6,1194.2 1042.1,1194.2 1043.6,1194.2 1045.1,1194.2 1046.6,1194.2 1048.1,1194.2 1049.6,1194.2 1051.1,1194.2 1052.6,1194.2 1054.1,1194.2 1055.6,1194.2 1057.1,1194.2 1058.6,1194.2 1060.1,1194.2 1061.6,1194.2 1063.1,1194.2 1064.6,1194.2 1066.1,1194.2 1067.6,1194.2 1069.1,1194.2 1070.6,1194.2 1072.1,1194.2 1073.6,1194.2 1075.1,1194.2 1076.6,1194.2 1078.1,1194.2 1079.6,1194.2 1081.1,1194.2 1082.6,1194.2 1084.1,1194.2 1085.6,1194.2 1087.2,1194.2 1088.7,1194.2 1090.2,1194.2 1091.7,1194.2 1093.2,1194.2 1094.7,1194.2 1096.2,1194.2 1097.7,1194.2 1099.2,1194.2 1100.7,1194.2 1102.2,1194.2 1103.7,1194.2 1105.2,1194.2 1106.7,1194.2 1108.2,1194.2 1109.7,1194.2 1111.2,1194.2 1112.7,1194.2 1114.2,1194.2 1115.7,1194.2 1117.2,1194.2 1118.7,1194.2 1120.2,1194.2 1121.7,1194.2 1123.2,1194.2 1124.7,1194.2 1126.2,1194.2 1127.7,1194.2 1129.2,1194.2 1130.7,1194.2 1132.2,1194.2 1133.7,1194.2 1135.2,1194.2 1136.7,1194.2 1138.2,1194.2 1139.7,1194.2 1141.2,1194.2 1142.7,1194.2 1144.2,1194.2 1145.7,1194.2 1147.2,1194.2 1148.7,1194.2 1148.7,1194.2" fill="none" stroke="#1f9a4c" stroke-width="3.5" stroke-linejoin="round"/>
<polygon points="901.0,1424.0 901.0,1424.0 902.5,1424.0 904.0,1424.0 905.5,1424.0 907.0,1424.0 908.5,1424.0 910.0,1424.0 911.5,1424.0 913.0,1424.0 914.5,1424.0 916.0,1424.0 917.5,1424.0 919.0,1423.9 920.5,1423.9 922.0,1423.7 923.5,1423.5 925.0,1423.0 926.5,1422.2 928.0,1420.9 929.5,1418.6 931.0,1415.1 932.5,1409.9 934.0,1402.4 935.5,1391.6 937.0,1379.0 938.5,1361.1 940.0,1343.3 941.5,1316.9 943.0,1292.9 944.5,1270.4 946.0,1252.0 947.5,1232.6 949.0,1222.6 950.5,1219.0 952.0,1217.7 953.5,1226.9 955.0,1247.8 956.5,1261.9 958.0,1285.2 959.5,1309.2 961.0,1331.8 962.5,1349.6 964.1,1368.7 965.6,1382.1 967.1,1394.0 968.6,1404.1 970.1,1410.8 971.6,1415.5 973.1,1418.7 974.6,1420.8 976.1,1422.1 977.6,1422.9 979.1,1423.4 980.6,1423.7 982.1,1423.8 983.6,1423.9 985.1,1424.0 986.6,1424.0 988.1,1424.0 989.6,1424.0 991.1,1424.0 992.6,1424.0 994.1,1424.0 995.6,1424.0 997.1,1424.0 998.6,1424.0 1000.1,1424.0 1001.6,1424.0 1003.1,1424.0 1004.6,1424.0 1006.1,1424.0 1007.6,1424.0 1009.1,1424.0 1010.6,1424.0 1012.1,1424.0 1013.6,1424.0 1015.1,1424.0 1016.6,1424.0 1018.1,1424.0 1019.6,1424.0 1021.1,1424.0 1022.6,1424.0 1024.1,1424.0 1025.6,1424.0 1027.1,1424.0 1028.6,1424.0 1030.1,1424.0 1031.6,1424.0 1033.1,1424.0 1034.6,1424.0 1036.1,1424.0 1037.6,1424.0 1039.1,1424.0 1040.6,1424.0 1042.1,1424.0 1043.6,1424.0 1045.1,1424.0 1046.6,1424.0 1048.1,1424.0 1049.6,1424.0 1051.1,1424.0 1052.6,1424.0 1054.1,1424.0 1055.6,1424.0 1057.1,1424.0 1058.6,1424.0 1060.1,1424.0 1061.6,1424.0 1063.1,1424.0 1064.6,1424.0 1066.1,1424.0 1067.6,1424.0 1069.1,1424.0 1070.6,1424.0 1072.1,1424.0 1073.6,1424.0 1075.1,1424.0 1076.6,1424.0 1078.1,1424.0 1079.6,1424.0 1081.1,1424.0 1082.6,1424.0 1084.1,1424.0 1085.6,1424.0 1087.2,1424.0 1088.7,1424.0 1090.2,1424.0 1091.7,1424.0 1093.2,1424.0 1094.7,1424.0 1096.2,1424.0 1097.7,1424.0 1099.2,1424.0 1100.7,1424.0 1102.2,1424.0 1103.7,1424.0 1105.2,1424.0 1106.7,1424.0 1108.2,1424.0 1109.7,1424.0 1111.2,1424.0 1112.7,1424.0 1114.2,1424.0 1115.7,1424.0 1117.2,1424.0 1118.7,1424.0 1120.2,1424.0 1121.7,1424.0 1123.2,1424.0 1124.7,1424.0 1126.2,1424.0 1127.7,1424.0 1129.2,1424.0 1130.7,1424.0 1132.2,1424.0 1133.7,1424.0 1135.2,1424.0 1136.7,1424.0 1138.2,1424.0 1139.7,1424.0 1141.2,1424.0 1142.7,1424.0 1144.2,1424.0 1145.7,1424.0 1147.2,1424.0 1148.7,1424.0 1148.7,1424.0 1148.7,1424.0" fill="#9da1a4" stroke="none" stroke-width="0" stroke-linejoin="round"/>
<polyline points="901.0,1424.0 901.0,1424.0 902.5,1424.0 904.0,1424.0 905.5,1424.0 907.0,1424.0 908.5,1424.0 910.0,1424.0 911.5,1424.0 913.0,1424.0 914.5,1424.0 916.0,1424.0 917.5,1424.0 919.0,1423.9 920.5,1423.9 922.0,1423.7 923.5,1423.5 925.0,1423.0 926.5,1422.2 928.0,1420.9 929.5,1418.6 931.0,1415.1 932.5,1409.9 934.0,1402.4 935.5,1391.6 937.0,1379.0 938.5,1361.1 940.0,1343.3 941.5,1316.9 943.0,1292.9 944.5,1270.4 946.0,1252.0 947.5,1232.6 949.0,1222.6 950.5,1219.0 952.0,1217.7 953.5,1226.9 955.0,1247.8 956.5,1261.9 958.0,1285.2 959.5,1309.2 961.0,1331.8 962.5,1349.6 964.1,1368.7 965.6,1382.1 967.1,1394.0 968.6,1404.1 970.1,1410.8 971.6,1415.5 973.1,1418.7 974.6,1420.8 976.1,1422.1 977.6,1422.9 979.1,1423.4 980.6,1423.7 982.1,1423.8 983.6,1423.9 985.1,1424.0 986.6,1424.0 988.1,1424.0 989.6,1424.0 991.1,1424.0 992.6,1424.0 994.1,1424.0 995.6,1424.0 997.1,1424.0 998.6,1424.0 1000.1,1424.0 1001.6,1424.0 1003.1,1424.0 1004.6,1424.0 1006.1,1424.0 1007.6,1424.0 1009.1,1424.0 1010.6,1424.0 1012.1,1424.0 1013.6,1424.0 1015.1,1424.0 1016.6,1424.0 1018.1,1424.0 1019.6,1424.0 1021.1,1424.0 1022.6,1424.0 1024.1,1424.0 1025.6,1424.0 1027.1,1424.0 1028.6,1424.0 1030.1,1424.0 1031.6,1424.0 1033.1,1424.0 1034.6,1424.0 1036.1,1424.0 1037.6,1424.0 1039.1,1424.0 1040.6,1424.0 1042.1,1424.0 1043.6,1424.0 1045.1,1424.0 1046.6,1424.0 1048.1,1424.0 1049.6,1424.0 1051.1,1424.0 1052.6,1424.0 1054.1,1424.0 1055.6,1424.0 1057.1,1424.0 1058.6,1424.0 1060.1,1424.0 1061.6,1424.0 1063.1,1424.0 1064.6,1424.0 1066.1,1424.0 1067.6,1424.0 1069.1,1424.0 1070.6,1424.0 1072.1,1424.0 1073.6,1424.0 1075.1,1424.0 1076.6,1424.0 1078.1,1424.0 1079.6,1424.0 1081.1,1424.0 1082.6,1424.0 1084.1,1424.0 1085.6,1424.0 1087.2,1424.0 1088.7,1424.0 1090.2,1424.0 1091.7,1424.0 1093.2,1424.0 1094.7,1424.0 1096.2,1424.0 1097.7,1424.0 1099.2,1424.0 1100.7,1424.0 1102.2,1424.0 1103.7,1424.0 1105.2,1424.0 1106.7,1424.0 1108.2,1424.0 1109.7,1424.0 1111.2,1424.0 1112.7,1424.0 1114.2,1424.0 1115.7,1424.0 1117.2,1424.0 1118.7,1424.0 1120.2,1424.0 1121.7,1424.0 1123.2,1424.0 1124.7,1424.0 1126.2,1424.0 1127.7,1424.0 1129.2,1424.0 1130.7,1424.0 1132.2,1424.0 1133.7,1424.0 1135.2,1424.0 1136.7,1424.0 1138.2,1424.0 1139.7,1424.0 1141.2,1424.0 1142.7,1424.0 1144.2,1424.0 1145.7,1424.0 1147.2,1424.0 1148.7,1424.0 1148.7,1424.0" fill="none" stroke="#111" stroke-width="3.5" stroke-linejoin="round"/>
<polygon points="1151.7,1194.2 1151.7,1194.2 1168.8,1194.2 1178.8,1182.2 1187.6,1154.7 1193.2,1132.1 1199.5,1116.0 1202.6,1106.0 1204.5,1082.0 1208.9,1061.9 1212.7,1047.9 1215.2,1035.9 1216.4,1009.8 1218.5,1003.8 1220.8,993.8 1222.5,1001.8 1225.2,1007.8 1228.9,1027.9 1231.5,1041.9 1234.0,1065.9 1237.7,1098.0 1241.5,1128.1 1246.5,1150.1 1252.8,1166.1 1259.0,1174.2 1265.3,1184.2 1271.6,1192.2 1276.0,1194.2 1399.0,1194.2 1399.0,1194.2 1399.0,1194.2" fill="#a7cba8" stroke="none" stroke-width="0" stroke-linejoin="round"/>
<polyline points="1151.7,1194.2 1151.7,1194.2 1168.8,1194.2 1178.8,1182.2 1187.6,1154.7 1193.2,1132.1 1199.5,1116.0 1202.6,1106.0 1204.5,1082.0 1208.9,1061.9 1212.7,1047.9 1215.2,1035.9 1216.4,1009.8 1218.5,1003.8 1220.8,993.8 1222.5,1001.8 1225.2,1007.8 1228.9,1027.9 1231.5,1041.9 1234.0,1065.9 1237.7,1098.0 1241.5,1128.1 1246.5,1150.1 1252.8,1166.1 1259.0,1174.2 1265.3,1184.2 1271.6,1192.2 1276.0,1194.2 1399.0,1194.2 1399.0,1194.2" fill="none" stroke="#1f9a4c" stroke-width="3.5" stroke-linejoin="round"/>
<polygon points="1151.7,1424.0 1151.7,1424.0 1166.0,1424.0 1174.5,1418.0 1183.1,1401.9 1190.5,1377.8 1195.4,1355.7 1199.1,1343.7 1204.0,1316.6 1207.7,1303.5 1210.1,1279.4 1212.6,1264.4 1216.3,1243.3 1221.2,1229.2 1223.0,1231.2 1225.5,1223.2 1228.6,1237.3 1232.2,1270.4 1235.9,1298.3 1238.4,1328.6 1242.1,1359.7 1247.0,1377.8 1251.9,1394.3 1260.5,1407.5 1266.6,1418.0 1272.7,1424.0 1278.0,1424.0 1399.0,1424.0 1399.0,1424.0 1399.0,1424.0" fill="#9da1a4" stroke="none" stroke-width="0" stroke-linejoin="round"/>
<polyline points="1151.7,1424.0 1151.7,1424.0 1166.0,1424.0 1174.5,1418.0 1183.1,1401.9 1190.5,1377.8 1195.4,1355.7 1199.1,1343.7 1204.0,1316.6 1207.7,1303.5 1210.1,1279.4 1212.6,1264.4 1216.3,1243.3 1221.2,1229.2 1223.0,1231.2 1225.5,1223.2 1228.6,1237.3 1232.2,1270.4 1235.9,1298.3 1238.4,1328.6 1242.1,1359.7 1247.0,1377.8 1251.9,1394.3 1260.5,1407.5 1266.6,1418.0 1272.7,1424.0 1278.0,1424.0 1399.0,1424.0 1399.0,1424.0" fill="none" stroke="#111" stroke-width="3.5" stroke-linejoin="round"/>
<polygon points="1402.0,1194.2 1402.0,1194.2 1403.5,1194.2 1405.0,1194.2 1406.5,1194.2 1408.0,1194.2 1409.5,1194.2 1411.0,1194.2 1412.5,1194.2 1414.0,1194.2 1415.5,1194.2 1417.0,1194.1 1418.5,1194.1 1420.0,1194.0 1421.5,1193.9 1423.0,1193.7 1424.5,1193.5 1426.0,1193.1 1427.6,1192.5 1429.1,1191.8 1430.6,1190.7 1432.1,1189.2 1433.6,1187.2 1435.1,1184.6 1436.6,1181.2 1438.1,1176.9 1439.6,1171.4 1441.1,1161.9 1442.6,1153.9 1444.1,1150.1 1445.6,1139.0 1447.1,1121.9 1448.6,1108.9 1450.1,1094.5 1451.6,1081.2 1453.1,1063.4 1454.6,1047.5 1456.1,1032.3 1457.6,1020.9 1459.1,1006.8 1460.6,996.9 1462.1,987.4 1463.6,981.3 1465.1,980.4 1466.6,985.1 1468.1,991.1 1469.6,1000.5 1471.1,1012.8 1472.6,1025.9 1474.1,1037.6 1475.6,1054.1 1477.2,1069.7 1478.7,1082.3 1480.2,1100.0 1481.7,1114.3 1483.2,1129.6 1484.7,1142.9 1486.2,1151.5 1487.7,1161.7 1489.2,1166.9 1490.7,1173.2 1492.2,1178.3 1493.7,1182.3 1495.2,1185.5 1496.7,1187.9 1498.2,1189.7 1499.7,1191.1 1501.2,1192.0 1502.7,1192.7 1504.2,1193.2 1505.7,1193.6 1507.2,1193.8 1508.7,1193.9 1510.2,1194.0 1511.7,1194.1 1513.2,1194.1 1514.7,1194.2 1516.2,1194.2 1517.7,1194.2 1519.2,1194.2 1520.7,1194.2 1522.2,1194.2 1523.7,1194.2 1525.2,1194.2 1526.8,1194.2 1528.3,1194.2 1529.8,1194.2 1531.3,1194.2 1532.8,1194.2 1534.3,1194.2 1535.8,1194.2 1537.3,1194.2 1538.8,1194.2 1540.3,1194.2 1541.8,1194.2 1543.3,1194.2 1544.8,1194.2 1546.3,1194.2 1547.8,1194.2 1549.3,1194.2 1550.8,1194.2 1552.3,1194.2 1553.8,1194.2 1555.3,1194.2 1556.8,1194.2 1558.3,1194.2 1559.8,1194.2 1561.3,1194.2 1562.8,1194.2 1564.3,1194.2 1565.8,1194.2 1567.3,1194.2 1568.8,1194.2 1570.3,1194.2 1571.8,1194.2 1573.3,1194.2 1574.9,1194.2 1576.4,1194.2 1577.9,1194.2 1579.4,1194.2 1580.9,1194.2 1582.4,1194.2 1583.9,1194.2 1585.4,1194.2 1586.9,1194.2 1588.4,1194.2 1589.9,1194.2 1591.4,1194.2 1592.9,1194.2 1594.4,1194.2 1595.9,1194.2 1597.4,1194.2 1598.9,1194.2 1600.4,1194.2 1601.9,1194.2 1603.4,1194.2 1604.9,1194.2 1606.4,1194.2 1607.9,1194.2 1609.4,1194.2 1610.9,1194.2 1612.4,1194.2 1613.9,1194.2 1615.4,1194.2 1616.9,1194.2 1618.4,1194.2 1619.9,1194.2 1621.4,1194.2 1622.9,1194.2 1624.5,1194.2 1626.0,1194.2 1627.5,1194.2 1629.0,1194.2 1630.5,1194.2 1632.0,1194.2 1633.5,1194.2 1635.0,1194.2 1636.5,1194.2 1638.0,1194.2 1639.5,1194.2 1641.0,1194.2 1642.5,1194.2 1644.0,1194.2 1645.5,1194.2 1647.0,1194.2 1648.5,1194.2 1648.5,1194.2 1648.5,1194.2" fill="#a7cba8" stroke="none" stroke-width="0" stroke-linejoin="round"/>
<polyline points="1402.0,1194.2 1402.0,1194.2 1403.5,1194.2 1405.0,1194.2 1406.5,1194.2 1408.0,1194.2 1409.5,1194.2 1411.0,1194.2 1412.5,1194.2 1414.0,1194.2 1415.5,1194.2 1417.0,1194.1 1418.5,1194.1 1420.0,1194.0 1421.5,1193.9 1423.0,1193.7 1424.5,1193.5 1426.0,1193.1 1427.6,1192.5 1429.1,1191.8 1430.6,1190.7 1432.1,1189.2 1433.6,1187.2 1435.1,1184.6 1436.6,1181.2 1438.1,1176.9 1439.6,1171.4 1441.1,1161.9 1442.6,1153.9 1444.1,1150.1 1445.6,1139.0 1447.1,1121.9 1448.6,1108.9 1450.1,1094.5 1451.6,1081.2 1453.1,1063.4 1454.6,1047.5 1456.1,1032.3 1457.6,1020.9 1459.1,1006.8 1460.6,996.9 1462.1,987.4 1463.6,981.3 1465.1,980.4 1466.6,985.1 1468.1,991.1 1469.6,1000.5 1471.1,1012.8 1472.6,1025.9 1474.1,1037.6 1475.6,1054.1 1477.2,1069.7 1478.7,1082.3 1480.2,1100.0 1481.7,1114.3 1483.2,1129.6 1484.7,1142.9 1486.2,1151.5 1487.7,1161.7 1489.2,1166.9 1490.7,1173.2 1492.2,1178.3 1493.7,1182.3 1495.2,1185.5 1496.7,1187.9 1498.2,1189.7 1499.7,1191.1 1501.2,1192.0 1502.7,1192.7 1504.2,1193.2 1505.7,1193.6 1507.2,1193.8 1508.7,1193.9 1510.2,1194.0 1511.7,1194.1 1513.2,1194.1 1514.7,1194.2 1516.2,1194.2 1517.7,1194.2 1519.2,1194.2 1520.7,1194.2 1522.2,1194.2 1523.7,1194.2 1525.2,1194.2 1526.8,1194.2 1528.3,1194.2 1529.8,1194.2 1531.3,1194.2 1532.8,1194.2 1534.3,1194.2 1535.8,1194.2 1537.3,1194.2 1538.8,1194.2 1540.3,1194.2 1541.8,1194.2 1543.3,1194.2 1544.8,1194.2 1546.3,1194.2 1547.8,1194.2 1549.3,1194.2 1550.8,1194.2 1552.3,1194.2 1553.8,1194.2 1555.3,1194.2 1556.8,1194.2 1558.3,1194.2 1559.8,1194.2 1561.3,1194.2 1562.8,1194.2 1564.3,1194.2 1565.8,1194.2 1567.3,1194.2 1568.8,1194.2 1570.3,1194.2 1571.8,1194.2 1573.3,1194.2 1574.9,1194.2 1576.4,1194.2 1577.9,1194.2 1579.4,1194.2 1580.9,1194.2 1582.4,1194.2 1583.9,1194.2 1585.4,1194.2 1586.9,1194.2 1588.4,1194.2 1589.9,1194.2 1591.4,1194.2 1592.9,1194.2 1594.4,1194.2 1595.9,1194.2 1597.4,1194.2 1598.9,1194.2 1600.4,1194.2 1601.9,1194.2 1603.4,1194.2 1604.9,1194.2 1606.4,1194.2 1607.9,1194.2 1609.4,1194.2 1610.9,1194.2 1612.4,1194.2 1613.9,1194.2 1615.4,1194.2 1616.9,1194.2 1618.4,1194.2 1619.9,1194.2 1621.4,1194.2 1622.9,1194.2 1624.5,1194.2 1626.0,1194.2 1627.5,1194.2 1629.0,1194.2 1630.5,1194.2 1632.0,1194.2 1633.5,1194.2 1635.0,1194.2 1636.5,1194.2 1638.0,1194.2 1639.5,1194.2 1641.0,1194.2 1642.5,1194.2 1644.0,1194.2 1645.5,1194.2 1647.0,1194.2 1648.5,1194.2 1648.5,1194.2" fill="none" stroke="#1f9a4c" stroke-width="3.5" stroke-linejoin="round"/>
<polygon points="1402.0,1424.0 1402.0,1424.0 1403.5,1424.0 1405.0,1424.0 1406.5,1424.0 1408.0,1424.0 1409.5,1424.0 1411.0,1423.9 1412.5,1423.9 1414.0,1423.8 1415.5,1423.7 1417.0,1423.6 1418.5,1423.4 1420.0,1423.1 1421.5,1422.7 1423.0,1422.1 1424.5,1421.3 1426.0,1420.3 1427.6,1418.9 1429.1,1417.0 1430.6,1414.6 1432.1,1411.6 1433.6,1407.7 1435.1,1403.0 1436.6,1397.5 1438.1,1389.5 1439.6,1381.5 1441.1,1375.5 1442.6,1365.9 1444.1,1352.0 1445.6,1339.9 1447.1,1323.0 1448.6,1309.6 1450.1,1295.6 1451.6,1281.4 1453.1,1266.8 1454.6,1256.9 1456.1,1243.3 1457.6,1235.1 1459.1,1222.6 1460.6,1222.4 1462.1,1214.9 1463.6,1219.5 1465.1,1218.6 1466.6,1226.6 1468.1,1234.5 1469.6,1242.4 1471.1,1260.0 1472.6,1273.6 1474.1,1283.0 1475.6,1300.6 1477.2,1318.2 1478.7,1327.2 1480.2,1341.2 1481.7,1359.1 1483.2,1368.7 1484.7,1380.7 1486.2,1388.5 1487.7,1394.1 1489.2,1401.2 1490.7,1406.4 1492.2,1410.7 1493.7,1414.0 1495.2,1416.6 1496.7,1418.6 1498.2,1420.1 1499.7,1421.3 1501.2,1422.1 1502.7,1422.7 1504.2,1423.1 1505.7,1423.4 1507.2,1423.6 1508.7,1423.7 1510.2,1423.8 1511.7,1423.9 1513.2,1423.9 1514.7,1424.0 1516.2,1424.0 1517.7,1424.0 1519.2,1424.0 1520.7,1424.0 1522.2,1424.0 1523.7,1424.0 1525.2,1424.0 1526.8,1424.0 1528.3,1424.0 1529.8,1424.0 1531.3,1424.0 1532.8,1424.0 1534.3,1424.0 1535.8,1424.0 1537.3,1424.0 1538.8,1424.0 1540.3,1424.0 1541.8,1424.0 1543.3,1424.0 1544.8,1424.0 1546.3,1424.0 1547.8,1424.0 1549.3,1424.0 1550.8,1424.0 1552.3,1424.0 1553.8,1424.0 1555.3,1424.0 1556.8,1424.0 1558.3,1424.0 1559.8,1424.0 1561.3,1424.0 1562.8,1424.0 1564.3,1424.0 1565.8,1424.0 1567.3,1424.0 1568.8,1424.0 1570.3,1424.0 1571.8,1424.0 1573.3,1424.0 1574.9,1424.0 1576.4,1424.0 1577.9,1424.0 1579.4,1424.0 1580.9,1424.0 1582.4,1424.0 1583.9,1424.0 1585.4,1424.0 1586.9,1424.0 1588.4,1424.0 1589.9,1424.0 1591.4,1424.0 1592.9,1424.0 1594.4,1424.0 1595.9,1424.0 1597.4,1424.0 1598.9,1424.0 1600.4,1424.0 1601.9,1424.0 1603.4,1424.0 1604.9,1424.0 1606.4,1424.0 1607.9,1424.0 1609.4,1424.0 1610.9,1424.0 1612.4,1424.0 1613.9,1424.0 1615.4,1424.0 1616.9,1424.0 1618.4,1424.0 1619.9,1424.0 1621.4,1424.0 1622.9,1424.0 1624.5,1424.0 1626.0,1424.0 1627.5,1424.0 1629.0,1424.0 1630.5,1424.0 1632.0,1424.0 1633.5,1424.0 1635.0,1424.0 1636.5,1424.0 1638.0,1424.0 1639.5,1424.0 1641.0,1424.0 1642.5,1424.0 1644.0,1424.0 1645.5,1424.0 1647.0,1424.0 1648.5,1424.0 1648.5,1424.0 1648.5,1424.0" fill="#9da1a4" stroke="none" stroke-width="0" stroke-linejoin="round"/>
<polyline points="1402.0,1424.0 1402.0,1424.0 1403.5,1424.0 1405.0,1424.0 1406.5,1424.0 1408.0,1424.0 1409.5,1424.0 1411.0,1423.9 1412.5,1423.9 1414.0,1423.8 1415.5,1423.7 1417.0,1423.6 1418.5,1423.4 1420.0,1423.1 1421.5,1422.7 1423.0,1422.1 1424.5,1421.3 1426.0,1420.3 1427.6,1418.9 1429.1,1417.0 1430.6,1414.6 1432.1,1411.6 1433.6,1407.7 1435.1,1403.0 1436.6,1397.5 1438.1,1389.5 1439.6,1381.5 1441.1,1375.5 1442.6,1365.9 1444.1,1352.0 1445.6,1339.9 1447.1,1323.0 1448.6,1309.6 1450.1,1295.6 1451.6,1281.4 1453.1,1266.8 1454.6,1256.9 1456.1,1243.3 1457.6,1235.1 1459.1,1222.6 1460.6,1222.4 1462.1,1214.9 1463.6,1219.5 1465.1,1218.6 1466.6,1226.6 1468.1,1234.5 1469.6,1242.4 1471.1,1260.0 1472.6,1273.6 1474.1,1283.0 1475.6,1300.6 1477.2,1318.2 1478.7,1327.2 1480.2,1341.2 1481.7,1359.1 1483.2,1368.7 1484.7,1380.7 1486.2,1388.5 1487.7,1394.1 1489.2,1401.2 1490.7,1406.4 1492.2,1410.7 1493.7,1414.0 1495.2,1416.6 1496.7,1418.6 1498.2,1420.1 1499.7,1421.3 1501.2,1422.1 1502.7,1422.7 1504.2,1423.1 1505.7,1423.4 1507.2,1423.6 1508.7,1423.7 1510.2,1423.8 1511.7,1423.9 1513.2,1423.9 1514.7,1424.0 1516.2,1424.0 1517.7,1424.0 1519.2,1424.0 1520.7,1424.0 1522.2,1424.0 1523.7,1424.0 1525.2,1424.0 1526.8,1424.0 1528.3,1424.0 1529.8,1424.0 1531.3,1424.0 1532.8,1424.0 1534.3,1424.0 1535.8,1424.0 1537.3,1424.0 1538.8,1424.0 1540.3,1424.0 1541.8,1424.0 1543.3,1424.0 1544.8,1424.0 1546.3,1424.0 1547.8,1424.0 1549.3,1424.0 1550.8,1424.0 1552.3,1424.0 1553.8,1424.0 1555.3,1424.0 1556.8,1424.0 1558.3,1424.0 1559.8,1424.0 1561.3,1424.0 1562.8,1424.0 1564.3,1424.0 1565.8,1424.0 1567.3,1424.0 1568.8,1424.0 1570.3,1424.0 1571.8,1424.0 1573.3,1424.0 1574.9,1424.0 1576.4,1424.0 1577.9,1424.0 1579.4,1424.0 1580.9,1424.0 1582.4,1424.0 1583.9,1424.0 1585.4,1424.0 1586.9,1424.0 1588.4,1424.0 1589.9,1424.0 1591.4,1424.0 1592.9,1424.0 1594.4,1424.0 1595.9,1424.0 1597.4,1424.0 1598.9,1424.0 1600.4,1424.0 1601.9,1424.0 1603.4,1424.0 1604.9,1424.0 1606.4,1424.0 1607.9,1424.0 1609.4,1424.0 1610.9,1424.0 1612.4,1424.0 1613.9,1424.0 1615.4,1424.0 1616.9,1424.0 1618.4,1424.0 1619.9,1424.0 1621.4,1424.0 1622.9,1424.0 1624.5,1424.0 1626.0,1424.0 1627.5,1424.0 1629.0,1424.0 1630.5,1424.0 1632.0,1424.0 1633.5,1424.0 1635.0,1424.0 1636.5,1424.0 1638.0,1424.0 1639.5,1424.0 1641.0,1424.0 1642.5,1424.0 1644.0,1424.0 1645.5,1424.0 1647.0,1424.0 1648.5,1424.0 1648.5,1424.0" fill="none" stroke="#111" stroke-width="3.5" stroke-linejoin="round"/>
<polygon points="1651.5,1194.2 1651.5,1194.2 1653.0,1194.2 1654.5,1194.2 1656.0,1194.2 1657.5,1194.2 1659.0,1194.2 1660.5,1194.2 1662.1,1194.2 1663.6,1194.2 1665.1,1194.2 1666.6,1194.2 1668.1,1194.2 1669.6,1194.1 1671.1,1194.0 1672.6,1193.8 1674.1,1193.3 1675.6,1192.5 1677.1,1190.9 1678.6,1188.2 1680.1,1183.8 1681.6,1177.0 1683.2,1168.6 1684.7,1152.8 1686.2,1135.7 1687.7,1112.0 1689.2,1086.2 1690.7,1062.5 1692.2,1036.3 1693.7,1008.0 1695.2,994.8 1696.7,986.5 1698.2,982.4 1699.7,993.8 1701.2,1006.0 1702.7,1027.7 1704.3,1049.3 1705.8,1076.3 1707.3,1096.7 1708.8,1116.8 1710.3,1137.7 1711.8,1151.9 1713.3,1164.7 1714.8,1175.0 1716.3,1181.7 1717.8,1186.4 1719.3,1189.4 1720.8,1191.4 1722.3,1192.6 1723.8,1193.3 1725.4,1193.8 1726.9,1194.0 1728.4,1194.1 1729.9,1194.1 1731.4,1194.2 1732.9,1194.2 1734.4,1194.2 1735.9,1194.2 1737.4,1194.2 1738.9,1194.2 1740.4,1194.2 1741.9,1194.2 1743.4,1194.2 1744.9,1194.2 1746.5,1194.2 1748.0,1194.2 1749.5,1194.2 1751.0,1194.2 1752.5,1194.2 1754.0,1194.2 1755.5,1194.2 1757.0,1194.2 1758.5,1194.2 1760.0,1194.2 1761.5,1194.2 1763.0,1194.2 1764.5,1194.2 1766.0,1194.2 1767.6,1194.2 1769.1,1194.2 1770.6,1194.2 1772.1,1194.2 1773.6,1194.2 1775.1,1194.2 1776.6,1194.2 1778.1,1194.2 1779.6,1194.2 1781.1,1194.2 1782.6,1194.2 1784.1,1194.2 1785.6,1194.2 1787.1,1194.2 1788.7,1194.2 1790.2,1194.2 1791.7,1194.2 1793.2,1194.2 1794.7,1194.2 1796.2,1194.2 1797.7,1194.2 1799.2,1194.2 1800.7,1194.2 1802.2,1194.2 1803.7,1194.2 1805.2,1194.2 1806.7,1194.2 1808.2,1194.2 1809.8,1194.2 1811.3,1194.2 1812.8,1194.2 1814.3,1194.2 1815.8,1194.2 1817.3,1194.2 1818.8,1194.2 1820.3,1194.2 1821.8,1194.2 1823.3,1194.2 1824.8,1194.2 1826.3,1194.2 1827.8,1194.2 1829.3,1194.2 1830.9,1194.2 1832.4,1194.2 1833.9,1194.2 1835.4,1194.2 1836.9,1194.2 1838.4,1194.2 1839.9,1194.2 1841.4,1194.2 1842.9,1194.2 1844.4,1194.2 1845.9,1194.2 1847.4,1194.2 1848.9,1194.2 1850.4,1194.2 1852.0,1194.2 1853.5,1194.2 1855.0,1194.2 1856.5,1194.2 1858.0,1194.2 1859.5,1194.2 1861.0,1194.2 1862.5,1194.2 1864.0,1194.2 1865.5,1194.2 1867.0,1194.2 1868.5,1194.2 1870.0,1194.2 1871.5,1194.2 1873.1,1194.2 1874.6,1194.2 1876.1,1194.2 1877.6,1194.2 1879.1,1194.2 1880.6,1194.2 1882.1,1194.2 1883.6,1194.2 1885.1,1194.2 1886.6,1194.2 1888.1,1194.2 1889.6,1194.2 1891.1,1194.2 1892.6,1194.2 1894.2,1194.2 1895.7,1194.2 1897.2,1194.2 1898.7,1194.2 1900.2,1194.2 1901.7,1194.2 1903.2,1194.2 1903.2,1194.2 1903.2,1194.2" fill="#a7cba8" stroke="none" stroke-width="0" stroke-linejoin="round"/>
<polyline points="1651.5,1194.2 1651.5,1194.2 1653.0,1194.2 1654.5,1194.2 1656.0,1194.2 1657.5,1194.2 1659.0,1194.2 1660.5,1194.2 1662.1,1194.2 1663.6,1194.2 1665.1,1194.2 1666.6,1194.2 1668.1,1194.2 1669.6,1194.1 1671.1,1194.0 1672.6,1193.8 1674.1,1193.3 1675.6,1192.5 1677.1,1190.9 1678.6,1188.2 1680.1,1183.8 1681.6,1177.0 1683.2,1168.6 1684.7,1152.8 1686.2,1135.7 1687.7,1112.0 1689.2,1086.2 1690.7,1062.5 1692.2,1036.3 1693.7,1008.0 1695.2,994.8 1696.7,986.5 1698.2,982.4 1699.7,993.8 1701.2,1006.0 1702.7,1027.7 1704.3,1049.3 1705.8,1076.3 1707.3,1096.7 1708.8,1116.8 1710.3,1137.7 1711.8,1151.9 1713.3,1164.7 1714.8,1175.0 1716.3,1181.7 1717.8,1186.4 1719.3,1189.4 1720.8,1191.4 1722.3,1192.6 1723.8,1193.3 1725.4,1193.8 1726.9,1194.0 1728.4,1194.1 1729.9,1194.1 1731.4,1194.2 1732.9,1194.2 1734.4,1194.2 1735.9,1194.2 1737.4,1194.2 1738.9,1194.2 1740.4,1194.2 1741.9,1194.2 1743.4,1194.2 1744.9,1194.2 1746.5,1194.2 1748.0,1194.2 1749.5,1194.2 1751.0,1194.2 1752.5,1194.2 1754.0,1194.2 1755.5,1194.2 1757.0,1194.2 1758.5,1194.2 1760.0,1194.2 1761.5,1194.2 1763.0,1194.2 1764.5,1194.2 1766.0,1194.2 1767.6,1194.2 1769.1,1194.2 1770.6,1194.2 1772.1,1194.2 1773.6,1194.2 1775.1,1194.2 1776.6,1194.2 1778.1,1194.2 1779.6,1194.2 1781.1,1194.2 1782.6,1194.2 1784.1,1194.2 1785.6,1194.2 1787.1,1194.2 1788.7,1194.2 1790.2,1194.2 1791.7,1194.2 1793.2,1194.2 1794.7,1194.2 1796.2,1194.2 1797.7,1194.2 1799.2,1194.2 1800.7,1194.2 1802.2,1194.2 1803.7,1194.2 1805.2,1194.2 1806.7,1194.2 1808.2,1194.2 1809.8,1194.2 1811.3,1194.2 1812.8,1194.2 1814.3,1194.2 1815.8,1194.2 1817.3,1194.2 1818.8,1194.2 1820.3,1194.2 1821.8,1194.2 1823.3,1194.2 1824.8,1194.2 1826.3,1194.2 1827.8,1194.2 1829.3,1194.2 1830.9,1194.2 1832.4,1194.2 1833.9,1194.2 1835.4,1194.2 1836.9,1194.2 1838.4,1194.2 1839.9,1194.2 1841.4,1194.2 1842.9,1194.2 1844.4,1194.2 1845.9,1194.2 1847.4,1194.2 1848.9,1194.2 1850.4,1194.2 1852.0,1194.2 1853.5,1194.2 1855.0,1194.2 1856.5,1194.2 1858.0,1194.2 1859.5,1194.2 1861.0,1194.2 1862.5,1194.2 1864.0,1194.2 1865.5,1194.2 1867.0,1194.2 1868.5,1194.2 1870.0,1194.2 1871.5,1194.2 1873.1,1194.2 1874.6,1194.2 1876.1,1194.2 1877.6,1194.2 1879.1,1194.2 1880.6,1194.2 1882.1,1194.2 1883.6,1194.2 1885.1,1194.2 1886.6,1194.2 1888.1,1194.2 1889.6,1194.2 1891.1,1194.2 1892.6,1194.2 1894.2,1194.2 1895.7,1194.2 1897.2,1194.2 1898.7,1194.2 1900.2,1194.2 1901.7,1194.2 1903.2,1194.2 1903.2,1194.2" fill="none" stroke="#1f9a4c" stroke-width="3.5" stroke-linejoin="round"/>
<polygon points="1651.5,1424.0 1651.5,1424.0 1653.0,1424.0 1654.5,1424.0 1656.0,1424.0 1657.5,1424.0 1659.0,1424.0 1660.5,1424.0 1662.1,1424.0 1663.6,1424.0 1665.1,1424.0 1666.6,1424.0 1668.1,1424.0 1669.6,1424.0 1671.1,1423.9 1672.6,1423.8 1674.1,1423.5 1675.6,1423.0 1677.1,1422.0 1678.6,1420.1 1680.1,1417.0 1681.6,1412.0 1683.2,1404.4 1684.7,1394.8 1686.2,1376.8 1687.7,1357.1 1689.2,1332.2 1690.7,1309.5 1692.2,1281.0 1693.7,1254.5 1695.2,1231.3 1696.7,1212.2 1698.2,1209.3 1699.7,1208.8 1701.2,1219.6 1702.7,1233.5 1704.3,1251.6 1705.8,1270.9 1707.3,1295.6 1708.8,1322.5 1710.3,1342.3 1711.8,1362.3 1713.3,1373.8 1714.8,1387.4 1716.3,1399.8 1717.8,1407.6 1719.3,1413.2 1720.8,1417.1 1722.3,1419.7 1723.8,1421.5 1725.4,1422.5 1726.9,1423.2 1728.4,1423.5 1729.9,1423.8 1731.4,1423.9 1732.9,1423.9 1734.4,1424.0 1735.9,1424.0 1737.4,1424.0 1738.9,1424.0 1740.4,1424.0 1741.9,1424.0 1743.4,1424.0 1744.9,1424.0 1746.5,1424.0 1748.0,1424.0 1749.5,1424.0 1751.0,1424.0 1752.5,1424.0 1754.0,1424.0 1755.5,1424.0 1757.0,1424.0 1758.5,1424.0 1760.0,1424.0 1761.5,1424.0 1763.0,1424.0 1764.5,1424.0 1766.0,1424.0 1767.6,1424.0 1769.1,1424.0 1770.6,1424.0 1772.1,1424.0 1773.6,1424.0 1775.1,1424.0 1776.6,1424.0 1778.1,1424.0 1779.6,1424.0 1781.1,1424.0 1782.6,1424.0 1784.1,1424.0 1785.6,1424.0 1787.1,1424.0 1788.7,1424.0 1790.2,1424.0 1791.7,1424.0 1793.2,1424.0 1794.7,1424.0 1796.2,1424.0 1797.7,1424.0 1799.2,1424.0 1800.7,1424.0 1802.2,1424.0 1803.7,1424.0 1805.2,1424.0 1806.7,1424.0 1808.2,1424.0 1809.8,1424.0 1811.3,1424.0 1812.8,1424.0 1814.3,1424.0 1815.8,1424.0 1817.3,1424.0 1818.8,1424.0 1820.3,1424.0 1821.8,1424.0 1823.3,1424.0 1824.8,1424.0 1826.3,1424.0 1827.8,1424.0 1829.3,1424.0 1830.9,1424.0 1832.4,1424.0 1833.9,1424.0 1835.4,1424.0 1836.9,1424.0 1838.4,1424.0 1839.9,1424.0 1841.4,1424.0 1842.9,1424.0 1844.4,1424.0 1845.9,1424.0 1847.4,1424.0 1848.9,1424.0 1850.4,1424.0 1852.0,1424.0 1853.5,1424.0 1855.0,1424.0 1856.5,1424.0 1858.0,1424.0 1859.5,1424.0 1861.0,1424.0 1862.5,1424.0 1864.0,1424.0 1865.5,1424.0 1867.0,1424.0 1868.5,1424.0 1870.0,1424.0 1871.5,1424.0 1873.1,1424.0 1874.6,1424.0 1876.1,1424.0 1877.6,1424.0 1879.1,1424.0 1880.6,1424.0 1882.1,1424.0 1883.6,1424.0 1885.1,1424.0 1886.6,1424.0 1888.1,1424.0 1889.6,1424.0 1891.1,1424.0 1892.6,1424.0 1894.2,1424.0 1895.7,1424.0 1897.2,1424.0 1898.7,1424.0 1900.2,1424.0 1901.7,1424.0 1903.2,1424.0 1903.2,1424.0 1903.2,1424.0" fill="#7e7b78" stroke="none" stroke-width="0" stroke-linejoin="round"/>
<polyline points="1651.5,1424.0 1651.5,1424.0 1653.0,1424.0 1654.5,1424.0 1656.0,1424.0 1657.5,1424.0 1659.0,1424.0 1660.5,1424.0 1662.1,1424.0 1663.6,1424.0 1665.1,1424.0 1666.6,1424.0 1668.1,1424.0 1669.6,1424.0 1671.1,1423.9 1672.6,1423.8 1674.1,1423.5 1675.6,1423.0 1677.1,1422.0 1678.6,1420.1 1680.1,1417.0 1681.6,1412.0 1683.2,1404.4 1684.7,1394.8 1686.2,1376.8 1687.7,1357.1 1689.2,1332.2 1690.7,1309.5 1692.2,1281.0 1693.7,1254.5 1695.2,1231.3 1696.7,1212.2 1698.2,1209.3 1699.7,1208.8 1701.2,1219.6 1702.7,1233.5 1704.3,1251.6 1705.8,1270.9 1707.3,1295.6 1708.8,1322.5 1710.3,1342.3 1711.8,1362.3 1713.3,1373.8 1714.8,1387.4 1716.3,1399.8 1717.8,1407.6 1719.3,1413.2 1720.8,1417.1 1722.3,1419.7 1723.8,1421.5 1725.4,1422.5 1726.9,1423.2 1728.4,1423.5 1729.9,1423.8 1731.4,1423.9 1732.9,1423.9 1734.4,1424.0 1735.9,1424.0 1737.4,1424.0 1738.9,1424.0 1740.4,1424.0 1741.9,1424.0 1743.4,1424.0 1744.9,1424.0 1746.5,1424.0 1748.0,1424.0 1749.5,1424.0 1751.0,1424.0 1752.5,1424.0 1754.0,1424.0 1755.5,1424.0 1757.0,1424.0 1758.5,1424.0 1760.0,1424.0 1761.5,1424.0 1763.0,1424.0 1764.5,1424.0 1766.0,1424.0 1767.6,1424.0 1769.1,1424.0 1770.6,1424.0 1772.1,1424.0 1773.6,1424.0 1775.1,1424.0 1776.6,1424.0 1778.1,1424.0 1779.6,1424.0 1781.1,1424.0 1782.6,1424.0 1784.1,1424.0 1785.6,1424.0 1787.1,1424.0 1788.7,1424.0 1790.2,1424.0 1791.7,1424.0 1793.2,1424.0 1794.7,1424.0 1796.2,1424.0 1797.7,1424.0 1799.2,1424.0 1800.7,1424.0 1802.2,1424.0 1803.7,1424.0 1805.2,1424.0 1806.7,1424.0 1808.2,1424.0 1809.8,1424.0 1811.3,1424.0 1812.8,1424.0 1814.3,1424.0 1815.8,1424.0 1817.3,1424.0 1818.8,1424.0 1820.3,1424.0 1821.8,1424.0 1823.3,1424.0 1824.8,1424.0 1826.3,1424.0 1827.8,1424.0 1829.3,1424.0 1830.9,1424.0 1832.4,1424.0 1833.9,1424.0 1835.4,1424.0 1836.9,1424.0 1838.4,1424.0 1839.9,1424.0 1841.4,1424.0 1842.9,1424.0 1844.4,1424.0 1845.9,1424.0 1847.4,1424.0 1848.9,1424.0 1850.4,1424.0 1852.0,1424.0 1853.5,1424.0 1855.0,1424.0 1856.5,1424.0 1858.0,1424.0 1859.5,1424.0 1861.0,1424.0 1862.5,1424.0 1864.0,1424.0 1865.5,1424.0 1867.0,1424.0 1868.5,1424.0 1870.0,1424.0 1871.5,1424.0 1873.1,1424.0 1874.6,1424.0 1876.1,1424.0 1877.6,1424.0 1879.1,1424.0 1880.6,1424.0 1882.1,1424.0 1883.6,1424.0 1885.1,1424.0 1886.6,1424.0 1888.1,1424.0 1889.6,1424.0 1891.1,1424.0 1892.6,1424.0 1894.2,1424.0 1895.7,1424.0 1897.2,1424.0 1898.7,1424.0 1900.2,1424.0 1901.7,1424.0 1903.2,1424.0 1903.2,1424.0" fill="none" stroke="#111" stroke-width="3.5" stroke-linejoin="round"/>
<polygon points="1906.2,1194.2 1906.2,1194.2 1905.0,1192.9 1912.5,1184.2 1923.8,1165.3 1928.8,1159.1 1933.8,1129.4 1937.6,1118.9 1942.6,1091.7 1946.4,1072.9 1950.1,1047.8 1953.9,1022.7 1957.6,1008.1 1961.4,985.1 1963.5,999.7 1967.5,1001.8 1971.4,985.1 1975.2,995.6 1977.7,1015.0 1980.8,1022.7 1984.0,1054.1 1987.7,1062.5 1991.5,1098.0 1995.2,1121.0 2000.3,1141.9 2007.8,1157.8 2015.3,1167.9 2021.6,1180.4 2027.8,1193.2 2032.0,1194.2 2154.5,1194.2 2154.5,1194.2 2154.5,1194.2" fill="#a7cba8" stroke="none" stroke-width="0" stroke-linejoin="round"/>
<polyline points="1906.2,1194.2 1906.2,1194.2 1905.0,1192.9 1912.5,1184.2 1923.8,1165.3 1928.8,1159.1 1933.8,1129.4 1937.6,1118.9 1942.6,1091.7 1946.4,1072.9 1950.1,1047.8 1953.9,1022.7 1957.6,1008.1 1961.4,985.1 1963.5,999.7 1967.5,1001.8 1971.4,985.1 1975.2,995.6 1977.7,1015.0 1980.8,1022.7 1984.0,1054.1 1987.7,1062.5 1991.5,1098.0 1995.2,1121.0 2000.3,1141.9 2007.8,1157.8 2015.3,1167.9 2021.6,1180.4 2027.8,1193.2 2032.0,1194.2 2154.5,1194.2 2154.5,1194.2" fill="none" stroke="#1f9a4c" stroke-width="3.5" stroke-linejoin="round"/>
<polygon points="1906.2,1424.0 1906.2,1424.0 1904.9,1421.9 1912.3,1415.7 1920.9,1397.2 1925.8,1388.9 1930.7,1373.5 1936.8,1360.0 1941.7,1316.7 1945.4,1304.3 1950.3,1277.5 1954.0,1241.4 1955.8,1236.3 1958.5,1244.5 1960.1,1244.5 1962.0,1217.7 1966.3,1224.5 1967.5,1234.2 1970.0,1230.1 1973.6,1247.4 1978.6,1259.0 1983.5,1287.8 1987.1,1309.3 1990.8,1346.8 1997.0,1359.0 2001.9,1379.6 2008.0,1397.8 2016.6,1406.5 2022.7,1413.7 2030.1,1424.0 2034.0,1424.0 2154.5,1424.0 2154.5,1424.0 2154.5,1424.0" fill="#7f7b78" stroke="none" stroke-width="0" stroke-linejoin="round"/>
<polyline points="1906.2,1424.0 1906.2,1424.0 1904.9,1421.9 1912.3,1415.7 1920.9,1397.2 1925.8,1388.9 1930.7,1373.5 1936.8,1360.0 1941.7,1316.7 1945.4,1304.3 1950.3,1277.5 1954.0,1241.4 1955.8,1236.3 1958.5,1244.5 1960.1,1244.5 1962.0,1217.7 1966.3,1224.5 1967.5,1234.2 1970.0,1230.1 1973.6,1247.4 1978.6,1259.0 1983.5,1287.8 1987.1,1309.3 1990.8,1346.8 1997.0,1359.0 2001.9,1379.6 2008.0,1397.8 2016.6,1406.5 2022.7,1413.7 2030.1,1424.0 2034.0,1424.0 2154.5,1424.0 2154.5,1424.0" fill="none" stroke="#111" stroke-width="3.5" stroke-linejoin="round"/>
<line x1="899.5" y1="965.3" x2="2156" y2="965.3" stroke="#111" stroke-width="2.2"/>
<line x1="899.5" y1="965.3" x2="899.5" y2="1425.5" stroke="#111" stroke-width="2.2"/>
<line x1="1150.2" y1="965.3" x2="1150.2" y2="1425.5" stroke="#111" stroke-width="2.2"/>
<line x1="1400.5" y1="965.3" x2="1400.5" y2="1425.5" stroke="#111" stroke-width="2.2"/>
<line x1="1650" y1="965.3" x2="1650" y2="1425.5" stroke="#111" stroke-width="2.2"/>
<line x1="1904.7" y1="965.3" x2="1904.7" y2="1425.5" stroke="#111" stroke-width="2.2"/>
<line x1="2156" y1="965.3" x2="2156" y2="1425.5" stroke="#111" stroke-width="2.2"/>
<line x1="891.5" y1="1195.7" x2="2156" y2="1195.7" stroke="#111" stroke-width="2.4"/>
<line x1="891.5" y1="1425.5" x2="2156" y2="1425.5" stroke="#111" stroke-width="2.4"/>
<line x1="893.7" y1="976" x2="899.5" y2="976" stroke="#111" stroke-width="1.9"/>
<line x1="897" y1="987" x2="899.5" y2="987" stroke="#111" stroke-width="1.7"/>
<line x1="897" y1="998" x2="899.5" y2="998" stroke="#111" stroke-width="1.7"/>
<line x1="897" y1="1009" x2="899.5" y2="1009" stroke="#111" stroke-width="1.7"/>
<line x1="893.7" y1="1019.9" x2="899.5" y2="1019.9" stroke="#111" stroke-width="1.9"/>
<line x1="897" y1="1030.9" x2="899.5" y2="1030.9" stroke="#111" stroke-width="1.7"/>
<line x1="897" y1="1041.9" x2="899.5" y2="1041.9" stroke="#111" stroke-width="1.7"/>
<line x1="897" y1="1052.9" x2="899.5" y2="1052.9" stroke="#111" stroke-width="1.7"/>
<line x1="893.7" y1="1063.9" x2="899.5" y2="1063.9" stroke="#111" stroke-width="1.9"/>
<line x1="897" y1="1074.9" x2="899.5" y2="1074.9" stroke="#111" stroke-width="1.7"/>
<line x1="897" y1="1085.9" x2="899.5" y2="1085.9" stroke="#111" stroke-width="1.7"/>
<line x1="897" y1="1096.8" x2="899.5" y2="1096.8" stroke="#111" stroke-width="1.7"/>
<line x1="893.7" y1="1107.8" x2="899.5" y2="1107.8" stroke="#111" stroke-width="1.9"/>
<line x1="897" y1="1118.8" x2="899.5" y2="1118.8" stroke="#111" stroke-width="1.7"/>
<line x1="897" y1="1129.8" x2="899.5" y2="1129.8" stroke="#111" stroke-width="1.7"/>
<line x1="897" y1="1140.8" x2="899.5" y2="1140.8" stroke="#111" stroke-width="1.7"/>
<line x1="893.7" y1="1151.8" x2="899.5" y2="1151.8" stroke="#111" stroke-width="1.9"/>
<line x1="897" y1="1162.7" x2="899.5" y2="1162.7" stroke="#111" stroke-width="1.7"/>
<line x1="897" y1="1173.7" x2="899.5" y2="1173.7" stroke="#111" stroke-width="1.7"/>
<line x1="897" y1="1184.7" x2="899.5" y2="1184.7" stroke="#111" stroke-width="1.7"/>
<line x1="893.7" y1="1206.4" x2="899.5" y2="1206.4" stroke="#111" stroke-width="1.9"/>
<line x1="897" y1="1217.4" x2="899.5" y2="1217.4" stroke="#111" stroke-width="1.7"/>
<line x1="897" y1="1228.3" x2="899.5" y2="1228.3" stroke="#111" stroke-width="1.7"/>
<line x1="897" y1="1239.3" x2="899.5" y2="1239.3" stroke="#111" stroke-width="1.7"/>
<line x1="893.7" y1="1250.2" x2="899.5" y2="1250.2" stroke="#111" stroke-width="1.9"/>
<line x1="897" y1="1261.2" x2="899.5" y2="1261.2" stroke="#111" stroke-width="1.7"/>
<line x1="897" y1="1272.1" x2="899.5" y2="1272.1" stroke="#111" stroke-width="1.7"/>
<line x1="897" y1="1283.1" x2="899.5" y2="1283.1" stroke="#111" stroke-width="1.7"/>
<line x1="893.7" y1="1294" x2="899.5" y2="1294" stroke="#111" stroke-width="1.9"/>
<line x1="897" y1="1305" x2="899.5" y2="1305" stroke="#111" stroke-width="1.7"/>
<line x1="897" y1="1316" x2="899.5" y2="1316" stroke="#111" stroke-width="1.7"/>
<line x1="897" y1="1326.9" x2="899.5" y2="1326.9" stroke="#111" stroke-width="1.7"/>
<line x1="893.7" y1="1337.9" x2="899.5" y2="1337.9" stroke="#111" stroke-width="1.9"/>
<line x1="897" y1="1348.8" x2="899.5" y2="1348.8" stroke="#111" stroke-width="1.7"/>
<line x1="897" y1="1359.8" x2="899.5" y2="1359.8" stroke="#111" stroke-width="1.7"/>
<line x1="897" y1="1370.7" x2="899.5" y2="1370.7" stroke="#111" stroke-width="1.7"/>
<line x1="893.7" y1="1381.7" x2="899.5" y2="1381.7" stroke="#111" stroke-width="1.9"/>
<line x1="897" y1="1392.6" x2="899.5" y2="1392.6" stroke="#111" stroke-width="1.7"/>
<line x1="897" y1="1403.6" x2="899.5" y2="1403.6" stroke="#111" stroke-width="1.7"/>
<line x1="897" y1="1414.5" x2="899.5" y2="1414.5" stroke="#111" stroke-width="1.7"/>
<line x1="935" y1="1195.7" x2="935" y2="1200.7" stroke="#111" stroke-width="1.3"/>
<line x1="935" y1="1425.5" x2="935" y2="1430.5" stroke="#111" stroke-width="1.3"/>
<line x1="941" y1="1195.7" x2="941" y2="1200.7" stroke="#111" stroke-width="1.3"/>
<line x1="941" y1="1425.5" x2="941" y2="1430.5" stroke="#111" stroke-width="1.3"/>
<line x1="945" y1="1195.7" x2="945" y2="1200.7" stroke="#111" stroke-width="1.3"/>
<line x1="945" y1="1425.5" x2="945" y2="1430.5" stroke="#111" stroke-width="1.3"/>
<line x1="950" y1="1195.7" x2="950" y2="1200.7" stroke="#111" stroke-width="1.3"/>
<line x1="950" y1="1425.5" x2="950" y2="1430.5" stroke="#111" stroke-width="1.3"/>
<line x1="952" y1="1195.7" x2="952" y2="1200.7" stroke="#111" stroke-width="1.3"/>
<line x1="952" y1="1425.5" x2="952" y2="1430.5" stroke="#111" stroke-width="1.3"/>
<line x1="955" y1="1195.7" x2="955" y2="1200.7" stroke="#111" stroke-width="1.3"/>
<line x1="955" y1="1425.5" x2="955" y2="1430.5" stroke="#111" stroke-width="1.3"/>
<line x1="960" y1="1195.7" x2="960" y2="1200.7" stroke="#111" stroke-width="1.3"/>
<line x1="960" y1="1425.5" x2="960" y2="1430.5" stroke="#111" stroke-width="1.3"/>
<line x1="964" y1="1195.7" x2="964" y2="1200.7" stroke="#111" stroke-width="1.3"/>
<line x1="964" y1="1425.5" x2="964" y2="1430.5" stroke="#111" stroke-width="1.3"/>
<line x1="990" y1="1195.7" x2="990" y2="1200.7" stroke="#111" stroke-width="1.3"/>
<line x1="990" y1="1425.5" x2="990" y2="1430.5" stroke="#111" stroke-width="1.3"/>
<line x1="1000" y1="1195.7" x2="1000" y2="1200.7" stroke="#111" stroke-width="1.3"/>
<line x1="1000" y1="1425.5" x2="1000" y2="1430.5" stroke="#111" stroke-width="1.3"/>
<line x1="1006" y1="1195.7" x2="1006" y2="1200.7" stroke="#111" stroke-width="1.3"/>
<line x1="1006" y1="1425.5" x2="1006" y2="1430.5" stroke="#111" stroke-width="1.3"/>
<line x1="1010.6" y1="1195.7" x2="1010.6" y2="1200.7" stroke="#111" stroke-width="1.3"/>
<line x1="1010.6" y1="1425.5" x2="1010.6" y2="1430.5" stroke="#111" stroke-width="1.3"/>
<line x1="1040" y1="1195.7" x2="1040" y2="1200.7" stroke="#111" stroke-width="1.3"/>
<line x1="1040" y1="1425.5" x2="1040" y2="1430.5" stroke="#111" stroke-width="1.3"/>
<line x1="1055" y1="1195.7" x2="1055" y2="1200.7" stroke="#111" stroke-width="1.3"/>
<line x1="1055" y1="1425.5" x2="1055" y2="1430.5" stroke="#111" stroke-width="1.3"/>
<line x1="1065" y1="1195.7" x2="1065" y2="1200.7" stroke="#111" stroke-width="1.3"/>
<line x1="1065" y1="1425.5" x2="1065" y2="1430.5" stroke="#111" stroke-width="1.3"/>
<line x1="1073" y1="1195.7" x2="1073" y2="1200.7" stroke="#111" stroke-width="1.3"/>
<line x1="1073" y1="1425.5" x2="1073" y2="1430.5" stroke="#111" stroke-width="1.3"/>
<line x1="1078" y1="1195.7" x2="1078" y2="1200.7" stroke="#111" stroke-width="1.3"/>
<line x1="1078" y1="1425.5" x2="1078" y2="1430.5" stroke="#111" stroke-width="1.3"/>
<line x1="1081" y1="1195.7" x2="1081" y2="1200.7" stroke="#111" stroke-width="1.3"/>
<line x1="1081" y1="1425.5" x2="1081" y2="1430.5" stroke="#111" stroke-width="1.3"/>
<line x1="1110" y1="1195.7" x2="1110" y2="1200.7" stroke="#111" stroke-width="1.3"/>
<line x1="1110" y1="1425.5" x2="1110" y2="1430.5" stroke="#111" stroke-width="1.3"/>
<line x1="1125" y1="1195.7" x2="1125" y2="1200.7" stroke="#111" stroke-width="1.3"/>
<line x1="1125" y1="1425.5" x2="1125" y2="1430.5" stroke="#111" stroke-width="1.3"/>
<line x1="1133" y1="1195.7" x2="1133" y2="1200.7" stroke="#111" stroke-width="1.3"/>
<line x1="1133" y1="1425.5" x2="1133" y2="1430.5" stroke="#111" stroke-width="1.3"/>
<line x1="1138" y1="1195.7" x2="1138" y2="1200.7" stroke="#111" stroke-width="1.3"/>
<line x1="1138" y1="1425.5" x2="1138" y2="1430.5" stroke="#111" stroke-width="1.3"/>
<line x1="1141" y1="1195.7" x2="1141" y2="1200.7" stroke="#111" stroke-width="1.3"/>
<line x1="1141" y1="1425.5" x2="1141" y2="1430.5" stroke="#111" stroke-width="1.3"/>
<line x1="1160" y1="1195.7" x2="1160" y2="1200.7" stroke="#111" stroke-width="1.3"/>
<line x1="1160" y1="1425.5" x2="1160" y2="1430.5" stroke="#111" stroke-width="1.3"/>
<line x1="1175" y1="1195.7" x2="1175" y2="1200.7" stroke="#111" stroke-width="1.3"/>
<line x1="1175" y1="1425.5" x2="1175" y2="1430.5" stroke="#111" stroke-width="1.3"/>
<line x1="1185.6" y1="1195.7" x2="1185.6" y2="1200.7" stroke="#111" stroke-width="1.3"/>
<line x1="1185.6" y1="1425.5" x2="1185.6" y2="1430.5" stroke="#111" stroke-width="1.3"/>
<line x1="1205" y1="1195.7" x2="1205" y2="1200.7" stroke="#111" stroke-width="1.3"/>
<line x1="1205" y1="1425.5" x2="1205" y2="1430.5" stroke="#111" stroke-width="1.3"/>
<line x1="1213" y1="1195.7" x2="1213" y2="1200.7" stroke="#111" stroke-width="1.3"/>
<line x1="1213" y1="1425.5" x2="1213" y2="1430.5" stroke="#111" stroke-width="1.3"/>
<line x1="1217" y1="1195.7" x2="1217" y2="1200.7" stroke="#111" stroke-width="1.3"/>
<line x1="1217" y1="1425.5" x2="1217" y2="1430.5" stroke="#111" stroke-width="1.3"/>
<line x1="1219.6" y1="1195.7" x2="1219.6" y2="1200.7" stroke="#111" stroke-width="1.3"/>
<line x1="1219.6" y1="1425.5" x2="1219.6" y2="1430.5" stroke="#111" stroke-width="1.3"/>
<line x1="1222" y1="1195.7" x2="1222" y2="1200.7" stroke="#111" stroke-width="1.3"/>
<line x1="1222" y1="1425.5" x2="1222" y2="1430.5" stroke="#111" stroke-width="1.3"/>
<line x1="1226" y1="1195.7" x2="1226" y2="1200.7" stroke="#111" stroke-width="1.3"/>
<line x1="1226" y1="1425.5" x2="1226" y2="1430.5" stroke="#111" stroke-width="1.3"/>
<line x1="1240" y1="1195.7" x2="1240" y2="1200.7" stroke="#111" stroke-width="1.3"/>
<line x1="1240" y1="1425.5" x2="1240" y2="1430.5" stroke="#111" stroke-width="1.3"/>
<line x1="1249" y1="1195.7" x2="1249" y2="1200.7" stroke="#111" stroke-width="1.3"/>
<line x1="1249" y1="1425.5" x2="1249" y2="1430.5" stroke="#111" stroke-width="1.3"/>
<line x1="1280" y1="1195.7" x2="1280" y2="1200.7" stroke="#111" stroke-width="1.3"/>
<line x1="1280" y1="1425.5" x2="1280" y2="1430.5" stroke="#111" stroke-width="1.3"/>
<line x1="1300" y1="1195.7" x2="1300" y2="1200.7" stroke="#111" stroke-width="1.3"/>
<line x1="1300" y1="1425.5" x2="1300" y2="1430.5" stroke="#111" stroke-width="1.3"/>
<line x1="1315" y1="1195.7" x2="1315" y2="1200.7" stroke="#111" stroke-width="1.3"/>
<line x1="1315" y1="1425.5" x2="1315" y2="1430.5" stroke="#111" stroke-width="1.3"/>
<line x1="1325" y1="1195.7" x2="1325" y2="1200.7" stroke="#111" stroke-width="1.3"/>
<line x1="1325" y1="1425.5" x2="1325" y2="1430.5" stroke="#111" stroke-width="1.3"/>
<line x1="1330" y1="1195.7" x2="1330" y2="1200.7" stroke="#111" stroke-width="1.3"/>
<line x1="1330" y1="1425.5" x2="1330" y2="1430.5" stroke="#111" stroke-width="1.3"/>
<line x1="1355" y1="1195.7" x2="1355" y2="1200.7" stroke="#111" stroke-width="1.3"/>
<line x1="1355" y1="1425.5" x2="1355" y2="1430.5" stroke="#111" stroke-width="1.3"/>
<line x1="1372" y1="1195.7" x2="1372" y2="1200.7" stroke="#111" stroke-width="1.3"/>
<line x1="1372" y1="1425.5" x2="1372" y2="1430.5" stroke="#111" stroke-width="1.3"/>
<line x1="1383" y1="1195.7" x2="1383" y2="1200.7" stroke="#111" stroke-width="1.3"/>
<line x1="1383" y1="1425.5" x2="1383" y2="1430.5" stroke="#111" stroke-width="1.3"/>
<line x1="1388" y1="1195.7" x2="1388" y2="1200.7" stroke="#111" stroke-width="1.3"/>
<line x1="1388" y1="1425.5" x2="1388" y2="1430.5" stroke="#111" stroke-width="1.3"/>
<line x1="1391.5" y1="1195.7" x2="1391.5" y2="1200.7" stroke="#111" stroke-width="1.3"/>
<line x1="1391.5" y1="1425.5" x2="1391.5" y2="1430.5" stroke="#111" stroke-width="1.3"/>
<line x1="1405" y1="1195.7" x2="1405" y2="1200.7" stroke="#111" stroke-width="1.3"/>
<line x1="1405" y1="1425.5" x2="1405" y2="1430.5" stroke="#111" stroke-width="1.3"/>
<line x1="1417" y1="1195.7" x2="1417" y2="1200.7" stroke="#111" stroke-width="1.3"/>
<line x1="1417" y1="1425.5" x2="1417" y2="1430.5" stroke="#111" stroke-width="1.3"/>
<line x1="1440" y1="1195.7" x2="1440" y2="1200.7" stroke="#111" stroke-width="1.3"/>
<line x1="1440" y1="1425.5" x2="1440" y2="1430.5" stroke="#111" stroke-width="1.3"/>
<line x1="1452" y1="1195.7" x2="1452" y2="1200.7" stroke="#111" stroke-width="1.3"/>
<line x1="1452" y1="1425.5" x2="1452" y2="1430.5" stroke="#111" stroke-width="1.3"/>
<line x1="1457" y1="1195.7" x2="1457" y2="1200.7" stroke="#111" stroke-width="1.3"/>
<line x1="1457" y1="1425.5" x2="1457" y2="1430.5" stroke="#111" stroke-width="1.3"/>
<line x1="1459.4" y1="1195.7" x2="1459.4" y2="1200.7" stroke="#111" stroke-width="1.3"/>
<line x1="1459.4" y1="1425.5" x2="1459.4" y2="1430.5" stroke="#111" stroke-width="1.3"/>
<line x1="1462" y1="1195.7" x2="1462" y2="1200.7" stroke="#111" stroke-width="1.3"/>
<line x1="1462" y1="1425.5" x2="1462" y2="1430.5" stroke="#111" stroke-width="1.3"/>
<line x1="1466" y1="1195.7" x2="1466" y2="1200.7" stroke="#111" stroke-width="1.3"/>
<line x1="1466" y1="1425.5" x2="1466" y2="1430.5" stroke="#111" stroke-width="1.3"/>
<line x1="1490" y1="1195.7" x2="1490" y2="1200.7" stroke="#111" stroke-width="1.3"/>
<line x1="1490" y1="1425.5" x2="1490" y2="1430.5" stroke="#111" stroke-width="1.3"/>
<line x1="1504" y1="1195.7" x2="1504" y2="1200.7" stroke="#111" stroke-width="1.3"/>
<line x1="1504" y1="1425.5" x2="1504" y2="1430.5" stroke="#111" stroke-width="1.3"/>
<line x1="1530" y1="1195.7" x2="1530" y2="1200.7" stroke="#111" stroke-width="1.3"/>
<line x1="1530" y1="1425.5" x2="1530" y2="1430.5" stroke="#111" stroke-width="1.3"/>
<line x1="1550" y1="1195.7" x2="1550" y2="1200.7" stroke="#111" stroke-width="1.3"/>
<line x1="1550" y1="1425.5" x2="1550" y2="1430.5" stroke="#111" stroke-width="1.3"/>
<line x1="1565" y1="1195.7" x2="1565" y2="1200.7" stroke="#111" stroke-width="1.3"/>
<line x1="1565" y1="1425.5" x2="1565" y2="1430.5" stroke="#111" stroke-width="1.3"/>
<line x1="1575" y1="1195.7" x2="1575" y2="1200.7" stroke="#111" stroke-width="1.3"/>
<line x1="1575" y1="1425.5" x2="1575" y2="1430.5" stroke="#111" stroke-width="1.3"/>
<line x1="1579.5" y1="1195.7" x2="1579.5" y2="1200.7" stroke="#111" stroke-width="1.3"/>
<line x1="1579.5" y1="1425.5" x2="1579.5" y2="1430.5" stroke="#111" stroke-width="1.3"/>
<line x1="1605" y1="1195.7" x2="1605" y2="1200.7" stroke="#111" stroke-width="1.3"/>
<line x1="1605" y1="1425.5" x2="1605" y2="1430.5" stroke="#111" stroke-width="1.3"/>
<line x1="1620" y1="1195.7" x2="1620" y2="1200.7" stroke="#111" stroke-width="1.3"/>
<line x1="1620" y1="1425.5" x2="1620" y2="1430.5" stroke="#111" stroke-width="1.3"/>
<line x1="1632" y1="1195.7" x2="1632" y2="1200.7" stroke="#111" stroke-width="1.3"/>
<line x1="1632" y1="1425.5" x2="1632" y2="1430.5" stroke="#111" stroke-width="1.3"/>
<line x1="1640" y1="1195.7" x2="1640" y2="1200.7" stroke="#111" stroke-width="1.3"/>
<line x1="1640" y1="1425.5" x2="1640" y2="1430.5" stroke="#111" stroke-width="1.3"/>
<line x1="1645" y1="1195.7" x2="1645" y2="1200.7" stroke="#111" stroke-width="1.3"/>
<line x1="1645" y1="1425.5" x2="1645" y2="1430.5" stroke="#111" stroke-width="1.3"/>
<line x1="1659" y1="1195.7" x2="1659" y2="1200.7" stroke="#111" stroke-width="1.3"/>
<line x1="1659" y1="1425.5" x2="1659" y2="1430.5" stroke="#111" stroke-width="1.3"/>
<line x1="1690" y1="1195.7" x2="1690" y2="1200.7" stroke="#111" stroke-width="1.3"/>
<line x1="1690" y1="1425.5" x2="1690" y2="1430.5" stroke="#111" stroke-width="1.3"/>
<line x1="1702" y1="1195.7" x2="1702" y2="1200.7" stroke="#111" stroke-width="1.3"/>
<line x1="1702" y1="1425.5" x2="1702" y2="1430.5" stroke="#111" stroke-width="1.3"/>
<line x1="1707" y1="1195.7" x2="1707" y2="1200.7" stroke="#111" stroke-width="1.3"/>
<line x1="1707" y1="1425.5" x2="1707" y2="1430.5" stroke="#111" stroke-width="1.3"/>
<line x1="1709.4" y1="1195.7" x2="1709.4" y2="1200.7" stroke="#111" stroke-width="1.3"/>
<line x1="1709.4" y1="1425.5" x2="1709.4" y2="1430.5" stroke="#111" stroke-width="1.3"/>
<line x1="1712" y1="1195.7" x2="1712" y2="1200.7" stroke="#111" stroke-width="1.3"/>
<line x1="1712" y1="1425.5" x2="1712" y2="1430.5" stroke="#111" stroke-width="1.3"/>
<line x1="1716" y1="1195.7" x2="1716" y2="1200.7" stroke="#111" stroke-width="1.3"/>
<line x1="1716" y1="1425.5" x2="1716" y2="1430.5" stroke="#111" stroke-width="1.3"/>
<line x1="1760" y1="1195.7" x2="1760" y2="1200.7" stroke="#111" stroke-width="1.3"/>
<line x1="1760" y1="1425.5" x2="1760" y2="1430.5" stroke="#111" stroke-width="1.3"/>
<line x1="1790" y1="1195.7" x2="1790" y2="1200.7" stroke="#111" stroke-width="1.3"/>
<line x1="1790" y1="1425.5" x2="1790" y2="1430.5" stroke="#111" stroke-width="1.3"/>
<line x1="1805" y1="1195.7" x2="1805" y2="1200.7" stroke="#111" stroke-width="1.3"/>
<line x1="1805" y1="1425.5" x2="1805" y2="1430.5" stroke="#111" stroke-width="1.3"/>
<line x1="1820" y1="1195.7" x2="1820" y2="1200.7" stroke="#111" stroke-width="1.3"/>
<line x1="1820" y1="1425.5" x2="1820" y2="1430.5" stroke="#111" stroke-width="1.3"/>
<line x1="1830" y1="1195.7" x2="1830" y2="1200.7" stroke="#111" stroke-width="1.3"/>
<line x1="1830" y1="1425.5" x2="1830" y2="1430.5" stroke="#111" stroke-width="1.3"/>
<line x1="1834.7" y1="1195.7" x2="1834.7" y2="1200.7" stroke="#111" stroke-width="1.3"/>
<line x1="1834.7" y1="1425.5" x2="1834.7" y2="1430.5" stroke="#111" stroke-width="1.3"/>
<line x1="1860" y1="1195.7" x2="1860" y2="1200.7" stroke="#111" stroke-width="1.3"/>
<line x1="1860" y1="1425.5" x2="1860" y2="1430.5" stroke="#111" stroke-width="1.3"/>
<line x1="1875" y1="1195.7" x2="1875" y2="1200.7" stroke="#111" stroke-width="1.3"/>
<line x1="1875" y1="1425.5" x2="1875" y2="1430.5" stroke="#111" stroke-width="1.3"/>
<line x1="1888" y1="1195.7" x2="1888" y2="1200.7" stroke="#111" stroke-width="1.3"/>
<line x1="1888" y1="1425.5" x2="1888" y2="1430.5" stroke="#111" stroke-width="1.3"/>
<line x1="1898" y1="1195.7" x2="1898" y2="1200.7" stroke="#111" stroke-width="1.3"/>
<line x1="1898" y1="1425.5" x2="1898" y2="1430.5" stroke="#111" stroke-width="1.3"/>
<line x1="1915.6" y1="1195.7" x2="1915.6" y2="1200.7" stroke="#111" stroke-width="1.3"/>
<line x1="1915.6" y1="1425.5" x2="1915.6" y2="1430.5" stroke="#111" stroke-width="1.3"/>
<line x1="1945" y1="1195.7" x2="1945" y2="1200.7" stroke="#111" stroke-width="1.3"/>
<line x1="1945" y1="1425.5" x2="1945" y2="1430.5" stroke="#111" stroke-width="1.3"/>
<line x1="1957" y1="1195.7" x2="1957" y2="1200.7" stroke="#111" stroke-width="1.3"/>
<line x1="1957" y1="1425.5" x2="1957" y2="1430.5" stroke="#111" stroke-width="1.3"/>
<line x1="1963" y1="1195.7" x2="1963" y2="1200.7" stroke="#111" stroke-width="1.3"/>
<line x1="1963" y1="1425.5" x2="1963" y2="1430.5" stroke="#111" stroke-width="1.3"/>
<line x1="1966" y1="1195.7" x2="1966" y2="1200.7" stroke="#111" stroke-width="1.3"/>
<line x1="1966" y1="1425.5" x2="1966" y2="1430.5" stroke="#111" stroke-width="1.3"/>
<line x1="1969" y1="1195.7" x2="1969" y2="1200.7" stroke="#111" stroke-width="1.3"/>
<line x1="1969" y1="1425.5" x2="1969" y2="1430.5" stroke="#111" stroke-width="1.3"/>
<line x1="1975" y1="1195.7" x2="1975" y2="1200.7" stroke="#111" stroke-width="1.3"/>
<line x1="1975" y1="1425.5" x2="1975" y2="1430.5" stroke="#111" stroke-width="1.3"/>
<line x1="2009.7" y1="1195.7" x2="2009.7" y2="1200.7" stroke="#111" stroke-width="1.3"/>
<line x1="2009.7" y1="1425.5" x2="2009.7" y2="1430.5" stroke="#111" stroke-width="1.3"/>
<line x1="2040" y1="1195.7" x2="2040" y2="1200.7" stroke="#111" stroke-width="1.3"/>
<line x1="2040" y1="1425.5" x2="2040" y2="1430.5" stroke="#111" stroke-width="1.3"/>
<line x1="2060" y1="1195.7" x2="2060" y2="1200.7" stroke="#111" stroke-width="1.3"/>
<line x1="2060" y1="1425.5" x2="2060" y2="1430.5" stroke="#111" stroke-width="1.3"/>
<line x1="2075" y1="1195.7" x2="2075" y2="1200.7" stroke="#111" stroke-width="1.3"/>
<line x1="2075" y1="1425.5" x2="2075" y2="1430.5" stroke="#111" stroke-width="1.3"/>
<line x1="2085.3" y1="1195.7" x2="2085.3" y2="1200.7" stroke="#111" stroke-width="1.3"/>
<line x1="2085.3" y1="1425.5" x2="2085.3" y2="1430.5" stroke="#111" stroke-width="1.3"/>
<line x1="2110" y1="1195.7" x2="2110" y2="1200.7" stroke="#111" stroke-width="1.3"/>
<line x1="2110" y1="1425.5" x2="2110" y2="1430.5" stroke="#111" stroke-width="1.3"/>
<line x1="2125" y1="1195.7" x2="2125" y2="1200.7" stroke="#111" stroke-width="1.3"/>
<line x1="2125" y1="1425.5" x2="2125" y2="1430.5" stroke="#111" stroke-width="1.3"/>
<line x1="2140" y1="1195.7" x2="2140" y2="1200.7" stroke="#111" stroke-width="1.3"/>
<line x1="2140" y1="1425.5" x2="2140" y2="1430.5" stroke="#111" stroke-width="1.3"/>
<line x1="2148" y1="1195.7" x2="2148" y2="1200.7" stroke="#111" stroke-width="1.3"/>
<line x1="2148" y1="1425.5" x2="2148" y2="1430.5" stroke="#111" stroke-width="1.3"/>
<line x1="952" y1="1195.7" x2="952" y2="1204.7" stroke="#111" stroke-width="1.8"/>
<line x1="952" y1="1425.5" x2="952" y2="1434.5" stroke="#111" stroke-width="1.8"/>
<line x1="1010.6" y1="1195.7" x2="1010.6" y2="1204.7" stroke="#111" stroke-width="1.8"/>
<line x1="1010.6" y1="1425.5" x2="1010.6" y2="1434.5" stroke="#111" stroke-width="1.8"/>
<line x1="1081" y1="1195.7" x2="1081" y2="1204.7" stroke="#111" stroke-width="1.8"/>
<line x1="1081" y1="1425.5" x2="1081" y2="1434.5" stroke="#111" stroke-width="1.8"/>
<line x1="1141" y1="1195.7" x2="1141" y2="1204.7" stroke="#111" stroke-width="1.8"/>
<line x1="1141" y1="1425.5" x2="1141" y2="1434.5" stroke="#111" stroke-width="1.8"/>
<line x1="1185.6" y1="1195.7" x2="1185.6" y2="1204.7" stroke="#111" stroke-width="1.8"/>
<line x1="1185.6" y1="1425.5" x2="1185.6" y2="1434.5" stroke="#111" stroke-width="1.8"/>
<line x1="1219.6" y1="1195.7" x2="1219.6" y2="1204.7" stroke="#111" stroke-width="1.8"/>
<line x1="1219.6" y1="1425.5" x2="1219.6" y2="1434.5" stroke="#111" stroke-width="1.8"/>
<line x1="1249" y1="1195.7" x2="1249" y2="1204.7" stroke="#111" stroke-width="1.8"/>
<line x1="1249" y1="1425.5" x2="1249" y2="1434.5" stroke="#111" stroke-width="1.8"/>
<line x1="1330" y1="1195.7" x2="1330" y2="1204.7" stroke="#111" stroke-width="1.8"/>
<line x1="1330" y1="1425.5" x2="1330" y2="1434.5" stroke="#111" stroke-width="1.8"/>
<line x1="1391.5" y1="1195.7" x2="1391.5" y2="1204.7" stroke="#111" stroke-width="1.8"/>
<line x1="1391.5" y1="1425.5" x2="1391.5" y2="1434.5" stroke="#111" stroke-width="1.8"/>
<line x1="1417" y1="1195.7" x2="1417" y2="1204.7" stroke="#111" stroke-width="1.8"/>
<line x1="1417" y1="1425.5" x2="1417" y2="1434.5" stroke="#111" stroke-width="1.8"/>
<line x1="1459.4" y1="1195.7" x2="1459.4" y2="1204.7" stroke="#111" stroke-width="1.8"/>
<line x1="1459.4" y1="1425.5" x2="1459.4" y2="1434.5" stroke="#111" stroke-width="1.8"/>
<line x1="1504" y1="1195.7" x2="1504" y2="1204.7" stroke="#111" stroke-width="1.8"/>
<line x1="1504" y1="1425.5" x2="1504" y2="1434.5" stroke="#111" stroke-width="1.8"/>
<line x1="1579.5" y1="1195.7" x2="1579.5" y2="1204.7" stroke="#111" stroke-width="1.8"/>
<line x1="1579.5" y1="1425.5" x2="1579.5" y2="1434.5" stroke="#111" stroke-width="1.8"/>
<line x1="1659" y1="1195.7" x2="1659" y2="1204.7" stroke="#111" stroke-width="1.8"/>
<line x1="1659" y1="1425.5" x2="1659" y2="1434.5" stroke="#111" stroke-width="1.8"/>
<line x1="1709.4" y1="1195.7" x2="1709.4" y2="1204.7" stroke="#111" stroke-width="1.8"/>
<line x1="1709.4" y1="1425.5" x2="1709.4" y2="1434.5" stroke="#111" stroke-width="1.8"/>
<line x1="1760" y1="1195.7" x2="1760" y2="1204.7" stroke="#111" stroke-width="1.8"/>
<line x1="1760" y1="1425.5" x2="1760" y2="1434.5" stroke="#111" stroke-width="1.8"/>
<line x1="1834.7" y1="1195.7" x2="1834.7" y2="1204.7" stroke="#111" stroke-width="1.8"/>
<line x1="1834.7" y1="1425.5" x2="1834.7" y2="1434.5" stroke="#111" stroke-width="1.8"/>
<line x1="1915.6" y1="1195.7" x2="1915.6" y2="1204.7" stroke="#111" stroke-width="1.8"/>
<line x1="1915.6" y1="1425.5" x2="1915.6" y2="1434.5" stroke="#111" stroke-width="1.8"/>
<line x1="1966" y1="1195.7" x2="1966" y2="1204.7" stroke="#111" stroke-width="1.8"/>
<line x1="1966" y1="1425.5" x2="1966" y2="1434.5" stroke="#111" stroke-width="1.8"/>
<line x1="2009.7" y1="1195.7" x2="2009.7" y2="1204.7" stroke="#111" stroke-width="1.8"/>
<line x1="2009.7" y1="1425.5" x2="2009.7" y2="1434.5" stroke="#111" stroke-width="1.8"/>
<line x1="2085.3" y1="1195.7" x2="2085.3" y2="1204.7" stroke="#111" stroke-width="1.8"/>
<line x1="2085.3" y1="1425.5" x2="2085.3" y2="1434.5" stroke="#111" stroke-width="1.8"/>
<line x1="2148" y1="1195.7" x2="2148" y2="1204.7" stroke="#111" stroke-width="1.8"/>
<line x1="2148" y1="1425.5" x2="2148" y2="1434.5" stroke="#111" stroke-width="1.8"/>
<text x="952" y="1446" font-size="13" text-anchor="middle" transform="translate(0 -72.3) scale(1 1.05)">0</text>
<text x="1013.0" y="1446" font-size="13" text-anchor="middle">10<tspan font-size="10.5" dy="-8">3</tspan></text>
<text x="1084.0" y="1446" font-size="13" text-anchor="middle">10<tspan font-size="10.5" dy="-8">4</tspan></text>
<text x="1144.0" y="1446" font-size="13" text-anchor="middle">10<tspan font-size="10.5" dy="-8">5</tspan></text>
<text x="1185.0" y="1446" font-size="13" text-anchor="middle">-10<tspan font-size="10.5" dy="-8">3</tspan></text>
<text x="1219.6" y="1446" font-size="13" text-anchor="middle" transform="translate(0 -72.3) scale(1 1.05)">0</text>
<text x="1252.0" y="1446" font-size="13" text-anchor="middle">10<tspan font-size="10.5" dy="-8">3</tspan></text>
<text x="1333.0" y="1446" font-size="13" text-anchor="middle">10<tspan font-size="10.5" dy="-8">4</tspan></text>
<text x="1394.0" y="1446" font-size="13" text-anchor="middle">10<tspan font-size="10.5" dy="-8">5</tspan></text>
<text x="1416.0" y="1446" font-size="13" text-anchor="middle">-10<tspan font-size="10.5" dy="-8">3</tspan></text>
<text x="1459.4" y="1446" font-size="13" text-anchor="middle" transform="translate(0 -72.3) scale(1 1.05)">0</text>
<text x="1507.0" y="1446" font-size="13" text-anchor="middle">10<tspan font-size="10.5" dy="-8">3</tspan></text>
<text x="1582.0" y="1446" font-size="13" text-anchor="middle">10<tspan font-size="10.5" dy="-8">4</tspan></text>
<text x="1659.0" y="1446" font-size="13" text-anchor="middle">-10<tspan font-size="10.5" dy="-8">3</tspan></text>
<text x="1709.4" y="1446" font-size="13" text-anchor="middle" transform="translate(0 -72.3) scale(1 1.05)">0</text>
<text x="1763.0" y="1446" font-size="13" text-anchor="middle">10<tspan font-size="10.5" dy="-8">3</tspan></text>
<text x="1837.0" y="1446" font-size="13" text-anchor="middle">10<tspan font-size="10.5" dy="-8">4</tspan></text>
<text x="1915.0" y="1446" font-size="13" text-anchor="middle">-10<tspan font-size="10.5" dy="-8">3</tspan></text>
<text x="1966" y="1446" font-size="13" text-anchor="middle" transform="translate(0 -72.3) scale(1 1.05)">0</text>
<text x="2012.0" y="1446" font-size="13" text-anchor="middle">10<tspan font-size="10.5" dy="-8">3</tspan></text>
<text x="2088.0" y="1446" font-size="13" text-anchor="middle">10<tspan font-size="10.5" dy="-8">4</tspan></text>
<text x="2148.0" y="1446" font-size="13" text-anchor="middle">10<tspan font-size="10.5" dy="-8">5</tspan></text>
<text x="1027.9" y="1474.5" font-size="30.2" text-anchor="middle" transform="translate(0 -73.7) scale(1 1.05)">CD80-PE</text>
<text x="1260.5" y="1474.5" font-size="30.2" text-anchor="middle" transform="translate(0 -73.7) scale(1 1.05)">CD86-BV421</text>
<text x="1523.5" y="1474.5" font-size="30.2" text-anchor="middle" transform="translate(0 -73.7) scale(1 1.05)">PD-L1-</text>
<text x="1759.9" y="1474.5" font-size="30.2" text-anchor="middle" transform="translate(0 -73.7) scale(1 1.05)">4-1BBL - PE</text>
<text x="2021" y="1474.5" font-size="30.2" text-anchor="middle" transform="translate(0 -73.7) scale(1 1.05)">CTLA4-BV421</text>
<text x="1523.5" y="1511" font-size="30.2" text-anchor="middle" transform="translate(0 -75.6) scale(1 1.05)">PerCP-Cy5.5</text>
<rect x="1436.3" y="1545.5" width="23.7" height="11.6" fill="#a7cba8" stroke="#1f9a4c" stroke-width="3"/>
<rect x="1436.3" y="1589.8" width="23.7" height="11.6" fill="#9da1a4" stroke="#111" stroke-width="3"/>
<text x="1474" y="1560.7" font-size="32.5" transform="translate(0 -78) scale(1 1.05)">NALM6</text>
<text x="1474" y="1606" font-size="32.5" transform="translate(0 -80.3) scale(1 1.05)">Unstained</text>
<text x="24.5" y="1696.4" font-size="37" font-weight="bold" transform="translate(0 -84.8) scale(1 1.05)">h</text>
<polyline points="101.4,1757.3 228.2,1757.3 228.2,1862.0 232.6,1862.0 232.6,1915.5 236.9,1915.5 236.9,1969.0 268.0,1969.0 268.0,2022.5" fill="none" stroke="#3c55a6" stroke-width="3.6" stroke-linejoin="round" stroke-linejoin="miter" stroke-linecap="butt"/>
<polyline points="101.4,1754.7 515.9,1754.7" fill="none" stroke="#e05658" stroke-width="3.6" stroke-linejoin="round" stroke-linejoin="miter" stroke-linecap="butt"/>
<line x1="101.4" y1="1731.2" x2="101.4" y2="2023.5" stroke="#111" stroke-width="2.2"/>
<line x1="89.9" y1="2022.5" x2="539.5" y2="2022.5" stroke="#111" stroke-width="2.2"/>
<line x1="89.9" y1="2022.5" x2="101.4" y2="2022.5" stroke="#111" stroke-width="2.2"/>
<text x="85.5" y="2034" font-size="33" text-anchor="end" transform="translate(0 -101.7) scale(1 1.05)">0</text>
<line x1="89.9" y1="1969" x2="101.4" y2="1969" stroke="#111" stroke-width="2.2"/>
<text x="85.5" y="1980.5" font-size="33" text-anchor="end" transform="translate(0 -99) scale(1 1.05)">20</text>
<line x1="89.9" y1="1915.5" x2="101.4" y2="1915.5" stroke="#111" stroke-width="2.2"/>
<text x="85.5" y="1927" font-size="33" text-anchor="end" transform="translate(0 -96.4) scale(1 1.05)">40</text>
<line x1="89.9" y1="1862" x2="101.4" y2="1862" stroke="#111" stroke-width="2.2"/>
<text x="85.5" y="1873.5" font-size="33" text-anchor="end" transform="translate(0 -93.7) scale(1 1.05)">60</text>
<line x1="89.9" y1="1808.5" x2="101.4" y2="1808.5" stroke="#111" stroke-width="2.2"/>
<text x="85.5" y="1820" font-size="33" text-anchor="end" transform="translate(0 -91) scale(1 1.05)">80</text>
<line x1="89.9" y1="1755" x2="101.4" y2="1755" stroke="#111" stroke-width="2.2"/>
<text x="85.5" y="1766.5" font-size="33" text-anchor="end" transform="translate(0 -88.3) scale(1 1.05)">100</text>
<line x1="101.4" y1="2022.5" x2="101.4" y2="2031.5" stroke="#111" stroke-width="2.2"/>
<text x="101.4" y="2060" font-size="33" text-anchor="middle" transform="translate(0 -103) scale(1 1.05)">0</text>
<line x1="188.8" y1="2022.5" x2="188.8" y2="2031.5" stroke="#111" stroke-width="2.2"/>
<text x="188.8" y="2060" font-size="33" text-anchor="middle" transform="translate(0 -103) scale(1 1.05)">20</text>
<line x1="276.3" y1="2022.5" x2="276.3" y2="2031.5" stroke="#111" stroke-width="2.2"/>
<text x="276.3" y="2060" font-size="33" text-anchor="middle" transform="translate(0 -103) scale(1 1.05)">40</text>
<line x1="363.7" y1="2022.5" x2="363.7" y2="2031.5" stroke="#111" stroke-width="2.2"/>
<text x="363.7" y="2060" font-size="33" text-anchor="middle" transform="translate(0 -103) scale(1 1.05)">60</text>
<line x1="451.2" y1="2022.5" x2="451.2" y2="2031.5" stroke="#111" stroke-width="2.2"/>
<text x="451.2" y="2060" font-size="33" text-anchor="middle" transform="translate(0 -103) scale(1 1.05)">80</text>
<line x1="538.6" y1="2022.5" x2="538.6" y2="2031.5" stroke="#111" stroke-width="2.2"/>
<text x="538.6" y="2060" font-size="33" text-anchor="middle" transform="translate(0 -103) scale(1 1.05)">100</text>
<text x="332.3" y="2102.2" font-size="33" text-anchor="middle" transform="translate(0 -105.1) scale(1 1.05)">Days</text>
<text x="28.5" y="1881.9" font-size="33" text-anchor="middle" transform="rotate(-90 28.5 1881.9)">% Survival</text>
<text x="273.5" y="1731.7" font-size="32" transform="translate(0 -86.6) scale(1 1.05)">Nalm6</text>
<text x="363.5" y="1721" font-size="19.5" transform="translate(0 -86.1) scale(1 1.05)">2000</text>
<line x1="272.5" y1="1804.2" x2="317.4" y2="1804.2" stroke="#3c55a6" stroke-width="3.6"/>
<line x1="272.5" y1="1841.3" x2="317.4" y2="1841.3" stroke="#e05658" stroke-width="3.6"/>
<text x="326" y="1810.9" font-size="32" transform="translate(0 -90.5) scale(1 1.05)">19-HIT</text>
<text x="326" y="1847.7" font-size="32" transform="translate(0 -92.4) scale(1 1.05)">19-HIT</text>
<text x="422" y="1837.8" font-size="19.5" transform="translate(0 -91.9) scale(1 1.05)">80BB</text>
<line x1="475.4" y1="1788.6" x2="475.4" y2="1844.8" stroke="#111" stroke-width="2"/>
<text x="480.5" y="1823.3" font-size="17.5" textLength="41" lengthAdjust="spacingAndGlyphs" transform="translate(0 -91.2) scale(1 1.05)">0.002</text>
<polyline points="621.3,1756.0 764.0,1756.0 764.0,1809.6 791.5,1809.6 791.5,2024.0" fill="none" stroke="#3c55a6" stroke-width="3.6" stroke-linejoin="round" stroke-linejoin="miter" stroke-linecap="butt"/>
<polyline points="621.3,1756.0 829.9,1756.0 829.9,1863.2 868.3,1863.2 868.3,1916.8 890.3,1916.8 890.3,1970.4 956.1,1970.4 956.1,2024.0" fill="none" stroke="#e05658" stroke-width="3.6" stroke-linejoin="round" stroke-linejoin="miter" stroke-linecap="butt"/>
<line x1="621.3" y1="1731.2" x2="621.3" y2="2025" stroke="#111" stroke-width="2.2"/>
<line x1="609.7" y1="2024" x2="1060.4" y2="2024" stroke="#111" stroke-width="2.2"/>
<line x1="609.7" y1="2024" x2="621.3" y2="2024" stroke="#111" stroke-width="2.2"/>
<text x="601" y="2035.5" font-size="33" text-anchor="end" transform="translate(0 -101.8) scale(1 1.05)">0</text>
<line x1="609.7" y1="1970.4" x2="621.3" y2="1970.4" stroke="#111" stroke-width="2.2"/>
<text x="601" y="1981.9" font-size="33" text-anchor="end" transform="translate(0 -99.1) scale(1 1.05)">20</text>
<line x1="609.7" y1="1916.8" x2="621.3" y2="1916.8" stroke="#111" stroke-width="2.2"/>
<text x="601" y="1928.3" font-size="33" text-anchor="end" transform="translate(0 -96.4) scale(1 1.05)">40</text>
<line x1="609.7" y1="1863.2" x2="621.3" y2="1863.2" stroke="#111" stroke-width="2.2"/>
<text x="601" y="1874.7" font-size="33" text-anchor="end" transform="translate(0 -93.7) scale(1 1.05)">60</text>
<line x1="609.7" y1="1809.6" x2="621.3" y2="1809.6" stroke="#111" stroke-width="2.2"/>
<text x="601" y="1821.1" font-size="33" text-anchor="end" transform="translate(0 -91.1) scale(1 1.05)">80</text>
<line x1="609.7" y1="1756" x2="621.3" y2="1756" stroke="#111" stroke-width="2.2"/>
<text x="601" y="1767.5" font-size="33" text-anchor="end" transform="translate(0 -88.4) scale(1 1.05)">100</text>
<line x1="621.3" y1="2024" x2="621.3" y2="2033" stroke="#111" stroke-width="2.2"/>
<text x="621.3" y="2061" font-size="33" text-anchor="middle" transform="translate(0 -103.1) scale(1 1.05)">0</text>
<line x1="731.1" y1="2024" x2="731.1" y2="2033" stroke="#111" stroke-width="2.2"/>
<text x="731.1" y="2061" font-size="33" text-anchor="middle" transform="translate(0 -103.1) scale(1 1.05)">20</text>
<line x1="840.9" y1="2024" x2="840.9" y2="2033" stroke="#111" stroke-width="2.2"/>
<text x="840.9" y="2061" font-size="33" text-anchor="middle" transform="translate(0 -103.1) scale(1 1.05)">40</text>
<line x1="950.6" y1="2024" x2="950.6" y2="2033" stroke="#111" stroke-width="2.2"/>
<text x="950.6" y="2061" font-size="33" text-anchor="middle" transform="translate(0 -103.1) scale(1 1.05)">60</text>
<line x1="1060.4" y1="2024" x2="1060.4" y2="2033" stroke="#111" stroke-width="2.2"/>
<text x="1060.4" y="2061" font-size="33" text-anchor="middle" transform="translate(0 -103.1) scale(1 1.05)">80</text>
<text x="872.7" y="2102.2" font-size="33" text-anchor="middle" transform="translate(0 -105.1) scale(1 1.05)">Days</text>
<text x="756.5" y="1729.7" font-size="32" transform="translate(0 -86.5) scale(1 1.05)">Nalm6</text>
<text x="846.5" y="1719" font-size="19.5" transform="translate(0 -86) scale(1 1.05)">200</text>
<line x1="848.8" y1="1803" x2="892.3" y2="1803" stroke="#3c55a6" stroke-width="3.6"/>
<line x1="848.8" y1="1840.7" x2="892.3" y2="1840.7" stroke="#e05658" stroke-width="3.6"/>
<text x="901" y="1810.9" font-size="32" transform="translate(0 -90.5) scale(1 1.05)">19-HIT</text>
<text x="901" y="1847.7" font-size="32" transform="translate(0 -92.4) scale(1 1.05)">19-HIT</text>
<text x="997" y="1837.8" font-size="19.5" transform="translate(0 -91.9) scale(1 1.05)">80BB</text>
<line x1="1050.9" y1="1788.6" x2="1050.9" y2="1844.8" stroke="#111" stroke-width="2"/>
<text x="1055.5" y="1823.3" font-size="17.5" textLength="41" lengthAdjust="spacingAndGlyphs" transform="translate(0 -91.2) scale(1 1.05)">0.004</text>
<text x="1108" y="1706.2" font-size="37" font-weight="bold" transform="translate(0 -85.3) scale(1 1.05)">i</text>
<text x="1288.3" y="1703.5" font-size="32" text-anchor="middle" transform="translate(0 -85.2) scale(1 1.05)">Total</text>
<text x="1522.8" y="1703.5" font-size="32" text-anchor="middle" transform="translate(0 -85.2) scale(1 1.05)">CD4</text>
<text x="1746.7" y="1703.2" font-size="32" text-anchor="middle" transform="translate(0 -85.2) scale(1 1.05)">CD8</text>
<line x1="1214" y1="1753.8" x2="1214" y2="2059.8" stroke="#111" stroke-width="2.2"/>
<line x1="1201.1" y1="2058.8" x2="1214" y2="2058.8" stroke="#111" stroke-width="2.2"/>
<line x1="1206.6" y1="2041.6" x2="1214" y2="2041.6" stroke="#111" stroke-width="1.6"/>
<line x1="1206.6" y1="2031.5" x2="1214" y2="2031.5" stroke="#111" stroke-width="1.6"/>
<line x1="1206.6" y1="2024.3" x2="1214" y2="2024.3" stroke="#111" stroke-width="1.6"/>
<line x1="1206.6" y1="2018.7" x2="1214" y2="2018.7" stroke="#111" stroke-width="1.6"/>
<line x1="1206.6" y1="2014.2" x2="1214" y2="2014.2" stroke="#111" stroke-width="1.6"/>
<line x1="1206.6" y1="2010.4" x2="1214" y2="2010.4" stroke="#111" stroke-width="1.6"/>
<line x1="1206.6" y1="2007.1" x2="1214" y2="2007.1" stroke="#111" stroke-width="1.6"/>
<line x1="1206.6" y1="2004.1" x2="1214" y2="2004.1" stroke="#111" stroke-width="1.6"/>
<line x1="1201.1" y1="2001.5" x2="1214" y2="2001.5" stroke="#111" stroke-width="2.2"/>
<line x1="1206.6" y1="1984.3" x2="1214" y2="1984.3" stroke="#111" stroke-width="1.6"/>
<line x1="1206.6" y1="1974.2" x2="1214" y2="1974.2" stroke="#111" stroke-width="1.6"/>
<line x1="1206.6" y1="1967" x2="1214" y2="1967" stroke="#111" stroke-width="1.6"/>
<line x1="1206.6" y1="1961.4" x2="1214" y2="1961.4" stroke="#111" stroke-width="1.6"/>
<line x1="1206.6" y1="1956.9" x2="1214" y2="1956.9" stroke="#111" stroke-width="1.6"/>
<line x1="1206.6" y1="1953.1" x2="1214" y2="1953.1" stroke="#111" stroke-width="1.6"/>
<line x1="1206.6" y1="1949.8" x2="1214" y2="1949.8" stroke="#111" stroke-width="1.6"/>
<line x1="1206.6" y1="1946.8" x2="1214" y2="1946.8" stroke="#111" stroke-width="1.6"/>
<line x1="1201.1" y1="1944.2" x2="1214" y2="1944.2" stroke="#111" stroke-width="2.2"/>
<line x1="1206.6" y1="1927" x2="1214" y2="1927" stroke="#111" stroke-width="1.6"/>
<line x1="1206.6" y1="1916.9" x2="1214" y2="1916.9" stroke="#111" stroke-width="1.6"/>
<line x1="1206.6" y1="1909.7" x2="1214" y2="1909.7" stroke="#111" stroke-width="1.6"/>
<line x1="1206.6" y1="1904.1" x2="1214" y2="1904.1" stroke="#111" stroke-width="1.6"/>
<line x1="1206.6" y1="1899.6" x2="1214" y2="1899.6" stroke="#111" stroke-width="1.6"/>
<line x1="1206.6" y1="1895.8" x2="1214" y2="1895.8" stroke="#111" stroke-width="1.6"/>
<line x1="1206.6" y1="1892.5" x2="1214" y2="1892.5" stroke="#111" stroke-width="1.6"/>
<line x1="1206.6" y1="1889.5" x2="1214" y2="1889.5" stroke="#111" stroke-width="1.6"/>
<line x1="1201.1" y1="1886.9" x2="1214" y2="1886.9" stroke="#111" stroke-width="2.2"/>
<line x1="1206.6" y1="1869.7" x2="1214" y2="1869.7" stroke="#111" stroke-width="1.6"/>
<line x1="1206.6" y1="1859.6" x2="1214" y2="1859.6" stroke="#111" stroke-width="1.6"/>
<line x1="1206.6" y1="1852.4" x2="1214" y2="1852.4" stroke="#111" stroke-width="1.6"/>
<line x1="1206.6" y1="1846.8" x2="1214" y2="1846.8" stroke="#111" stroke-width="1.6"/>
<line x1="1206.6" y1="1842.3" x2="1214" y2="1842.3" stroke="#111" stroke-width="1.6"/>
<line x1="1206.6" y1="1838.5" x2="1214" y2="1838.5" stroke="#111" stroke-width="1.6"/>
<line x1="1206.6" y1="1835.2" x2="1214" y2="1835.2" stroke="#111" stroke-width="1.6"/>
<line x1="1206.6" y1="1832.2" x2="1214" y2="1832.2" stroke="#111" stroke-width="1.6"/>
<line x1="1201.1" y1="1829.6" x2="1214" y2="1829.6" stroke="#111" stroke-width="2.2"/>
<line x1="1206.6" y1="1812.4" x2="1214" y2="1812.4" stroke="#111" stroke-width="1.6"/>
<line x1="1206.6" y1="1802.3" x2="1214" y2="1802.3" stroke="#111" stroke-width="1.6"/>
<line x1="1206.6" y1="1795.1" x2="1214" y2="1795.1" stroke="#111" stroke-width="1.6"/>
<line x1="1206.6" y1="1789.5" x2="1214" y2="1789.5" stroke="#111" stroke-width="1.6"/>
<line x1="1206.6" y1="1785" x2="1214" y2="1785" stroke="#111" stroke-width="1.6"/>
<line x1="1206.6" y1="1781.2" x2="1214" y2="1781.2" stroke="#111" stroke-width="1.6"/>
<line x1="1206.6" y1="1777.9" x2="1214" y2="1777.9" stroke="#111" stroke-width="1.6"/>
<line x1="1206.6" y1="1774.9" x2="1214" y2="1774.9" stroke="#111" stroke-width="1.6"/>
<line x1="1201.1" y1="1772.3" x2="1214" y2="1772.3" stroke="#111" stroke-width="2.2"/>
<line x1="1206.6" y1="1755.1" x2="1214" y2="1755.1" stroke="#111" stroke-width="1.6"/>
<text x="1180.5" y="1784.6" font-size="31.5" text-anchor="end" transform="translate(0 -89.2) scale(1 1.05)">10</text>
<text x="1184.5" y="1765.2" font-size="19.5" transform="translate(0 -88.3) scale(1 1.05)">7</text>
<text x="1180.5" y="1841.9" font-size="31.5" text-anchor="end" transform="translate(0 -92.1) scale(1 1.05)">10</text>
<text x="1184.5" y="1822.5" font-size="19.5" transform="translate(0 -91.1) scale(1 1.05)">6</text>
<text x="1180.5" y="1899.2" font-size="31.5" text-anchor="end" transform="translate(0 -95) scale(1 1.05)">10</text>
<text x="1184.5" y="1879.8" font-size="19.5" transform="translate(0 -94) scale(1 1.05)">5</text>
<text x="1180.5" y="1956.5" font-size="31.5" text-anchor="end" transform="translate(0 -97.8) scale(1 1.05)">10</text>
<text x="1184.5" y="1937.1" font-size="19.5" transform="translate(0 -96.9) scale(1 1.05)">4</text>
<text x="1180.5" y="2013.8" font-size="31.5" text-anchor="end" transform="translate(0 -100.7) scale(1 1.05)">10</text>
<text x="1184.5" y="1994.4" font-size="19.5" transform="translate(0 -99.7) scale(1 1.05)">3</text>
<text x="1180.5" y="2071.1" font-size="31.5" text-anchor="end" transform="translate(0 -103.6) scale(1 1.05)">10</text>
<text x="1184.5" y="2051.7" font-size="19.5" transform="translate(0 -102.6) scale(1 1.05)">2</text>
<polyline points="1236.8,2058.0 1236.8,1983.3 1277.4,1983.3 1277.4,2058.0" fill="none" stroke="#3f58ae" stroke-width="2.2" stroke-linejoin="round" stroke-linejoin="miter"/>
<polyline points="1302.0,2058.0 1302.0,1841.5 1341.9,1841.5 1341.9,2058.0" fill="none" stroke="#e62226" stroke-width="2.2" stroke-linejoin="round" stroke-linejoin="miter"/>
<line x1="1256" y1="1973.7" x2="1256" y2="1993" stroke="#3f58ae" stroke-width="2"/>
<line x1="1246.2" y1="1973.7" x2="1265.8" y2="1973.7" stroke="#3f58ae" stroke-width="2"/>
<line x1="1246.2" y1="1993" x2="1265.8" y2="1993" stroke="#3f58ae" stroke-width="2"/>
<line x1="1321.5" y1="1831" x2="1321.5" y2="1853" stroke="#e62226" stroke-width="2"/>
<line x1="1311.7" y1="1831" x2="1331.3" y2="1831" stroke="#e62226" stroke-width="2"/>
<line x1="1311.7" y1="1853" x2="1331.3" y2="1853" stroke="#e62226" stroke-width="2"/>
<circle cx="1244.5" cy="1962.2" r="10.3" fill="#405bb0" stroke="#111" stroke-width="1.8"/>
<circle cx="1257.4" cy="1984.2" r="10.3" fill="#405bb0" stroke="#111" stroke-width="1.8"/>
<circle cx="1270.2" cy="1984.2" r="10.3" fill="#405bb0" stroke="#111" stroke-width="1.8"/>
<circle cx="1257.4" cy="2016.3" r="10.3" fill="#405bb0" stroke="#111" stroke-width="1.8"/>
<circle cx="1335" cy="1819.3" r="10.3" fill="#eb4244" stroke="#111" stroke-width="1.8"/>
<circle cx="1309.5" cy="1837.4" r="10.3" fill="#eb4244" stroke="#111" stroke-width="1.8"/>
<circle cx="1335" cy="1853.6" r="10.3" fill="#eb4244" stroke="#111" stroke-width="1.8"/>
<circle cx="1309.5" cy="1873.6" r="10.3" fill="#eb4244" stroke="#111" stroke-width="1.8"/>
<line x1="1201" y1="2058" x2="1365.7" y2="2058" stroke="#111" stroke-width="2.2"/>
<line x1="1257.4" y1="2058" x2="1257.4" y2="2070" stroke="#111" stroke-width="2.2"/>
<line x1="1322.6" y1="2058" x2="1322.6" y2="2070" stroke="#111" stroke-width="2.2"/>
<polyline points="1254.6,1942.2 1254.6,1747.4 1319.9,1747.4 1319.9,1800.9" fill="none" stroke="#111" stroke-width="1.8" stroke-linejoin="round" stroke-linejoin="miter"/>
<text x="1288" y="1744.7" font-size="17" text-anchor="middle" textLength="31" lengthAdjust="spacingAndGlyphs" transform="translate(0 -87.2) scale(1 1.05)">0.03</text>
<text x="1138" y="1916.1" font-size="32" text-anchor="middle" transform="rotate(-90 1138 1916.1)">T cell count</text>
<line x1="1443.9" y1="1754.3" x2="1443.9" y2="2059" stroke="#111" stroke-width="2.2"/>
<line x1="1431" y1="2058" x2="1443.9" y2="2058" stroke="#111" stroke-width="2.2"/>
<line x1="1436.5" y1="2039.7" x2="1443.9" y2="2039.7" stroke="#111" stroke-width="1.6"/>
<line x1="1436.5" y1="2029" x2="1443.9" y2="2029" stroke="#111" stroke-width="1.6"/>
<line x1="1436.5" y1="2021.4" x2="1443.9" y2="2021.4" stroke="#111" stroke-width="1.6"/>
<line x1="1436.5" y1="2015.5" x2="1443.9" y2="2015.5" stroke="#111" stroke-width="1.6"/>
<line x1="1436.5" y1="2010.7" x2="1443.9" y2="2010.7" stroke="#111" stroke-width="1.6"/>
<line x1="1436.5" y1="2006.7" x2="1443.9" y2="2006.7" stroke="#111" stroke-width="1.6"/>
<line x1="1436.5" y1="2003.1" x2="1443.9" y2="2003.1" stroke="#111" stroke-width="1.6"/>
<line x1="1436.5" y1="2000" x2="1443.9" y2="2000" stroke="#111" stroke-width="1.6"/>
<line x1="1431" y1="1997.3" x2="1443.9" y2="1997.3" stroke="#111" stroke-width="2.2"/>
<line x1="1436.5" y1="1979" x2="1443.9" y2="1979" stroke="#111" stroke-width="1.6"/>
<line x1="1436.5" y1="1968.3" x2="1443.9" y2="1968.3" stroke="#111" stroke-width="1.6"/>
<line x1="1436.5" y1="1960.7" x2="1443.9" y2="1960.7" stroke="#111" stroke-width="1.6"/>
<line x1="1436.5" y1="1954.8" x2="1443.9" y2="1954.8" stroke="#111" stroke-width="1.6"/>
<line x1="1436.5" y1="1950" x2="1443.9" y2="1950" stroke="#111" stroke-width="1.6"/>
<line x1="1436.5" y1="1945.9" x2="1443.9" y2="1945.9" stroke="#111" stroke-width="1.6"/>
<line x1="1436.5" y1="1942.4" x2="1443.9" y2="1942.4" stroke="#111" stroke-width="1.6"/>
<line x1="1436.5" y1="1939.3" x2="1443.9" y2="1939.3" stroke="#111" stroke-width="1.6"/>
<line x1="1431" y1="1936.5" x2="1443.9" y2="1936.5" stroke="#111" stroke-width="2.2"/>
<line x1="1436.5" y1="1918.2" x2="1443.9" y2="1918.2" stroke="#111" stroke-width="1.6"/>
<line x1="1436.5" y1="1907.5" x2="1443.9" y2="1907.5" stroke="#111" stroke-width="1.6"/>
<line x1="1436.5" y1="1900" x2="1443.9" y2="1900" stroke="#111" stroke-width="1.6"/>
<line x1="1436.5" y1="1894.1" x2="1443.9" y2="1894.1" stroke="#111" stroke-width="1.6"/>
<line x1="1436.5" y1="1889.3" x2="1443.9" y2="1889.3" stroke="#111" stroke-width="1.6"/>
<line x1="1436.5" y1="1885.2" x2="1443.9" y2="1885.2" stroke="#111" stroke-width="1.6"/>
<line x1="1436.5" y1="1881.7" x2="1443.9" y2="1881.7" stroke="#111" stroke-width="1.6"/>
<line x1="1436.5" y1="1878.6" x2="1443.9" y2="1878.6" stroke="#111" stroke-width="1.6"/>
<line x1="1431" y1="1875.8" x2="1443.9" y2="1875.8" stroke="#111" stroke-width="2.2"/>
<line x1="1436.5" y1="1857.5" x2="1443.9" y2="1857.5" stroke="#111" stroke-width="1.6"/>
<line x1="1436.5" y1="1846.8" x2="1443.9" y2="1846.8" stroke="#111" stroke-width="1.6"/>
<line x1="1436.5" y1="1839.2" x2="1443.9" y2="1839.2" stroke="#111" stroke-width="1.6"/>
<line x1="1436.5" y1="1833.3" x2="1443.9" y2="1833.3" stroke="#111" stroke-width="1.6"/>
<line x1="1436.5" y1="1828.5" x2="1443.9" y2="1828.5" stroke="#111" stroke-width="1.6"/>
<line x1="1436.5" y1="1824.4" x2="1443.9" y2="1824.4" stroke="#111" stroke-width="1.6"/>
<line x1="1436.5" y1="1820.9" x2="1443.9" y2="1820.9" stroke="#111" stroke-width="1.6"/>
<line x1="1436.5" y1="1817.8" x2="1443.9" y2="1817.8" stroke="#111" stroke-width="1.6"/>
<line x1="1431" y1="1815" x2="1443.9" y2="1815" stroke="#111" stroke-width="2.2"/>
<line x1="1436.5" y1="1796.8" x2="1443.9" y2="1796.8" stroke="#111" stroke-width="1.6"/>
<line x1="1436.5" y1="1786.1" x2="1443.9" y2="1786.1" stroke="#111" stroke-width="1.6"/>
<line x1="1436.5" y1="1778.5" x2="1443.9" y2="1778.5" stroke="#111" stroke-width="1.6"/>
<line x1="1436.5" y1="1772.6" x2="1443.9" y2="1772.6" stroke="#111" stroke-width="1.6"/>
<line x1="1436.5" y1="1767.8" x2="1443.9" y2="1767.8" stroke="#111" stroke-width="1.6"/>
<line x1="1436.5" y1="1763.7" x2="1443.9" y2="1763.7" stroke="#111" stroke-width="1.6"/>
<line x1="1436.5" y1="1760.2" x2="1443.9" y2="1760.2" stroke="#111" stroke-width="1.6"/>
<line x1="1436.5" y1="1757.1" x2="1443.9" y2="1757.1" stroke="#111" stroke-width="1.6"/>
<line x1="1431" y1="1754.3" x2="1443.9" y2="1754.3" stroke="#111" stroke-width="2.2"/>
<text x="1411.5" y="1769.2" font-size="31.5" text-anchor="end" transform="translate(0 -88.5) scale(1 1.05)">10</text>
<text x="1415.5" y="1753.2" font-size="19" transform="translate(0 -87.7) scale(1 1.05)">7</text>
<text x="1411.5" y="1830" font-size="31.5" text-anchor="end" transform="translate(0 -91.5) scale(1 1.05)">10</text>
<text x="1415.5" y="1814" font-size="19" transform="translate(0 -90.7) scale(1 1.05)">6</text>
<text x="1411.5" y="1890.8" font-size="31.5" text-anchor="end" transform="translate(0 -94.5) scale(1 1.05)">10</text>
<text x="1415.5" y="1874.8" font-size="19" transform="translate(0 -93.7) scale(1 1.05)">5</text>
<text x="1411.5" y="1951.6" font-size="31.5" text-anchor="end" transform="translate(0 -97.6) scale(1 1.05)">10</text>
<text x="1415.5" y="1935.6" font-size="19" transform="translate(0 -96.8) scale(1 1.05)">4</text>
<text x="1411.5" y="2012.4" font-size="31.5" text-anchor="end" transform="translate(0 -100.6) scale(1 1.05)">10</text>
<text x="1415.5" y="1996.4" font-size="19" transform="translate(0 -99.8) scale(1 1.05)">3</text>
<text x="1411.5" y="2073.2" font-size="31.5" text-anchor="end" transform="translate(0 -103.7) scale(1 1.05)">10</text>
<text x="1415.5" y="2057.2" font-size="19" transform="translate(0 -102.9) scale(1 1.05)">2</text>
<polyline points="1468.0,2058.0 1468.0,1996.2 1509.2,1996.2 1509.2,2058.0" fill="none" stroke="#3f58ae" stroke-width="2.2" stroke-linejoin="round" stroke-linejoin="miter"/>
<polyline points="1535.3,2058.0 1535.3,1843.4 1577.0,1843.4 1577.0,2058.0" fill="none" stroke="#e62226" stroke-width="2.2" stroke-linejoin="round" stroke-linejoin="miter"/>
<line x1="1488.5" y1="1988" x2="1488.5" y2="2005" stroke="#3f58ae" stroke-width="2"/>
<line x1="1478.7" y1="1988" x2="1498.3" y2="1988" stroke="#3f58ae" stroke-width="2"/>
<line x1="1478.7" y1="2005" x2="1498.3" y2="2005" stroke="#3f58ae" stroke-width="2"/>
<line x1="1555.6" y1="1832" x2="1555.6" y2="1857" stroke="#e62226" stroke-width="2"/>
<line x1="1545.8" y1="1832" x2="1565.4" y2="1832" stroke="#e62226" stroke-width="2"/>
<line x1="1545.8" y1="1857" x2="1565.4" y2="1857" stroke="#e62226" stroke-width="2"/>
<circle cx="1476.8" cy="1978.7" r="10.3" fill="#405bb0" stroke="#111" stroke-width="1.8"/>
<circle cx="1499.6" cy="1993" r="10.3" fill="#405bb0" stroke="#111" stroke-width="1.8"/>
<circle cx="1489.2" cy="1993" r="10.3" fill="#405bb0" stroke="#111" stroke-width="1.8"/>
<circle cx="1489.2" cy="2030" r="10.3" fill="#405bb0" stroke="#111" stroke-width="1.8"/>
<circle cx="1555.6" cy="1818.7" r="10.3" fill="#eb4244" stroke="#111" stroke-width="1.8"/>
<circle cx="1544" cy="1843.4" r="10.3" fill="#eb4244" stroke="#111" stroke-width="1.8"/>
<circle cx="1567.4" cy="1858" r="10.3" fill="#eb4244" stroke="#111" stroke-width="1.8"/>
<circle cx="1544" cy="1872.8" r="10.3" fill="#eb4244" stroke="#111" stroke-width="1.8"/>
<line x1="1433" y1="2058" x2="1596.2" y2="2058" stroke="#111" stroke-width="2.2"/>
<line x1="1487.8" y1="2058" x2="1487.8" y2="2070" stroke="#111" stroke-width="2.2"/>
<line x1="1553.1" y1="2058" x2="1553.1" y2="2070" stroke="#111" stroke-width="2.2"/>
<polyline points="1488.4,1971.0 1488.4,1748.8 1555.6,1748.8 1555.6,1783.0" fill="none" stroke="#111" stroke-width="1.8" stroke-linejoin="round" stroke-linejoin="miter"/>
<text x="1519.4" y="1744.7" font-size="17" text-anchor="middle" textLength="31" lengthAdjust="spacingAndGlyphs" transform="translate(0 -87.2) scale(1 1.05)">0.03</text>
<line x1="1672.2" y1="1755" x2="1672.2" y2="2060.4" stroke="#111" stroke-width="2.2"/>
<line x1="1659.5" y1="2059.4" x2="1672.2" y2="2059.4" stroke="#111" stroke-width="2.2"/>
<line x1="1665" y1="2041.1" x2="1672.2" y2="2041.1" stroke="#111" stroke-width="1.6"/>
<line x1="1665" y1="2030.4" x2="1672.2" y2="2030.4" stroke="#111" stroke-width="1.6"/>
<line x1="1665" y1="2022.7" x2="1672.2" y2="2022.7" stroke="#111" stroke-width="1.6"/>
<line x1="1665" y1="2016.8" x2="1672.2" y2="2016.8" stroke="#111" stroke-width="1.6"/>
<line x1="1665" y1="2012" x2="1672.2" y2="2012" stroke="#111" stroke-width="1.6"/>
<line x1="1665" y1="2008" x2="1672.2" y2="2008" stroke="#111" stroke-width="1.6"/>
<line x1="1665" y1="2004.4" x2="1672.2" y2="2004.4" stroke="#111" stroke-width="1.6"/>
<line x1="1665" y1="2001.3" x2="1672.2" y2="2001.3" stroke="#111" stroke-width="1.6"/>
<line x1="1659.5" y1="1998.5" x2="1672.2" y2="1998.5" stroke="#111" stroke-width="2.2"/>
<line x1="1665" y1="1980.2" x2="1672.2" y2="1980.2" stroke="#111" stroke-width="1.6"/>
<line x1="1665" y1="1969.5" x2="1672.2" y2="1969.5" stroke="#111" stroke-width="1.6"/>
<line x1="1665" y1="1961.9" x2="1672.2" y2="1961.9" stroke="#111" stroke-width="1.6"/>
<line x1="1665" y1="1956" x2="1672.2" y2="1956" stroke="#111" stroke-width="1.6"/>
<line x1="1665" y1="1951.1" x2="1672.2" y2="1951.1" stroke="#111" stroke-width="1.6"/>
<line x1="1665" y1="1947.1" x2="1672.2" y2="1947.1" stroke="#111" stroke-width="1.6"/>
<line x1="1665" y1="1943.5" x2="1672.2" y2="1943.5" stroke="#111" stroke-width="1.6"/>
<line x1="1665" y1="1940.4" x2="1672.2" y2="1940.4" stroke="#111" stroke-width="1.6"/>
<line x1="1659.5" y1="1937.6" x2="1672.2" y2="1937.6" stroke="#111" stroke-width="2.2"/>
<line x1="1665" y1="1919.3" x2="1672.2" y2="1919.3" stroke="#111" stroke-width="1.6"/>
<line x1="1665" y1="1908.6" x2="1672.2" y2="1908.6" stroke="#111" stroke-width="1.6"/>
<line x1="1665" y1="1901" x2="1672.2" y2="1901" stroke="#111" stroke-width="1.6"/>
<line x1="1665" y1="1895.1" x2="1672.2" y2="1895.1" stroke="#111" stroke-width="1.6"/>
<line x1="1665" y1="1890.3" x2="1672.2" y2="1890.3" stroke="#111" stroke-width="1.6"/>
<line x1="1665" y1="1886.2" x2="1672.2" y2="1886.2" stroke="#111" stroke-width="1.6"/>
<line x1="1665" y1="1882.7" x2="1672.2" y2="1882.7" stroke="#111" stroke-width="1.6"/>
<line x1="1665" y1="1879.5" x2="1672.2" y2="1879.5" stroke="#111" stroke-width="1.6"/>
<line x1="1659.5" y1="1876.8" x2="1672.2" y2="1876.8" stroke="#111" stroke-width="2.2"/>
<line x1="1665" y1="1858.4" x2="1672.2" y2="1858.4" stroke="#111" stroke-width="1.6"/>
<line x1="1665" y1="1847.7" x2="1672.2" y2="1847.7" stroke="#111" stroke-width="1.6"/>
<line x1="1665" y1="1840.1" x2="1672.2" y2="1840.1" stroke="#111" stroke-width="1.6"/>
<line x1="1665" y1="1834.2" x2="1672.2" y2="1834.2" stroke="#111" stroke-width="1.6"/>
<line x1="1665" y1="1829.4" x2="1672.2" y2="1829.4" stroke="#111" stroke-width="1.6"/>
<line x1="1665" y1="1825.3" x2="1672.2" y2="1825.3" stroke="#111" stroke-width="1.6"/>
<line x1="1665" y1="1821.8" x2="1672.2" y2="1821.8" stroke="#111" stroke-width="1.6"/>
<line x1="1665" y1="1818.7" x2="1672.2" y2="1818.7" stroke="#111" stroke-width="1.6"/>
<line x1="1659.5" y1="1815.9" x2="1672.2" y2="1815.9" stroke="#111" stroke-width="2.2"/>
<line x1="1665" y1="1797.6" x2="1672.2" y2="1797.6" stroke="#111" stroke-width="1.6"/>
<line x1="1665" y1="1786.8" x2="1672.2" y2="1786.8" stroke="#111" stroke-width="1.6"/>
<line x1="1665" y1="1779.2" x2="1672.2" y2="1779.2" stroke="#111" stroke-width="1.6"/>
<line x1="1665" y1="1773.3" x2="1672.2" y2="1773.3" stroke="#111" stroke-width="1.6"/>
<line x1="1665" y1="1768.5" x2="1672.2" y2="1768.5" stroke="#111" stroke-width="1.6"/>
<line x1="1665" y1="1764.4" x2="1672.2" y2="1764.4" stroke="#111" stroke-width="1.6"/>
<line x1="1665" y1="1760.9" x2="1672.2" y2="1760.9" stroke="#111" stroke-width="1.6"/>
<line x1="1665" y1="1757.8" x2="1672.2" y2="1757.8" stroke="#111" stroke-width="1.6"/>
<line x1="1659.5" y1="1755" x2="1672.2" y2="1755" stroke="#111" stroke-width="2.2"/>
<text x="1644.5" y="1771" font-size="31.5" text-anchor="end" transform="translate(0 -88.6) scale(1 1.05)">10</text>
<text x="1646.5" y="1754.5" font-size="19" transform="translate(0 -87.7) scale(1 1.05)">7</text>
<text x="1644.5" y="1831.9" font-size="31.5" text-anchor="end" transform="translate(0 -91.6) scale(1 1.05)">10</text>
<text x="1646.5" y="1815.4" font-size="19" transform="translate(0 -90.8) scale(1 1.05)">6</text>
<text x="1644.5" y="1892.8" font-size="31.5" text-anchor="end" transform="translate(0 -94.6) scale(1 1.05)">10</text>
<text x="1646.5" y="1876.3" font-size="19" transform="translate(0 -93.8) scale(1 1.05)">5</text>
<text x="1644.5" y="1953.6" font-size="31.5" text-anchor="end" transform="translate(0 -97.7) scale(1 1.05)">10</text>
<text x="1646.5" y="1937.1" font-size="19" transform="translate(0 -96.9) scale(1 1.05)">4</text>
<text x="1644.5" y="2014.5" font-size="31.5" text-anchor="end" transform="translate(0 -100.7) scale(1 1.05)">10</text>
<text x="1646.5" y="1998" font-size="19" transform="translate(0 -99.9) scale(1 1.05)">3</text>
<text x="1644.5" y="2075.4" font-size="31.5" text-anchor="end" transform="translate(0 -103.8) scale(1 1.05)">10</text>
<text x="1646.5" y="2058.9" font-size="19" transform="translate(0 -102.9) scale(1 1.05)">2</text>
<polyline points="1696.4,2059.4 1696.4,1997.3 1736.3,1997.3 1736.3,2059.4" fill="none" stroke="#3f58ae" stroke-width="2.2" stroke-linejoin="round" stroke-linejoin="miter"/>
<polyline points="1760.9,2059.4 1760.9,1848.6 1800.8,1848.6 1800.8,2059.4" fill="none" stroke="#e62226" stroke-width="2.2" stroke-linejoin="round" stroke-linejoin="miter"/>
<line x1="1717.1" y1="1985.5" x2="1717.1" y2="2010" stroke="#3f58ae" stroke-width="2"/>
<line x1="1707.3" y1="1985.5" x2="1726.9" y2="1985.5" stroke="#3f58ae" stroke-width="2"/>
<line x1="1707.3" y1="2010" x2="1726.9" y2="2010" stroke="#3f58ae" stroke-width="2"/>
<line x1="1780.7" y1="1838.3" x2="1780.7" y2="1860.5" stroke="#e62226" stroke-width="2"/>
<line x1="1770.9" y1="1838.3" x2="1790.5" y2="1838.3" stroke="#e62226" stroke-width="2"/>
<line x1="1770.9" y1="1860.5" x2="1790.5" y2="1860.5" stroke="#e62226" stroke-width="2"/>
<circle cx="1717.1" cy="1970.7" r="10.3" fill="#405bb0" stroke="#111" stroke-width="1.8"/>
<circle cx="1706.2" cy="2004.7" r="10.3" fill="#405bb0" stroke="#111" stroke-width="1.8"/>
<circle cx="1728" cy="2004.7" r="10.3" fill="#405bb0" stroke="#111" stroke-width="1.8"/>
<circle cx="1717.1" cy="2033.4" r="10.3" fill="#405bb0" stroke="#111" stroke-width="1.8"/>
<circle cx="1791.9" cy="1827.4" r="10.3" fill="#eb4244" stroke="#111" stroke-width="1.8"/>
<circle cx="1769.7" cy="1839.2" r="10.3" fill="#eb4244" stroke="#111" stroke-width="1.8"/>
<circle cx="1791.9" cy="1859.9" r="10.3" fill="#eb4244" stroke="#111" stroke-width="1.8"/>
<circle cx="1780.7" cy="1890" r="10.3" fill="#eb4244" stroke="#111" stroke-width="1.8"/>
<line x1="1659.5" y1="2059.4" x2="1825" y2="2059.4" stroke="#111" stroke-width="2.2"/>
<line x1="1716.5" y1="2059.4" x2="1716.5" y2="2071.4" stroke="#111" stroke-width="2.2"/>
<line x1="1780.7" y1="2059.4" x2="1780.7" y2="2071.4" stroke="#111" stroke-width="2.2"/>
<polyline points="1716.5,1951.5 1716.5,1747.5 1777.1,1747.5 1777.1,1790.4" fill="none" stroke="#111" stroke-width="1.8" stroke-linejoin="round" stroke-linejoin="miter"/>
<text x="1746.7" y="1744" font-size="17" text-anchor="middle" textLength="31" lengthAdjust="spacingAndGlyphs" transform="translate(0 -87.2) scale(1 1.05)">0.03</text>
<circle cx="1452.7" cy="2121.3" r="10.3" fill="#405bb0" stroke="#111" stroke-width="1.8"/>
<text x="1479.5" y="2132.3" font-size="32" transform="translate(0 -106.6) scale(1 1.05)">19-HIT</text>
<circle cx="1606.3" cy="2121.5" r="10.3" fill="#eb4244" stroke="#111" stroke-width="1.8"/>
<text x="1634.5" y="2132.3" font-size="32" transform="translate(0 -106.6) scale(1 1.05)">19-HIT</text>
<text x="1730.5" y="2119.5" font-size="19.5" transform="translate(0 -106) scale(1 1.05)">80BB</text>
<text x="1840" y="1703.2" font-size="37" font-weight="bold" transform="translate(0 -85.2) scale(1 1.05)">j</text>
<line x1="1932.3" y1="1754" x2="1932.3" y2="2058.3" stroke="#111" stroke-width="2.2"/>
<line x1="1921" y1="2057.3" x2="1932.3" y2="2057.3" stroke="#111" stroke-width="2.2"/>
<line x1="1926.5" y1="2040.2" x2="1932.3" y2="2040.2" stroke="#111" stroke-width="1.6"/>
<line x1="1926.5" y1="2030.1" x2="1932.3" y2="2030.1" stroke="#111" stroke-width="1.6"/>
<line x1="1926.5" y1="2023" x2="1932.3" y2="2023" stroke="#111" stroke-width="1.6"/>
<line x1="1926.5" y1="2017.5" x2="1932.3" y2="2017.5" stroke="#111" stroke-width="1.6"/>
<line x1="1926.5" y1="2013" x2="1932.3" y2="2013" stroke="#111" stroke-width="1.6"/>
<line x1="1926.5" y1="2009.2" x2="1932.3" y2="2009.2" stroke="#111" stroke-width="1.6"/>
<line x1="1926.5" y1="2005.9" x2="1932.3" y2="2005.9" stroke="#111" stroke-width="1.6"/>
<line x1="1926.5" y1="2003" x2="1932.3" y2="2003" stroke="#111" stroke-width="1.6"/>
<line x1="1921" y1="2000.4" x2="1932.3" y2="2000.4" stroke="#111" stroke-width="2.2"/>
<line x1="1926.5" y1="1983.2" x2="1932.3" y2="1983.2" stroke="#111" stroke-width="1.6"/>
<line x1="1926.5" y1="1973.2" x2="1932.3" y2="1973.2" stroke="#111" stroke-width="1.6"/>
<line x1="1926.5" y1="1966.1" x2="1932.3" y2="1966.1" stroke="#111" stroke-width="1.6"/>
<line x1="1926.5" y1="1960.6" x2="1932.3" y2="1960.6" stroke="#111" stroke-width="1.6"/>
<line x1="1926.5" y1="1956.1" x2="1932.3" y2="1956.1" stroke="#111" stroke-width="1.6"/>
<line x1="1926.5" y1="1952.3" x2="1932.3" y2="1952.3" stroke="#111" stroke-width="1.6"/>
<line x1="1926.5" y1="1949" x2="1932.3" y2="1949" stroke="#111" stroke-width="1.6"/>
<line x1="1926.5" y1="1946.1" x2="1932.3" y2="1946.1" stroke="#111" stroke-width="1.6"/>
<line x1="1921" y1="1943.5" x2="1932.3" y2="1943.5" stroke="#111" stroke-width="2.2"/>
<line x1="1926.5" y1="1926.3" x2="1932.3" y2="1926.3" stroke="#111" stroke-width="1.6"/>
<line x1="1926.5" y1="1916.3" x2="1932.3" y2="1916.3" stroke="#111" stroke-width="1.6"/>
<line x1="1926.5" y1="1909.2" x2="1932.3" y2="1909.2" stroke="#111" stroke-width="1.6"/>
<line x1="1926.5" y1="1903.7" x2="1932.3" y2="1903.7" stroke="#111" stroke-width="1.6"/>
<line x1="1926.5" y1="1899.2" x2="1932.3" y2="1899.2" stroke="#111" stroke-width="1.6"/>
<line x1="1926.5" y1="1895.4" x2="1932.3" y2="1895.4" stroke="#111" stroke-width="1.6"/>
<line x1="1926.5" y1="1892.1" x2="1932.3" y2="1892.1" stroke="#111" stroke-width="1.6"/>
<line x1="1926.5" y1="1889.1" x2="1932.3" y2="1889.1" stroke="#111" stroke-width="1.6"/>
<line x1="1921" y1="1886.5" x2="1932.3" y2="1886.5" stroke="#111" stroke-width="2.2"/>
<line x1="1926.5" y1="1869.4" x2="1932.3" y2="1869.4" stroke="#111" stroke-width="1.6"/>
<line x1="1926.5" y1="1859.4" x2="1932.3" y2="1859.4" stroke="#111" stroke-width="1.6"/>
<line x1="1926.5" y1="1852.3" x2="1932.3" y2="1852.3" stroke="#111" stroke-width="1.6"/>
<line x1="1926.5" y1="1846.8" x2="1932.3" y2="1846.8" stroke="#111" stroke-width="1.6"/>
<line x1="1926.5" y1="1842.2" x2="1932.3" y2="1842.2" stroke="#111" stroke-width="1.6"/>
<line x1="1926.5" y1="1838.4" x2="1932.3" y2="1838.4" stroke="#111" stroke-width="1.6"/>
<line x1="1926.5" y1="1835.1" x2="1932.3" y2="1835.1" stroke="#111" stroke-width="1.6"/>
<line x1="1926.5" y1="1832.2" x2="1932.3" y2="1832.2" stroke="#111" stroke-width="1.6"/>
<line x1="1921" y1="1829.6" x2="1932.3" y2="1829.6" stroke="#111" stroke-width="2.2"/>
<line x1="1926.5" y1="1812.5" x2="1932.3" y2="1812.5" stroke="#111" stroke-width="1.6"/>
<line x1="1926.5" y1="1802.5" x2="1932.3" y2="1802.5" stroke="#111" stroke-width="1.6"/>
<line x1="1926.5" y1="1795.4" x2="1932.3" y2="1795.4" stroke="#111" stroke-width="1.6"/>
<line x1="1926.5" y1="1789.8" x2="1932.3" y2="1789.8" stroke="#111" stroke-width="1.6"/>
<line x1="1926.5" y1="1785.3" x2="1932.3" y2="1785.3" stroke="#111" stroke-width="1.6"/>
<line x1="1926.5" y1="1781.5" x2="1932.3" y2="1781.5" stroke="#111" stroke-width="1.6"/>
<line x1="1926.5" y1="1778.2" x2="1932.3" y2="1778.2" stroke="#111" stroke-width="1.6"/>
<line x1="1926.5" y1="1775.3" x2="1932.3" y2="1775.3" stroke="#111" stroke-width="1.6"/>
<line x1="1921" y1="1772.7" x2="1932.3" y2="1772.7" stroke="#111" stroke-width="2.2"/>
<line x1="1926.5" y1="1755.6" x2="1932.3" y2="1755.6" stroke="#111" stroke-width="1.6"/>
<text x="1907.5" y="1795.1" font-size="31.5" text-anchor="end" transform="translate(0 -89.8) scale(1 1.05)">10</text>
<text x="1904" y="1770.9" font-size="19" transform="translate(0 -88.5) scale(1 1.05)">7</text>
<text x="1907.5" y="1852.3" font-size="31.5" text-anchor="end" transform="translate(0 -92.6) scale(1 1.05)">10</text>
<text x="1904" y="1828.1" font-size="19" transform="translate(0 -91.4) scale(1 1.05)">6</text>
<text x="1907.5" y="1909.5" font-size="31.5" text-anchor="end" transform="translate(0 -95.5) scale(1 1.05)">10</text>
<text x="1904" y="1885.3" font-size="19" transform="translate(0 -94.3) scale(1 1.05)">5</text>
<text x="1907.5" y="1966.7" font-size="31.5" text-anchor="end" transform="translate(0 -98.3) scale(1 1.05)">10</text>
<text x="1904" y="1942.5" font-size="19" transform="translate(0 -97.1) scale(1 1.05)">4</text>
<text x="1907.5" y="2023.9" font-size="31.5" text-anchor="end" transform="translate(0 -101.2) scale(1 1.05)">10</text>
<text x="1904" y="1999.7" font-size="19" transform="translate(0 -100) scale(1 1.05)">3</text>
<text x="1907.5" y="2081.1" font-size="31.5" text-anchor="end" transform="translate(0 -104.1) scale(1 1.05)">10</text>
<text x="1904" y="2056.9" font-size="19" transform="translate(0 -102.8) scale(1 1.05)">2</text>
<polyline points="1958.0,2057.3 1958.0,1786.0 1998.0,1786.0 1998.0,2057.3" fill="none" stroke="#3f58ae" stroke-width="2.2" stroke-linejoin="round" stroke-linejoin="miter"/>
<polyline points="2022.5,2057.3 2022.5,1849.0 2062.4,1849.0 2062.4,2057.3" fill="none" stroke="#e62226" stroke-width="2.2" stroke-linejoin="round" stroke-linejoin="miter"/>
<line x1="2043" y1="1837.7" x2="2043" y2="1862.8" stroke="#e62226" stroke-width="2"/>
<line x1="2033.4" y1="1837.7" x2="2052.6" y2="1837.7" stroke="#e62226" stroke-width="2"/>
<line x1="2033.4" y1="1862.8" x2="2052.6" y2="1862.8" stroke="#e62226" stroke-width="2"/>
<circle cx="1975.8" cy="1772.7" r="10.3" fill="#405bb0" stroke="#111" stroke-width="1.8"/>
<circle cx="1992.6" cy="1779.5" r="10.3" fill="#405bb0" stroke="#111" stroke-width="1.8"/>
<circle cx="1966.9" cy="1786.6" r="10.3" fill="#405bb0" stroke="#111" stroke-width="1.8"/>
<circle cx="1983.1" cy="1786.6" r="10.3" fill="#405bb0" stroke="#111" stroke-width="1.8"/>
<circle cx="2056.4" cy="1828.8" r="10.3" fill="#eb4244" stroke="#111" stroke-width="1.8"/>
<circle cx="2031.3" cy="1835.3" r="10.3" fill="#eb4244" stroke="#111" stroke-width="1.8"/>
<circle cx="2057" cy="1876.1" r="10.3" fill="#eb4244" stroke="#111" stroke-width="1.8"/>
<circle cx="2031.3" cy="1897.7" r="10.3" fill="#eb4244" stroke="#111" stroke-width="1.8"/>
<line x1="1921" y1="2057.3" x2="2085.1" y2="2057.3" stroke="#111" stroke-width="2.2"/>
<line x1="1976.3" y1="2057.3" x2="1976.3" y2="2069.3" stroke="#111" stroke-width="2.2"/>
<line x1="2041.4" y1="2057.3" x2="2041.4" y2="2069.3" stroke="#111" stroke-width="2.2"/>
<polyline points="1978.1,1759.4 1978.1,1750.5 2042.3,1750.5 2042.3,1823.0" fill="none" stroke="#111" stroke-width="1.8" stroke-linejoin="round" stroke-linejoin="miter"/>
<text x="2009.2" y="1744.6" font-size="17" text-anchor="middle" textLength="31" lengthAdjust="spacingAndGlyphs" transform="translate(0 -87.2) scale(1 1.05)">0.03</text>
<text x="1864" y="1904.2" font-size="32" text-anchor="middle" transform="rotate(-90 1864 1904.2)">NALM6 count</text>
</svg>
</body></html>
